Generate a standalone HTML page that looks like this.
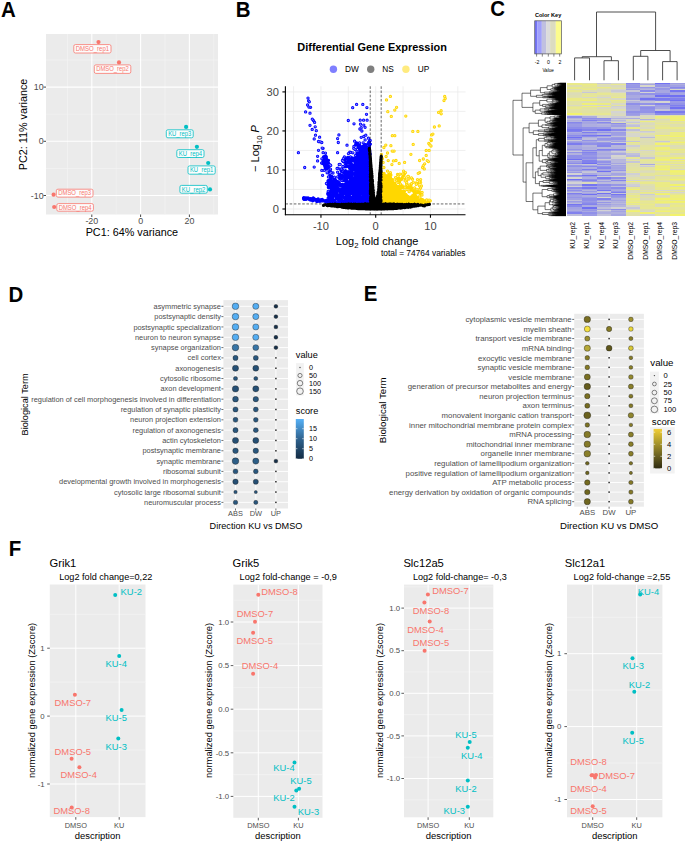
<!DOCTYPE html>
<html><head><meta charset="utf-8"><style>
html,body{margin:0;padding:0;background:#fff;}
svg{display:block;font-family:"Liberation Sans",sans-serif;}
</style></head><body>
<svg width="685" height="842" viewBox="0 0 685 842">
<text transform="translate(0.9 17.1) scale(0.93 1)" font-size="22" font-weight="bold" fill="#000">A</text>
<text transform="translate(235.8 17.3) scale(0.93 1)" font-size="22" font-weight="bold" fill="#000">B</text>
<text transform="translate(490.3 16) scale(0.93 1)" font-size="22" font-weight="bold" fill="#000">C</text>
<text transform="translate(8.5 301.6) scale(0.93 1)" font-size="22" font-weight="bold" fill="#000">D</text>
<text transform="translate(363.7 301.4) scale(0.93 1)" font-size="22" font-weight="bold" fill="#000">E</text>
<text transform="translate(8.8 556.4) scale(0.93 1)" font-size="22" font-weight="bold" fill="#000">F</text>
<rect x="46" y="34" width="172" height="180.5" fill="#EBEBEB"/>
<line x1="67.4" y1="34" x2="67.4" y2="214.5" stroke="#F5F5F5" stroke-width="0.6"/>
<line x1="116.2" y1="34" x2="116.2" y2="214.5" stroke="#F5F5F5" stroke-width="0.6"/>
<line x1="165" y1="34" x2="165" y2="214.5" stroke="#F5F5F5" stroke-width="0.6"/>
<line x1="213.8" y1="34" x2="213.8" y2="214.5" stroke="#F5F5F5" stroke-width="0.6"/>
<line x1="46" y1="60" x2="218" y2="60" stroke="#F5F5F5" stroke-width="0.6"/>
<line x1="46" y1="114.2" x2="218" y2="114.2" stroke="#F5F5F5" stroke-width="0.6"/>
<line x1="46" y1="168.4" x2="218" y2="168.4" stroke="#F5F5F5" stroke-width="0.6"/>
<line x1="91.8" y1="34" x2="91.8" y2="214.5" stroke="#FFFFFF" stroke-width="1.1"/>
<line x1="140.6" y1="34" x2="140.6" y2="214.5" stroke="#FFFFFF" stroke-width="1.1"/>
<line x1="189.4" y1="34" x2="189.4" y2="214.5" stroke="#FFFFFF" stroke-width="1.1"/>
<line x1="46" y1="87.1" x2="218" y2="87.1" stroke="#FFFFFF" stroke-width="1.1"/>
<line x1="46" y1="141.3" x2="218" y2="141.3" stroke="#FFFFFF" stroke-width="1.1"/>
<line x1="46" y1="195.5" x2="218" y2="195.5" stroke="#FFFFFF" stroke-width="1.1"/>
<line x1="43.5" y1="87.1" x2="46" y2="87.1" stroke="#333" stroke-width="0.9"/>
<text x="43.6" y="90.22" font-size="8.9" fill="#4D4D4D" text-anchor="end">10</text>
<line x1="43.5" y1="141.3" x2="46" y2="141.3" stroke="#333" stroke-width="0.9"/>
<text x="43.6" y="144.42" font-size="8.9" fill="#4D4D4D" text-anchor="end">0</text>
<line x1="43.5" y1="195.5" x2="46" y2="195.5" stroke="#333" stroke-width="0.9"/>
<text x="43.6" y="198.62" font-size="8.9" fill="#4D4D4D" text-anchor="end">-10</text>
<line x1="91.8" y1="214.5" x2="91.8" y2="217" stroke="#333" stroke-width="0.9"/>
<text x="91.8" y="224.4" font-size="8.9" fill="#4D4D4D" text-anchor="middle">-20</text>
<line x1="140.6" y1="214.5" x2="140.6" y2="217" stroke="#333" stroke-width="0.9"/>
<text x="140.6" y="224.4" font-size="8.9" fill="#4D4D4D" text-anchor="middle">0</text>
<line x1="189.4" y1="214.5" x2="189.4" y2="217" stroke="#333" stroke-width="0.9"/>
<text x="189.4" y="224.4" font-size="8.9" fill="#4D4D4D" text-anchor="middle">20</text>
<text x="131.9" y="235.8" font-size="10.8" fill="#000" text-anchor="middle">PC1: 64% variance</text>
<text x="27.3" y="124.5" font-size="10.8" fill="#000" text-anchor="middle" transform="rotate(-90 27.3 124.5)">PC2: 11% variance</text>
<circle cx="98.5" cy="42.1" r="2.1" fill="#F8766D"/>
<circle cx="119" cy="62.4" r="2.1" fill="#F8766D"/>
<circle cx="53.6" cy="194.7" r="2.1" fill="#F8766D"/>
<circle cx="54.2" cy="207" r="2.1" fill="#F8766D"/>
<circle cx="186.1" cy="126.9" r="2.1" fill="#00BFC4"/>
<circle cx="196.9" cy="146.8" r="2.1" fill="#00BFC4"/>
<circle cx="208.2" cy="163" r="2.1" fill="#00BFC4"/>
<circle cx="210" cy="189.4" r="2.1" fill="#00BFC4"/>
<rect x="73.8" y="44.6" width="37.2" height="8.4" rx="1.6" fill="#fff" fill-opacity="0.85" stroke="#F8766D" stroke-width="0.8"/>
<text x="92.4" y="51.05" font-size="6.5" fill="#F8766D" text-anchor="middle" textLength="33.4" lengthAdjust="spacingAndGlyphs">DMSO_rep1</text>
<rect x="94.3" y="64.9" width="36.5" height="8.5" rx="1.6" fill="#fff" fill-opacity="0.85" stroke="#F8766D" stroke-width="0.8"/>
<text x="112.55" y="71.4" font-size="6.5" fill="#F8766D" text-anchor="middle" textLength="32.7" lengthAdjust="spacingAndGlyphs">DMSO_rep2</text>
<rect x="56.3" y="189.2" width="36.7" height="7.9" rx="1.6" fill="#fff" fill-opacity="0.85" stroke="#F8766D" stroke-width="0.8"/>
<text x="74.65" y="195.4" font-size="6.5" fill="#F8766D" text-anchor="middle" textLength="32.9" lengthAdjust="spacingAndGlyphs">DMSO_rep3</text>
<rect x="56.8" y="203.6" width="36.6" height="7.6" rx="1.6" fill="#fff" fill-opacity="0.85" stroke="#F8766D" stroke-width="0.8"/>
<text x="75.1" y="209.65" font-size="6.5" fill="#F8766D" text-anchor="middle" textLength="32.8" lengthAdjust="spacingAndGlyphs">DMSO_rep4</text>
<rect x="166.3" y="129.8" width="26.9" height="8" rx="1.6" fill="#fff" fill-opacity="0.85" stroke="#00BFC4" stroke-width="0.8"/>
<text x="179.75" y="136.05" font-size="6.5" fill="#00BFC4" text-anchor="middle" textLength="23.1" lengthAdjust="spacingAndGlyphs">KU_rep3</text>
<rect x="176.8" y="149.7" width="27.2" height="7.8" rx="1.6" fill="#fff" fill-opacity="0.85" stroke="#00BFC4" stroke-width="0.8"/>
<text x="190.4" y="155.85" font-size="6.5" fill="#00BFC4" text-anchor="middle" textLength="23.4" lengthAdjust="spacingAndGlyphs">KU_rep4</text>
<rect x="188" y="165.9" width="27.2" height="8.3" rx="1.6" fill="#fff" fill-opacity="0.85" stroke="#00BFC4" stroke-width="0.8"/>
<text x="201.6" y="172.3" font-size="6.5" fill="#00BFC4" text-anchor="middle" textLength="23.4" lengthAdjust="spacingAndGlyphs">KU_rep1</text>
<rect x="179.9" y="185.4" width="27.4" height="7.8" rx="1.6" fill="#fff" fill-opacity="0.85" stroke="#00BFC4" stroke-width="0.8"/>
<text x="193.6" y="191.55" font-size="6.5" fill="#00BFC4" text-anchor="middle" textLength="23.6" lengthAdjust="spacingAndGlyphs">KU_rep2</text>
<text x="372.1" y="50.6" font-size="10.95" fill="#000" text-anchor="middle" font-weight="bold">Differential Gene Expression</text>
<circle cx="333.4" cy="69.3" r="3.7" fill="#0000FF" fill-opacity="0.5"/>
<text x="345.1" y="72.2" font-size="8.3" fill="#000">DW</text>
<circle cx="370.7" cy="69.3" r="3.7" fill="#000000" fill-opacity="0.5"/>
<text x="382.3" y="72.2" font-size="8.3" fill="#000">NS</text>
<circle cx="405.9" cy="69.3" r="3.7" fill="#FFD700" fill-opacity="0.5"/>
<text x="417.8" y="72.2" font-size="8.3" fill="#000">UP</text>
<line x1="293.57" y1="86.3" x2="293.57" y2="214.7" stroke="#EBEBEB" stroke-width="0.8"/>
<line x1="320.95" y1="86.3" x2="320.95" y2="214.7" stroke="#EBEBEB" stroke-width="0.8"/>
<line x1="348.32" y1="86.3" x2="348.32" y2="214.7" stroke="#EBEBEB" stroke-width="0.8"/>
<line x1="375.7" y1="86.3" x2="375.7" y2="214.7" stroke="#EBEBEB" stroke-width="0.8"/>
<line x1="403.07" y1="86.3" x2="403.07" y2="214.7" stroke="#EBEBEB" stroke-width="0.8"/>
<line x1="430.45" y1="86.3" x2="430.45" y2="214.7" stroke="#EBEBEB" stroke-width="0.8"/>
<line x1="457.82" y1="86.3" x2="457.82" y2="214.7" stroke="#EBEBEB" stroke-width="0.8"/>
<line x1="285.4" y1="209" x2="465.5" y2="209" stroke="#EBEBEB" stroke-width="0.8"/>
<line x1="285.4" y1="189.49" x2="465.5" y2="189.49" stroke="#EBEBEB" stroke-width="0.8"/>
<line x1="285.4" y1="169.97" x2="465.5" y2="169.97" stroke="#EBEBEB" stroke-width="0.8"/>
<line x1="285.4" y1="150.45" x2="465.5" y2="150.45" stroke="#EBEBEB" stroke-width="0.8"/>
<line x1="285.4" y1="130.94" x2="465.5" y2="130.94" stroke="#EBEBEB" stroke-width="0.8"/>
<line x1="285.4" y1="111.42" x2="465.5" y2="111.42" stroke="#EBEBEB" stroke-width="0.8"/>
<line x1="285.4" y1="91.91" x2="465.5" y2="91.91" stroke="#EBEBEB" stroke-width="0.8"/>
<path d="M361.3 167.9h0M321.8 142.5h0M369.3 143.0h0M369.2 145.2h0M359.4 164.7h0M347.8 190.3h0M361.4 184.8h0M353.4 180.9h0M369.1 150.9h0M349.5 200.3h0M366.5 146.8h0M313.4 199.0h0M368.2 203.1h0M366.0 182.2h0M362.2 154.0h0M349.3 189.7h0M354.4 199.9h0M352.8 201.9h0M358.1 158.7h0M318.5 141.5h0M365.8 147.6h0M367.9 201.6h0M342.8 192.5h0M361.1 185.4h0M328.6 180.4h0M357.0 163.9h0M362.4 151.5h0M364.5 178.9h0M362.1 158.4h0M351.7 168.2h0M345.7 163.1h0M359.0 188.4h0M360.5 184.0h0M324.9 158.4h0M350.5 162.5h0M354.9 189.6h0M334.3 200.2h0M369.3 184.6h0M343.7 194.0h0M365.8 190.2h0M364.3 196.7h0M336.1 202.7h0M354.7 159.4h0M362.0 188.4h0M334.9 186.9h0M368.8 202.2h0M366.0 153.1h0M357.4 180.2h0M369.1 173.7h0M355.8 143.8h0M342.2 202.5h0M359.7 187.0h0M352.3 169.0h0M348.5 201.6h0M352.7 107.7h0M369.8 175.6h0M357.4 191.1h0M365.4 168.8h0M369.1 181.9h0M354.5 196.3h0M335.3 191.1h0M365.2 203.5h0M359.7 175.0h0M330.7 165.4h0M365.4 144.9h0M358.1 160.9h0M369.1 196.4h0M355.7 194.3h0M359.0 203.9h0M360.9 179.8h0M325.5 153.1h0M332.1 188.3h0M325.6 167.1h0M368.0 202.0h0M336.6 181.2h0M326.6 159.8h0M360.2 158.3h0M328.2 191.3h0M352.0 203.4h0M367.1 196.6h0M356.8 198.7h0M350.2 182.0h0M310.0 113.2h0M348.4 192.0h0M337.1 198.2h0M354.0 184.5h0M366.1 188.6h0M334.1 184.9h0M337.6 152.7h0M366.4 175.7h0M348.7 195.6h0M346.3 183.9h0M329.9 164.7h0M357.7 181.9h0M355.4 168.9h0M350.4 194.1h0M361.5 149.9h0M369.6 183.8h0M355.9 163.0h0M347.0 200.0h0M339.5 195.3h0M356.2 192.2h0M368.3 201.3h0M362.9 166.1h0M351.8 193.0h0M363.6 203.5h0M349.8 194.2h0M355.0 189.7h0M359.9 129.0h0M349.1 181.9h0M328.6 199.5h0M337.8 187.5h0M369.1 199.5h0M344.1 172.4h0M365.4 201.4h0M355.3 177.5h0M361.1 184.0h0M356.0 181.1h0M310.6 198.6h0M360.1 172.5h0M345.3 184.4h0M362.4 147.1h0M344.7 173.6h0M349.1 171.7h0M363.5 191.8h0M345.2 163.5h0M348.3 172.7h0M330.2 177.2h0M323.0 200.1h0M365.4 158.9h0M320.2 141.8h0M332.0 199.8h0M357.3 185.4h0M343.6 189.1h0M344.9 188.9h0M369.9 194.7h0M366.0 175.9h0M341.5 177.2h0M344.8 184.5h0M354.6 197.9h0M350.4 180.7h0M326.6 161.6h0M363.3 203.8h0M355.7 164.0h0M365.8 159.7h0M367.1 196.0h0M342.3 179.5h0M360.1 199.6h0M363.4 146.3h0M366.0 194.6h0M369.9 185.3h0M369.2 199.4h0M334.3 192.7h0M337.4 195.9h0M329.8 181.8h0M341.5 184.6h0M366.3 165.0h0M363.2 167.5h0M358.6 164.8h0M367.6 201.7h0M308.9 199.1h0M328.4 162.8h0M352.4 190.8h0M355.6 168.1h0M369.7 198.2h0M337.1 188.0h0M355.5 155.5h0M326.9 160.0h0M348.4 159.9h0M339.6 178.2h0M355.9 176.5h0M362.8 198.3h0M365.5 158.7h0M355.3 202.0h0M361.5 179.0h0M355.3 182.2h0M352.0 184.1h0M362.5 154.9h0M368.4 175.9h0M365.9 195.3h0M321.6 163.1h0M369.5 183.7h0M361.7 200.6h0M336.8 183.1h0M367.1 178.9h0M369.6 175.5h0M337.6 172.2h0M368.6 153.6h0M361.0 169.4h0M332.3 201.8h0M369.4 194.8h0M359.1 180.1h0M361.1 202.6h0M353.5 191.9h0M342.4 178.2h0M370.2 140.5h0M366.7 150.2h0M355.8 201.9h0M357.9 191.1h0M352.2 191.2h0M339.2 174.5h0M366.1 174.6h0M359.5 186.3h0M368.3 175.5h0M340.7 169.6h0M355.7 169.9h0M366.5 191.6h0M369.2 163.7h0M354.7 195.7h0M363.0 190.0h0M364.1 185.5h0M359.4 192.8h0M332.7 193.0h0M351.6 181.2h0M368.3 156.1h0M365.6 203.6h0M346.2 176.5h0M369.5 169.4h0M358.5 178.9h0M364.0 162.3h0M367.5 180.7h0M350.6 202.5h0M348.2 202.4h0M364.4 149.8h0M366.1 199.0h0M320.8 200.2h0M366.5 150.8h0M355.6 144.9h0M356.9 195.8h0M360.4 151.7h0M344.8 175.8h0M367.3 153.9h0M369.4 158.5h0M366.6 148.4h0M369.3 168.9h0M338.7 202.9h0M339.1 184.3h0M361.9 188.8h0M339.2 182.3h0M345.9 203.2h0M358.1 165.4h0M341.7 173.5h0M365.6 185.2h0M359.4 187.5h0M328.0 180.9h0M363.3 202.8h0M356.1 161.4h0M358.9 191.4h0M365.3 146.3h0M367.6 172.2h0M363.4 183.3h0M336.8 199.1h0M369.2 159.0h0M353.4 168.3h0M360.5 188.8h0M366.1 191.9h0M351.0 159.9h0M364.5 200.2h0M352.1 187.4h0M365.1 169.3h0M358.5 168.4h0M334.3 190.8h0M370.0 183.1h0M343.1 192.2h0M344.2 201.0h0M339.4 198.5h0M355.0 194.2h0M357.4 183.8h0M351.3 168.4h0M353.9 146.4h0M361.7 183.7h0M313.2 200.6h0M358.7 154.5h0M362.5 168.1h0M365.1 158.5h0M369.7 140.8h0M365.4 154.6h0M358.3 156.3h0M362.7 164.7h0M363.3 197.1h0M355.0 180.2h0M363.4 152.9h0M363.5 196.3h0M369.3 202.9h0M333.3 202.9h0M369.5 202.7h0M370.2 188.8h0M368.7 197.8h0M357.8 173.9h0M355.8 195.5h0M368.9 162.4h0M365.5 192.6h0M362.8 189.9h0M358.0 189.1h0M361.0 184.8h0M331.7 183.3h0M360.9 180.5h0M363.4 179.8h0M359.5 145.2h0M337.9 189.3h0M336.9 189.7h0M369.6 190.2h0M363.2 188.4h0M361.9 161.0h0M360.1 153.7h0M360.9 179.3h0M355.8 169.4h0M355.6 182.1h0M361.6 169.0h0M331.7 186.8h0M366.1 203.9h0M361.2 127.7h0M343.2 161.5h0M364.2 150.2h0M370.0 194.0h0M361.4 184.4h0M336.9 187.9h0M369.8 177.9h0M362.1 193.7h0M352.0 186.1h0M354.9 167.4h0M365.6 171.0h0M364.1 187.8h0M327.3 168.4h0M366.3 163.4h0M359.1 186.4h0M359.2 168.3h0M368.3 201.0h0M350.4 177.6h0M339.2 180.8h0M365.2 200.7h0M325.7 165.8h0M343.0 202.5h0M329.7 184.4h0M349.9 176.5h0M350.9 186.4h0M369.7 196.2h0M357.6 186.6h0M355.1 191.4h0M334.0 192.5h0M358.7 145.5h0M369.5 153.2h0M345.2 202.8h0M348.7 188.0h0M368.2 171.3h0M357.9 199.6h0M359.3 194.2h0M358.8 185.2h0M352.0 165.7h0M337.9 197.2h0M309.2 199.2h0M344.9 166.9h0M357.5 199.1h0M317.3 199.4h0M359.3 202.5h0M337.2 195.7h0M358.2 147.5h0M334.5 185.8h0M322.2 199.5h0M321.8 170.4h0M305.8 199.0h0M358.7 162.4h0M335.3 184.3h0M365.2 189.7h0M360.7 189.5h0M331.6 197.8h0M360.3 159.7h0M370.1 179.3h0M352.2 174.8h0M367.5 190.9h0M369.7 201.0h0M367.5 181.3h0M364.1 198.5h0M355.7 159.3h0M354.7 173.3h0M358.5 178.6h0M355.3 202.5h0M369.7 152.1h0M364.5 180.6h0M359.1 190.4h0M363.3 188.2h0M329.7 185.7h0M334.9 201.7h0M325.3 168.4h0M368.2 182.8h0M363.8 170.8h0M354.0 183.4h0M349.3 201.0h0M365.5 201.6h0M369.6 189.5h0M366.4 201.7h0M361.2 198.8h0M355.1 179.0h0M352.0 167.6h0M368.2 152.6h0M344.8 192.9h0M365.6 157.5h0M359.7 170.3h0M360.6 175.8h0M367.2 176.4h0M312.6 200.8h0M350.1 174.7h0M363.5 186.7h0M353.9 169.8h0M359.2 203.6h0M352.7 167.1h0M331.5 189.4h0M368.0 165.8h0M305.6 111.9h0M313.6 120.7h0M337.3 203.9h0M340.7 186.2h0M367.2 202.3h0M349.7 168.4h0M328.5 201.1h0M362.7 177.6h0M368.3 152.6h0M364.8 161.8h0M365.5 155.1h0M359.7 156.4h0M362.5 190.7h0M344.4 203.0h0M357.9 177.6h0M366.9 180.7h0M337.6 199.0h0M346.1 185.4h0M345.2 172.7h0M361.8 175.8h0M363.0 193.4h0M330.4 202.2h0M364.7 194.1h0M352.0 189.5h0M363.1 142.8h0M340.0 189.7h0M366.0 191.7h0M324.2 163.4h0M365.2 180.5h0M356.1 159.2h0M360.0 195.4h0M366.2 203.8h0M364.8 151.2h0M362.2 154.9h0M354.7 195.2h0M310.4 200.1h0M366.0 166.6h0M329.7 199.2h0M357.6 193.0h0M332.1 203.1h0" stroke="#0000FF" stroke-width="3.3" stroke-linecap="round" fill="none"/>
<path d="M321.8 142.5h0M318.5 141.5h0M352.7 107.7h0M330.7 165.4h0M325.5 153.1h0M328.2 191.3h0M310.0 113.2h0M337.6 152.7h0M329.9 164.7h0M359.9 129.0h0M345.2 163.5h0M320.2 141.8h0M355.5 155.5h0M321.6 163.1h0M337.6 172.2h0M370.2 140.5h0M339.2 174.5h0M340.7 169.6h0M341.7 173.5h0M353.9 146.4h0M361.2 127.7h0M343.2 161.5h0M339.2 180.8h0M321.8 170.4h0M305.6 111.9h0M313.6 120.7h0M363.1 142.8h0" stroke="#8282FF" stroke-width="1.5" stroke-linecap="round" fill="none"/>
<path d="M313.0 199.8h0M367.2 183.7h0M358.1 178.2h0M354.8 175.7h0M367.8 170.3h0M367.8 198.3h0M334.1 178.3h0M362.0 197.6h0M332.2 190.8h0M329.1 201.9h0M361.4 180.6h0M334.9 185.9h0M336.7 192.5h0M359.0 157.7h0M354.4 177.9h0M368.8 157.7h0M345.7 189.9h0M368.9 159.0h0M361.4 169.2h0M355.6 179.4h0M358.8 175.6h0M366.7 203.6h0M355.8 162.8h0M368.2 183.6h0M350.8 198.3h0M368.1 170.8h0M343.5 161.2h0M356.5 197.3h0M360.8 172.9h0M310.6 107.3h0M369.3 141.7h0M331.1 203.3h0M322.6 175.3h0M364.5 155.2h0M358.8 186.4h0M367.0 196.0h0M325.2 161.7h0M351.3 165.0h0M361.0 171.7h0M367.9 198.1h0M343.8 187.8h0M362.2 199.3h0M365.3 170.5h0M367.9 196.9h0M349.0 157.7h0M368.3 201.6h0M369.2 181.4h0M360.4 160.8h0M365.6 171.6h0M331.7 176.3h0M351.7 193.3h0M363.7 194.8h0M364.7 199.1h0M338.6 182.6h0M334.6 202.9h0M313.2 198.0h0M351.3 164.2h0M342.9 193.1h0M364.4 187.6h0M356.3 190.8h0M357.2 181.5h0M345.1 185.2h0M366.1 177.7h0M337.7 197.6h0M329.0 195.5h0M353.4 201.5h0M312.0 199.0h0M364.4 163.1h0M340.2 164.4h0M354.6 185.4h0M363.4 162.9h0M347.5 190.0h0M367.7 174.5h0M350.5 203.8h0M366.7 193.5h0M334.9 184.6h0M362.1 156.6h0M364.0 198.9h0M357.9 195.6h0M363.6 188.0h0M366.5 166.6h0M348.5 163.2h0M305.7 198.0h0M368.5 176.4h0M333.3 203.8h0M365.5 174.7h0M356.6 144.8h0M363.8 136.5h0M334.1 195.9h0M365.8 176.7h0M357.5 170.1h0M356.9 186.0h0M350.0 162.3h0M347.9 198.0h0M335.2 189.6h0M339.4 177.2h0M366.1 175.8h0M359.8 190.8h0M360.4 152.4h0M335.3 192.1h0M323.1 152.7h0M326.4 156.9h0M366.8 188.7h0M348.8 201.5h0M367.0 172.4h0M323.0 163.7h0M369.1 157.2h0M343.2 191.0h0M369.1 200.3h0M366.4 164.0h0M367.4 184.4h0M342.4 169.7h0M361.0 161.3h0M357.4 170.1h0M368.5 203.0h0M362.7 180.2h0M361.1 191.8h0M361.2 154.1h0M358.0 187.7h0M352.4 158.0h0M364.8 163.2h0M362.6 171.4h0M357.7 198.5h0M345.1 201.7h0M367.2 163.5h0M367.6 201.0h0M350.3 186.2h0M355.1 194.9h0M357.9 162.2h0M364.2 174.8h0M327.8 193.3h0M353.4 186.5h0M344.1 201.3h0M363.5 170.7h0M347.0 181.1h0M350.5 197.9h0M333.0 190.2h0M355.0 185.0h0M345.7 180.2h0M359.3 199.8h0M340.4 196.0h0M363.5 189.7h0M367.4 170.9h0M367.3 199.8h0M366.7 203.1h0M362.5 201.9h0M365.7 188.7h0M356.9 151.3h0M364.7 190.6h0M367.8 184.2h0M369.0 174.8h0M356.2 162.7h0M346.3 179.4h0M325.7 157.3h0M353.1 196.2h0M346.4 181.2h0M359.3 157.9h0M360.3 198.1h0M336.6 203.2h0M347.0 145.2h0M358.5 202.6h0M368.3 203.3h0M369.5 197.6h0M344.8 192.2h0M366.7 164.0h0M370.2 154.1h0M364.6 177.3h0M333.8 193.8h0M364.6 186.6h0M366.9 173.3h0M363.6 163.0h0M368.1 171.9h0M341.5 203.5h0M306.9 198.6h0M327.0 201.5h0M365.0 201.9h0M365.8 135.2h0M354.3 203.1h0M357.5 175.5h0M356.6 104.4h0M363.8 154.8h0M329.3 180.3h0M328.5 160.3h0M323.5 156.9h0M329.9 183.4h0M350.3 180.4h0M354.7 187.2h0M366.9 176.0h0M369.3 155.6h0M364.4 191.1h0M349.6 199.7h0M364.7 152.9h0M370.4 144.1h0M357.3 195.3h0M358.4 170.8h0M366.6 161.7h0M353.1 196.7h0M359.6 149.6h0M352.9 179.5h0M361.1 170.2h0M366.2 151.7h0M341.7 185.6h0M366.3 185.5h0M343.8 193.4h0M354.7 186.3h0M342.5 188.6h0M369.5 165.5h0M369.7 172.0h0M367.1 120.2h0M326.2 158.1h0M367.2 195.4h0M336.6 185.8h0M353.7 181.7h0M355.3 190.2h0M358.4 163.1h0M369.9 182.3h0M356.5 201.4h0M367.1 182.7h0M361.6 160.7h0M357.3 156.4h0M363.7 202.6h0M353.3 199.6h0M369.7 144.8h0M358.3 178.0h0M318.5 150.3h0M367.8 178.1h0M364.4 193.1h0M362.8 186.6h0M365.4 183.6h0M368.4 138.2h0M352.2 160.6h0M330.8 182.4h0M356.8 172.6h0M365.3 149.9h0M370.1 194.7h0M361.7 158.1h0M324.6 201.0h0M313.0 199.2h0M358.2 166.6h0M368.5 173.4h0M356.9 201.9h0M362.7 161.5h0M356.5 185.5h0M346.4 173.2h0M335.9 181.7h0M330.8 200.2h0M334.9 189.7h0M365.1 127.3h0M355.0 201.7h0M369.4 199.7h0M352.2 191.0h0M339.2 164.5h0M303.5 198.1h0M330.8 198.5h0M368.8 202.5h0M369.9 189.6h0M354.6 167.0h0M367.8 166.2h0M352.6 199.5h0M351.1 169.5h0M364.7 194.1h0M360.2 120.2h0M364.7 169.3h0M366.1 152.6h0M368.5 199.5h0M362.4 202.7h0M361.5 181.3h0M363.6 182.0h0M358.7 202.2h0M329.1 187.1h0M360.5 172.6h0M361.8 198.7h0M338.9 134.9h0M368.2 177.6h0M333.0 173.0h0M361.2 191.1h0M362.8 178.9h0M366.6 195.5h0M354.6 141.2h0M367.2 180.4h0M367.4 183.4h0M355.5 179.3h0M363.6 194.4h0M357.8 175.2h0M340.2 191.2h0M363.4 196.0h0M363.8 125.1h0M365.3 186.9h0M352.8 197.0h0M312.2 198.7h0M350.0 197.7h0M369.7 150.9h0M341.9 191.7h0M350.6 203.7h0M339.0 196.8h0M326.7 200.9h0M347.6 178.1h0M330.8 200.2h0M327.3 201.0h0M365.2 174.9h0M361.0 174.4h0M330.2 200.7h0M346.3 203.7h0M358.8 175.8h0M363.8 167.8h0M346.2 193.5h0M364.8 163.6h0M333.7 180.7h0M368.4 192.2h0M367.3 182.0h0M327.9 201.7h0M365.6 202.4h0M369.1 200.3h0M359.7 193.7h0M348.7 196.5h0M344.4 157.0h0M362.6 164.8h0M358.7 197.1h0M365.2 158.8h0M362.9 160.9h0M315.2 199.7h0M345.1 160.7h0M349.2 195.9h0M356.5 173.7h0M354.4 196.9h0M354.4 188.1h0M369.8 143.9h0M369.1 152.4h0M346.2 203.7h0M367.4 198.0h0M347.6 157.5h0M326.3 201.5h0M353.3 181.6h0M358.4 193.2h0M338.3 142.5h0M365.6 180.9h0M354.0 123.8h0M366.3 191.6h0M360.8 184.8h0M361.9 193.1h0M362.5 186.8h0M349.8 152.1h0M359.4 199.1h0M359.9 152.7h0M366.8 176.4h0M365.2 144.6h0M346.4 195.7h0M336.4 193.1h0M366.1 175.6h0M352.6 199.4h0M346.8 162.5h0M337.9 184.8h0M366.7 153.2h0M347.3 202.4h0M356.2 163.2h0M368.0 159.5h0M364.0 188.9h0M342.4 160.5h0M330.1 193.1h0M341.8 203.7h0M324.0 158.8h0M364.0 200.4h0M358.8 154.9h0M334.9 179.0h0M354.9 185.3h0M315.8 199.5h0M359.4 177.8h0M345.2 191.8h0M366.4 166.5h0M343.5 192.8h0M362.4 197.8h0M361.9 171.1h0M325.7 164.1h0M369.7 203.5h0M370.1 187.7h0M367.6 173.6h0M362.7 175.3h0M360.2 167.2h0M353.5 178.1h0M336.6 190.7h0M352.3 172.1h0M346.2 195.1h0M369.9 190.8h0M356.6 143.0h0M343.1 187.3h0M342.0 199.9h0M366.8 182.2h0M364.0 203.9h0M319.4 201.0h0M366.4 198.6h0M355.5 182.6h0M332.3 183.3h0M305.1 199.2h0M325.7 155.8h0M369.2 201.3h0M354.2 187.6h0M365.6 173.1h0M363.9 158.4h0M315.9 199.9h0M331.2 195.3h0M332.3 190.4h0M358.2 178.2h0M354.6 168.1h0M355.7 149.7h0M345.5 170.7h0M351.0 161.6h0M367.8 152.5h0M364.0 185.7h0M366.9 107.6h0M324.7 165.4h0M368.9 161.9h0M361.0 164.3h0M369.7 174.9h0M357.2 174.7h0M353.3 159.2h0M350.4 166.9h0M365.8 158.4h0M340.7 196.8h0M360.8 179.1h0M359.9 161.7h0M349.8 197.9h0M356.6 158.6h0M369.0 190.2h0M361.9 189.4h0M334.4 202.1h0M365.9 150.4h0M330.5 179.3h0M367.2 156.0h0M357.4 165.6h0M352.7 201.3h0M369.0 203.0h0M364.0 164.8h0M359.9 168.8h0M369.4 202.8h0M369.5 158.4h0M348.9 161.4h0M333.9 188.0h0M351.9 183.7h0M344.1 203.3h0M366.8 193.1h0M358.7 178.8h0M368.8 193.9h0M312.7 198.9h0M329.2 187.2h0M344.1 197.5h0M339.5 184.7h0M351.2 198.2h0M361.4 172.7h0M369.5 202.3h0" stroke="#0000FF" stroke-width="3.3" stroke-linecap="round" fill="none"/>
<path d="M343.5 161.2h0M310.6 107.3h0M322.6 175.3h0M340.2 164.4h0M363.8 136.5h0M323.1 152.7h0M342.4 169.7h0M356.9 151.3h0M347.0 145.2h0M365.8 135.2h0M356.6 104.4h0M367.1 120.2h0M318.5 150.3h0M368.4 138.2h0M365.1 127.3h0M339.2 164.5h0M360.2 120.2h0M338.9 134.9h0M333.0 173.0h0M354.6 141.2h0M363.8 125.1h0M344.4 157.0h0M338.3 142.5h0M354.0 123.8h0M349.8 152.1h0M342.4 160.5h0M355.7 149.7h0M366.9 107.6h0" stroke="#8282FF" stroke-width="1.5" stroke-linecap="round" fill="none"/>
<path d="M369.4 184.6h0M365.7 165.3h0M361.9 183.7h0M366.6 189.9h0M369.1 146.3h0M367.2 200.8h0M346.7 186.4h0M361.9 164.0h0M325.3 157.6h0M365.8 179.4h0M332.6 195.3h0M359.9 168.1h0M357.3 201.7h0M364.0 150.2h0M361.5 201.1h0M361.9 182.0h0M362.8 104.4h0M359.8 156.9h0M367.1 192.5h0M361.7 192.2h0M367.6 185.2h0M333.9 202.9h0M353.8 148.4h0M353.4 189.0h0M342.9 166.8h0M350.4 180.3h0M364.0 168.9h0M366.8 170.9h0M343.3 187.2h0M369.2 147.5h0M366.8 191.7h0M364.1 201.1h0M306.9 198.1h0M349.4 202.7h0M358.5 173.0h0M350.5 189.7h0M366.8 201.3h0M317.6 160.9h0M348.4 183.0h0M367.5 155.0h0M351.0 163.6h0M351.8 160.8h0M325.0 166.7h0M365.3 201.6h0M358.1 163.4h0M352.6 168.0h0M355.4 200.2h0M329.8 174.8h0M367.8 187.8h0M369.2 146.8h0M357.9 158.2h0M341.8 178.0h0M369.3 193.0h0M366.0 200.1h0M365.1 164.6h0M367.9 185.3h0M366.7 173.1h0M369.0 200.1h0M365.8 187.8h0M339.9 203.0h0M339.2 189.5h0M362.5 155.5h0M350.4 199.1h0M368.7 159.2h0M361.8 175.2h0M365.3 145.0h0M314.2 138.9h0M369.4 152.8h0M332.5 202.0h0M348.7 203.5h0M360.1 176.2h0M367.7 154.9h0M367.8 151.5h0M364.0 198.8h0M352.8 190.0h0M337.2 189.8h0M353.6 196.0h0M335.1 181.2h0M352.4 167.5h0M369.3 170.9h0M337.8 195.3h0M363.1 203.3h0M367.3 199.5h0M362.4 146.6h0M359.5 202.0h0M354.5 196.3h0M361.6 188.1h0M359.4 148.6h0M366.3 186.8h0M364.9 179.2h0M363.6 200.4h0M369.0 202.7h0M367.2 197.4h0M369.5 165.5h0M363.8 188.1h0M323.1 148.3h0M348.7 162.4h0M360.2 198.2h0M351.4 197.7h0M369.2 158.7h0M338.2 168.2h0M364.0 183.7h0M367.6 193.6h0M333.7 187.3h0M360.4 203.6h0M367.1 166.1h0M333.4 187.5h0M359.5 157.0h0M357.9 169.1h0M367.6 200.5h0M367.1 203.1h0M368.3 203.3h0M358.2 183.3h0M328.1 166.0h0M361.3 159.6h0M369.6 201.1h0M370.1 158.7h0M337.4 194.1h0M346.4 200.5h0M364.3 196.9h0M365.1 194.1h0M369.4 201.3h0M357.4 197.8h0M361.1 147.1h0M332.5 183.8h0M360.1 192.9h0M365.9 194.8h0M331.7 181.1h0M354.9 186.8h0M364.4 179.9h0M367.7 198.8h0M365.6 198.5h0M346.0 188.7h0M355.4 157.8h0M361.5 147.6h0M359.5 152.6h0M369.9 180.6h0M340.6 193.6h0M318.2 199.0h0M357.0 180.7h0M346.6 179.8h0M362.9 179.7h0M328.4 187.5h0M325.2 201.1h0M365.5 172.2h0M347.6 190.9h0M310.0 199.2h0M358.0 198.4h0M358.2 147.5h0M362.8 189.3h0M356.5 173.2h0M356.9 188.2h0M329.5 171.5h0M366.2 188.5h0M342.9 196.3h0M364.0 145.4h0M348.0 172.0h0M368.4 160.4h0M320.2 200.0h0M361.8 151.6h0M348.4 193.3h0M330.4 191.5h0M362.9 171.5h0M348.4 196.0h0M330.8 201.6h0M354.2 160.7h0M369.2 156.4h0M338.5 203.7h0M364.9 166.1h0M351.0 191.7h0M357.6 160.5h0M343.9 186.7h0M367.2 192.8h0M334.9 189.5h0M349.9 174.8h0M367.7 193.8h0M331.7 200.9h0M370.0 178.6h0M365.3 187.5h0M334.9 188.0h0M334.9 201.9h0M367.0 200.6h0M353.0 197.7h0M355.3 200.2h0M351.3 168.2h0M368.8 202.7h0M324.7 165.0h0M316.3 130.7h0M365.0 162.8h0M369.4 151.8h0M310.2 198.9h0M360.3 198.7h0M332.0 182.0h0M364.5 149.0h0M333.1 203.1h0M307.6 105.0h0M357.0 175.3h0M362.7 166.8h0M359.4 199.7h0M330.5 169.6h0M347.8 166.0h0M369.1 165.4h0M369.1 165.6h0M335.2 182.1h0M339.4 201.6h0M364.1 203.0h0M351.5 186.2h0M364.1 189.4h0M332.7 196.3h0M339.8 190.3h0M326.4 183.5h0M346.2 198.0h0M355.9 168.5h0M333.6 203.5h0M369.1 162.1h0M345.9 173.2h0M345.5 199.8h0M348.3 120.5h0M369.9 178.6h0M356.0 181.8h0M298.4 152.7h0M320.3 200.6h0M332.2 182.7h0M369.7 159.2h0M356.6 200.6h0M358.2 171.5h0M333.1 181.9h0M358.6 171.5h0M369.8 201.4h0M350.0 184.0h0M362.7 174.2h0M350.1 166.6h0M329.7 201.5h0M356.0 162.6h0M367.1 198.5h0M353.4 201.1h0M330.1 173.5h0M342.1 180.6h0M324.9 163.3h0M368.0 172.5h0M360.4 196.8h0M360.7 181.0h0M350.1 196.9h0M360.7 168.9h0M366.9 203.7h0M361.1 193.5h0M363.1 168.1h0M356.9 203.8h0M343.0 166.4h0M369.0 151.0h0M356.3 163.0h0M333.9 180.8h0M335.3 180.2h0M358.4 172.1h0M359.5 142.8h0M368.7 167.2h0M350.1 167.3h0M329.9 201.3h0M347.5 185.9h0M326.8 169.2h0M364.0 150.8h0M359.9 176.2h0M342.6 184.3h0M362.8 197.2h0M368.2 161.6h0M364.9 184.2h0M334.8 193.6h0M350.4 176.9h0M350.2 203.4h0M360.5 156.2h0M369.6 168.9h0M363.1 169.0h0M369.1 187.7h0M333.1 190.8h0M341.0 177.9h0M363.2 199.9h0M359.9 195.4h0M349.1 195.4h0M328.2 198.0h0M367.1 202.9h0M327.7 201.1h0M351.7 203.8h0M329.8 182.6h0M362.3 169.1h0M361.7 203.2h0M334.1 189.1h0M358.2 177.2h0M365.0 176.1h0M356.2 171.6h0M356.1 200.2h0M366.6 180.6h0M350.9 190.2h0M346.8 171.7h0M359.3 197.2h0M365.2 203.1h0M356.4 202.3h0M363.7 203.4h0M335.4 186.2h0M355.9 173.8h0M366.5 160.0h0M315.5 135.2h0M360.1 193.2h0M361.0 187.3h0M354.6 169.0h0M310.6 199.1h0M328.4 180.9h0M337.7 176.8h0M332.0 201.4h0M370.0 201.9h0M355.1 149.4h0M328.1 185.3h0M364.5 163.0h0M368.4 171.7h0M345.1 177.5h0M328.4 176.9h0M360.3 179.2h0M328.8 167.5h0M331.1 177.3h0M332.1 203.0h0M354.2 183.4h0M369.5 203.1h0M367.9 203.8h0M367.4 186.0h0M329.7 187.8h0M357.5 183.9h0M356.5 197.8h0M367.8 190.9h0M367.5 159.5h0M366.6 170.1h0M356.5 180.1h0M359.4 168.9h0M366.2 174.8h0M351.5 170.9h0M330.6 202.1h0M355.2 162.5h0M352.8 203.0h0M360.7 182.9h0M350.5 156.9h0M352.5 187.6h0M364.2 148.6h0M368.8 200.6h0M362.6 200.2h0M347.6 185.6h0M341.2 171.1h0M369.7 167.3h0M318.0 199.7h0M361.7 167.0h0M366.1 151.7h0M327.1 172.8h0M349.6 176.1h0M358.8 158.3h0M364.2 188.6h0M360.4 148.1h0M366.7 191.3h0M346.2 183.5h0M369.3 200.5h0M354.4 202.2h0M363.3 152.4h0M359.7 181.6h0M359.7 176.2h0M303.6 198.5h0M345.0 173.2h0M365.3 191.7h0M330.3 180.7h0M331.4 178.7h0M368.5 155.9h0M357.5 192.8h0M308.6 100.8h0M363.5 148.8h0M348.7 202.2h0M367.0 203.9h0M354.1 183.1h0M341.8 194.7h0M345.0 191.5h0M334.8 188.8h0M359.6 203.1h0M365.1 154.5h0M351.6 173.4h0M310.8 199.4h0M312.2 129.4h0M339.5 198.3h0M336.0 196.6h0M334.3 188.3h0M359.1 167.6h0M352.7 180.7h0M331.0 184.5h0M331.0 172.4h0M365.2 159.7h0M309.2 198.8h0M326.2 159.0h0M326.3 200.5h0M348.9 177.4h0M343.8 176.4h0M328.8 202.5h0M329.9 181.3h0M357.1 201.5h0M366.9 194.5h0M352.3 201.4h0M358.8 174.5h0M346.8 193.9h0M348.0 184.6h0M367.4 168.7h0M369.9 177.3h0M355.6 183.4h0M354.6 196.5h0M318.3 201.1h0M350.9 186.6h0M345.3 178.1h0M368.8 193.5h0M367.8 172.6h0M349.3 190.4h0M365.2 174.1h0M352.3 181.1h0M331.4 201.1h0M361.2 200.5h0M360.5 167.6h0M368.8 195.3h0M358.0 184.2h0M366.0 161.4h0M365.1 163.2h0M331.2 176.7h0M362.9 197.3h0M363.4 151.2h0M351.7 167.8h0M341.3 197.8h0M346.5 158.9h0M369.0 192.5h0M364.3 167.7h0M368.8 164.1h0M367.5 199.5h0M354.2 196.0h0M350.1 202.4h0M365.7 173.5h0M346.0 187.3h0M342.2 201.2h0M358.6 192.5h0M359.7 183.4h0M368.8 165.2h0M352.9 203.6h0M360.5 172.9h0M343.9 193.3h0M345.4 159.1h0M367.0 155.9h0M350.8 152.4h0M369.1 146.8h0M357.8 189.7h0M354.6 187.5h0M366.2 195.9h0M349.2 167.1h0" stroke="#0000FF" stroke-width="3.3" stroke-linecap="round" fill="none"/>
<path d="M362.8 104.4h0M353.8 148.4h0M342.9 166.8h0M317.6 160.9h0M314.2 138.9h0M323.1 148.3h0M338.2 168.2h0M316.3 130.7h0M307.6 105.0h0M330.5 169.6h0M326.4 183.5h0M348.3 120.5h0M298.4 152.7h0M330.1 173.5h0M342.1 180.6h0M343.0 166.4h0M359.5 142.8h0M328.2 198.0h0M315.5 135.2h0M337.7 176.8h0M355.1 149.4h0M328.4 176.9h0M350.5 156.9h0M327.1 172.8h0M308.6 100.8h0M312.2 129.4h0M331.0 172.4h0M350.8 152.4h0" stroke="#8282FF" stroke-width="1.5" stroke-linecap="round" fill="none"/>
<path d="M365.6 156.3h0M366.4 157.0h0M353.0 173.9h0M345.3 192.6h0M354.5 186.3h0M350.5 172.0h0M366.1 195.2h0M360.4 196.6h0M368.4 197.4h0M361.9 175.9h0M369.1 190.4h0M331.0 203.9h0M364.6 166.2h0M346.3 175.0h0M354.7 181.5h0M367.7 183.4h0M333.6 192.3h0M357.3 197.0h0M368.7 157.4h0M338.4 198.8h0M367.7 188.7h0M356.4 163.7h0M363.7 152.6h0M345.0 193.2h0M367.0 196.9h0M353.1 167.7h0M345.9 176.1h0M367.8 191.0h0M322.9 161.6h0M355.5 162.9h0M354.5 178.4h0M357.9 195.3h0M368.8 190.7h0M327.0 202.4h0M365.3 170.8h0M351.0 192.3h0M366.4 159.2h0M327.9 194.3h0M368.6 178.8h0M334.3 192.1h0M366.5 190.3h0M368.8 202.6h0M358.1 189.5h0M314.2 167.1h0M361.3 179.5h0M355.9 164.7h0M326.6 164.2h0M345.3 178.0h0M369.3 196.0h0M339.6 191.8h0M353.8 196.3h0M367.1 193.5h0M366.2 167.4h0M352.3 192.0h0M367.3 194.2h0M353.1 158.3h0M365.3 196.6h0M362.4 188.2h0M367.5 202.7h0M364.1 153.7h0M365.3 178.6h0M330.7 202.0h0M365.7 154.7h0M342.1 201.9h0M313.5 198.4h0M360.5 199.2h0M353.4 200.8h0M364.9 187.7h0M355.7 162.5h0M352.3 181.2h0M360.4 174.1h0M352.8 197.7h0M363.8 163.4h0M352.6 200.6h0M360.3 183.9h0M344.2 190.7h0M363.0 165.0h0M345.4 192.6h0M334.8 179.4h0M368.7 190.3h0M365.7 201.9h0M324.4 170.4h0M367.3 199.5h0M344.0 180.7h0M362.1 184.0h0M369.7 201.2h0M345.4 198.1h0M357.8 195.2h0M364.5 195.6h0M326.3 164.0h0M347.8 174.2h0M368.1 183.0h0M364.6 184.4h0M360.7 169.7h0M331.4 196.7h0M334.0 203.9h0M351.1 180.7h0M361.6 190.4h0M348.0 177.4h0M364.9 195.7h0M361.8 167.4h0M352.7 165.2h0M356.8 200.8h0M314.2 199.4h0M362.1 162.6h0M367.1 190.4h0M364.3 187.5h0M326.7 167.2h0M361.9 131.0h0M354.6 192.0h0M365.6 187.2h0M357.6 199.8h0M358.1 201.7h0M356.7 174.2h0M350.2 178.3h0M349.2 184.3h0M366.3 202.0h0M360.9 184.4h0M365.7 190.7h0M317.6 156.3h0M362.6 176.4h0M368.4 179.0h0M363.0 172.3h0M342.3 195.5h0M334.4 177.2h0M366.2 203.2h0M359.9 145.7h0M361.3 178.7h0M324.4 156.6h0M368.7 142.4h0M356.5 187.9h0M368.8 174.8h0M364.5 193.6h0M332.6 183.4h0M345.9 164.2h0M361.6 185.0h0M354.2 198.8h0M328.5 183.9h0M363.2 149.8h0M370.0 195.3h0M357.5 188.6h0M369.0 147.0h0M344.0 175.6h0M366.6 188.5h0M337.2 183.2h0M359.8 194.9h0M359.6 166.5h0M331.4 199.4h0M333.4 193.7h0M361.2 137.3h0M369.0 154.4h0M341.5 191.9h0M346.1 190.1h0M369.8 186.7h0M346.8 166.5h0M341.9 189.4h0M346.9 199.3h0M304.1 199.4h0M362.6 167.3h0M362.8 199.5h0M342.2 185.3h0M363.3 203.9h0M365.3 188.5h0M355.3 167.1h0M353.5 193.6h0M357.6 169.4h0M348.5 175.2h0M364.0 203.8h0M303.9 197.7h0M358.1 201.5h0M316.8 201.5h0M310.0 125.3h0M339.0 190.4h0M308.1 198.0h0M369.9 203.0h0M368.6 161.4h0M329.4 202.3h0M356.1 184.9h0M363.5 167.8h0M355.4 179.8h0M359.4 163.9h0M351.7 178.8h0M368.3 154.5h0M365.5 157.9h0M368.5 193.7h0M336.1 198.0h0M369.3 189.3h0M355.2 161.8h0M368.6 152.0h0M343.6 197.6h0M343.0 188.8h0M360.5 203.4h0M360.1 196.7h0M327.7 167.2h0M308.0 98.1h0M354.6 177.7h0M344.3 186.7h0M365.1 196.3h0M354.1 181.4h0M357.7 203.8h0M365.6 202.5h0M356.2 171.1h0M360.3 199.2h0M347.8 196.6h0M357.5 170.4h0M364.8 159.9h0M363.1 153.6h0M355.3 172.7h0M342.7 202.1h0M367.2 199.1h0M355.8 200.4h0M364.6 191.5h0M330.3 169.1h0M367.2 200.6h0M364.6 187.5h0M367.4 171.9h0M306.0 199.2h0M368.9 192.7h0M323.9 161.4h0M363.6 193.8h0M341.3 169.0h0M332.4 199.1h0M357.5 193.5h0M366.1 193.2h0M354.0 164.9h0M367.7 171.1h0M306.5 199.1h0M329.1 186.7h0M337.6 138.6h0M349.8 166.2h0M346.5 173.8h0M367.5 191.6h0M330.2 193.1h0M366.8 189.9h0M368.0 173.2h0M349.4 166.5h0M364.7 147.6h0M356.5 182.6h0M355.2 194.2h0M365.8 174.1h0M363.2 191.1h0M355.6 193.5h0M364.4 156.5h0M369.9 164.2h0M369.8 171.3h0M361.2 202.3h0M361.8 185.3h0M321.9 158.8h0M351.2 158.6h0M369.4 193.2h0M349.6 188.5h0M322.6 200.9h0M365.7 202.1h0M346.3 177.8h0M351.4 167.7h0M367.6 172.9h0M366.9 197.7h0M358.0 175.0h0M368.1 159.8h0M364.7 150.6h0M368.8 161.3h0M364.5 200.4h0M355.6 160.6h0M348.3 159.0h0M337.1 168.4h0M368.3 201.8h0M365.8 157.6h0M348.4 153.6h0M327.0 161.9h0M350.0 200.7h0M346.7 187.3h0M358.7 203.2h0M361.0 202.1h0M356.9 203.9h0M319.6 137.2h0M366.3 203.5h0M315.2 126.8h0M365.1 176.4h0M360.6 165.3h0M367.3 190.0h0M361.7 149.3h0M367.2 193.2h0M342.7 201.6h0M314.6 122.4h0M328.9 184.8h0M354.0 181.0h0M369.5 202.1h0M357.3 192.9h0M365.9 186.3h0M361.4 158.9h0M312.3 119.2h0M365.7 167.5h0M369.6 183.6h0M368.9 157.6h0M343.4 158.6h0M355.5 193.7h0M363.1 200.3h0M346.9 193.7h0M367.1 179.8h0M341.0 200.2h0M342.0 191.6h0M349.7 192.0h0M356.4 160.5h0M369.0 156.0h0M332.0 203.7h0M335.2 181.6h0M362.3 189.9h0M356.1 173.8h0M365.1 149.5h0M361.3 201.4h0M332.7 196.9h0M365.6 150.8h0M347.9 193.0h0M334.7 185.8h0M322.2 148.1h0M328.7 185.3h0M331.3 199.2h0M365.1 155.3h0M365.1 139.9h0M365.8 199.3h0M338.1 203.0h0M369.6 182.0h0M334.5 195.3h0M328.9 197.5h0M331.2 182.9h0M366.7 203.3h0M365.0 184.2h0M355.6 167.7h0M351.2 171.7h0M364.2 192.5h0M336.4 191.0h0M323.1 161.2h0M368.8 176.5h0M367.3 170.0h0M363.6 120.2h0M358.3 168.9h0M366.0 200.8h0M309.6 199.3h0M355.7 201.9h0M370.0 192.5h0M356.9 153.5h0M360.5 124.2h0M356.0 164.7h0M362.0 179.8h0M367.3 178.4h0M353.3 191.5h0M367.5 193.8h0M364.9 193.2h0M361.4 172.8h0M344.9 180.9h0M352.8 186.4h0M365.5 196.6h0M369.0 201.1h0M340.9 184.7h0M363.9 149.1h0M363.8 165.6h0M364.0 160.0h0M359.4 203.4h0M356.3 178.3h0M368.7 189.9h0M355.7 188.2h0M367.8 143.9h0M365.1 181.0h0M357.2 179.2h0M341.2 189.6h0M334.7 202.6h0M364.2 189.6h0M347.6 187.4h0M360.4 187.5h0M336.5 197.1h0M361.3 160.7h0M366.1 178.8h0M358.5 202.2h0M346.6 166.6h0M357.0 143.3h0M365.7 153.3h0M338.6 200.4h0M304.7 167.5h0M365.2 196.0h0M320.2 201.2h0M359.5 183.5h0M351.9 193.2h0M351.5 176.7h0M363.3 202.4h0M360.5 191.7h0M352.4 186.2h0M359.7 162.2h0M367.0 194.8h0M341.5 175.4h0M366.6 198.8h0M366.5 190.5h0M356.0 199.7h0M304.8 199.2h0M346.6 202.8h0M368.2 164.9h0M332.4 198.2h0M315.4 199.5h0M367.4 169.3h0M345.9 198.0h0M340.9 202.6h0M361.3 160.4h0M352.1 197.8h0M345.6 175.9h0M352.9 152.8h0M349.0 203.4h0M315.4 199.9h0M346.0 193.9h0M370.1 178.6h0M350.3 163.4h0M325.0 162.0h0M356.2 178.1h0M358.7 158.9h0M329.5 201.2h0M366.0 191.2h0M356.8 195.3h0M327.7 160.6h0M333.1 192.5h0M367.5 195.3h0M360.7 199.1h0M360.2 188.7h0M362.6 168.3h0M365.9 190.2h0M366.5 114.3h0M360.5 177.6h0M365.3 164.1h0M362.5 191.5h0M328.4 202.6h0M309.3 101.8h0M358.8 203.4h0M362.3 180.0h0M368.3 159.9h0M367.6 164.6h0M363.0 172.2h0M360.4 156.7h0M362.9 171.7h0M363.3 158.0h0M308.9 107.1h0M345.3 199.0h0M339.4 175.3h0M364.4 195.5h0M364.8 165.3h0M359.0 184.7h0M370.2 188.6h0M332.9 185.3h0M363.5 154.2h0M367.7 164.1h0M369.4 170.7h0M369.2 190.1h0M360.1 188.2h0" stroke="#0000FF" stroke-width="3.3" stroke-linecap="round" fill="none"/>
<path d="M314.2 167.1h0M324.4 170.4h0M361.9 131.0h0M317.6 156.3h0M334.4 177.2h0M361.2 137.3h0M310.0 125.3h0M308.0 98.1h0M330.3 169.1h0M341.3 169.0h0M337.6 138.6h0M321.9 158.8h0M337.1 168.4h0M348.4 153.6h0M319.6 137.2h0M315.2 126.8h0M314.6 122.4h0M312.3 119.2h0M343.4 158.6h0M322.2 148.1h0M365.1 139.9h0M363.6 120.2h0M360.5 124.2h0M304.7 167.5h0M352.9 152.8h0M366.5 114.3h0M309.3 101.8h0M308.9 107.1h0" stroke="#8282FF" stroke-width="1.5" stroke-linecap="round" fill="none"/>
<path d="M390.4 181.0h0M392.4 189.7h0M383.8 189.9h0M384.3 199.8h0M388.7 184.9h0M384.6 200.7h0M403.8 200.1h0M387.3 178.0h0M396.4 191.9h0M394.8 203.9h0M392.5 192.9h0M396.3 199.0h0M397.7 190.1h0M396.1 191.8h0M383.1 183.7h0M384.6 183.3h0M402.4 202.1h0M386.6 179.2h0M414.9 203.9h0M395.7 202.6h0M386.2 202.8h0M389.1 201.2h0M408.7 203.2h0M393.6 200.0h0M400.6 192.4h0M382.2 184.9h0M381.2 196.7h0M426.5 203.3h0M381.4 200.6h0M382.8 175.7h0M419.3 200.1h0M381.3 177.7h0M391.8 188.2h0M419.3 191.8h0M390.4 203.7h0M398.4 198.6h0M390.7 185.6h0M383.6 190.5h0M413.9 201.4h0M387.5 153.0h0M382.0 187.6h0M390.9 175.0h0M390.0 187.2h0M389.7 194.5h0M395.2 199.8h0M393.5 202.0h0M394.4 185.0h0M382.7 181.7h0M387.8 183.5h0M383.1 190.0h0M382.8 199.9h0M427.5 202.6h0M400.0 197.9h0M384.6 175.8h0M404.1 174.0h0M389.0 179.7h0M389.6 195.2h0M398.3 196.5h0M406.2 201.5h0M389.4 201.5h0M394.5 199.9h0M381.8 191.5h0M388.1 187.3h0M381.7 199.7h0M382.3 179.2h0M384.3 191.2h0M399.5 195.5h0M389.7 175.4h0M383.1 199.9h0M390.3 203.7h0M408.5 203.3h0M390.1 178.5h0M394.6 201.4h0M405.4 196.0h0M383.2 179.8h0M403.8 198.9h0M393.7 200.4h0M398.0 198.0h0M387.5 201.7h0M381.4 201.7h0M384.9 203.8h0M401.4 197.7h0M420.5 203.1h0M384.1 184.6h0M381.6 189.0h0M428.8 143.4h0M387.9 197.7h0M398.3 198.2h0M384.5 181.9h0M381.6 177.1h0M396.0 202.4h0M403.6 191.0h0M420.5 203.8h0M383.4 197.3h0M382.8 200.4h0M387.0 193.9h0M383.5 183.4h0M398.9 199.5h0M387.4 189.0h0M387.7 203.1h0M416.0 193.3h0M427.2 160.6h0M387.0 203.5h0M412.8 198.3h0M390.5 189.5h0M388.6 200.7h0M386.6 202.1h0M400.8 200.1h0M382.3 179.9h0M439.2 125.9h0M407.3 200.7h0M387.8 200.5h0M382.4 203.3h0M414.1 201.2h0M387.1 184.5h0M386.3 186.2h0M383.4 198.8h0M396.5 187.6h0M393.8 199.9h0M408.9 197.1h0M389.5 193.1h0M382.1 194.9h0M396.7 189.9h0M397.5 174.5h0M386.6 180.0h0M399.5 202.3h0M401.8 178.6h0M395.0 203.0h0M389.4 196.1h0M389.5 192.4h0M403.5 200.4h0M423.1 200.3h0M397.2 189.0h0M382.8 190.1h0M394.0 188.8h0M392.8 189.4h0M383.9 203.4h0M389.1 186.7h0M417.3 203.9h0M383.3 200.8h0M390.8 197.7h0M381.4 195.5h0M388.1 181.5h0M384.5 184.0h0M390.6 192.6h0M382.4 186.8h0M395.8 187.4h0M413.5 198.0h0M381.4 154.3h0M391.2 201.9h0M418.5 201.8h0M391.9 185.2h0M401.8 202.4h0M386.9 199.2h0M383.9 195.6h0M383.5 197.4h0M389.9 203.7h0M384.0 191.2h0M387.4 196.5h0M385.6 199.3h0M399.3 192.9h0M389.5 201.4h0M409.4 202.3h0M391.8 196.6h0M386.3 198.4h0M385.6 195.1h0M388.6 192.5h0M385.0 197.9h0M389.2 191.6h0M391.7 199.2h0M396.3 202.4h0M413.3 182.3h0M407.7 203.1h0M387.4 194.4h0M394.7 195.2h0M381.2 179.4h0M383.8 175.1h0M396.6 190.2h0M409.4 198.8h0M390.4 196.2h0M385.1 194.8h0M408.3 200.9h0M394.7 183.2h0M382.6 189.8h0M409.5 200.7h0M391.1 192.0h0M381.4 193.6h0M387.3 191.9h0M391.1 200.0h0M383.1 203.9h0M382.6 199.2h0M382.4 179.2h0M405.2 179.9h0M390.5 197.7h0M412.7 202.6h0M412.4 203.6h0M395.6 201.1h0M393.1 180.0h0M381.8 185.5h0M393.9 191.5h0M387.7 181.9h0M404.3 194.5h0M400.2 179.3h0M384.1 186.7h0M396.7 203.4h0M381.7 192.2h0M403.0 195.2h0M405.3 203.2h0M383.3 179.0h0M386.2 201.1h0M382.0 196.1h0M386.7 175.8h0M381.4 189.9h0M382.2 201.9h0M388.0 180.9h0M421.7 200.2h0M384.0 201.0h0M386.2 198.3h0M396.7 197.0h0M391.2 181.6h0M388.1 188.5h0M386.7 203.6h0M388.3 199.0h0M384.2 195.4h0M387.4 184.1h0M389.9 181.7h0M406.3 195.6h0M392.7 203.9h0M384.3 185.6h0M391.3 200.3h0M388.3 181.3h0M382.5 185.0h0M389.3 198.8h0M387.2 181.6h0M420.6 193.8h0M386.0 197.7h0M384.2 190.2h0M391.0 195.4h0M398.4 189.2h0M384.0 193.0h0M382.0 176.5h0M381.8 192.4h0M394.8 135.7h0M409.7 198.3h0M391.9 199.6h0M382.2 190.2h0M410.2 185.9h0M385.8 184.2h0M400.7 202.1h0M419.2 203.0h0M395.9 200.7h0M412.1 203.3h0M422.8 201.0h0M386.6 185.7h0M386.5 201.1h0M422.6 199.7h0M403.4 203.8h0M385.2 200.8h0M384.5 182.3h0M392.1 200.4h0M405.8 116.1h0M381.6 198.4h0M381.6 180.7h0M406.9 203.9h0M404.5 198.3h0M414.5 196.1h0M419.2 202.8h0M408.1 200.3h0M394.4 188.5h0M391.2 192.5h0M385.4 195.4h0M397.2 203.8h0M407.0 189.5h0M387.8 176.0h0M394.0 202.7h0M395.8 187.0h0M396.3 202.6h0M385.1 202.3h0M405.2 203.8h0M387.9 178.5h0M382.7 202.0h0M422.6 167.5h0M431.3 140.5h0M388.7 201.4h0M400.2 201.5h0M386.8 198.8h0M417.4 201.2h0M405.8 199.6h0M383.0 198.4h0M382.6 178.3h0M426.2 150.4h0M391.7 188.4h0M385.3 188.9h0M390.3 196.6h0M384.0 175.1h0M385.2 194.5h0M403.4 197.1h0M403.1 175.4h0M383.4 201.5h0M406.8 196.0h0M389.5 190.8h0M392.8 201.2h0M390.0 196.4h0M408.5 202.8h0M419.6 172.6h0M414.2 190.3h0M383.4 185.2h0M394.7 200.6h0M383.4 193.7h0M419.8 196.0h0M391.4 187.5h0M403.4 194.7h0M402.2 194.7h0M386.9 198.9h0M382.0 182.8h0M403.4 201.9h0M388.9 184.3h0M384.1 183.9h0M384.9 183.7h0M389.9 203.0h0M395.7 185.3h0M410.8 188.2h0M383.4 179.2h0M386.8 203.8h0M382.3 177.6h0M387.7 203.8h0M383.0 175.2h0M386.9 201.6h0M399.5 194.4h0M417.1 189.6h0M393.4 185.1h0M383.3 194.5h0M396.1 196.4h0M395.0 193.5h0M385.6 199.1h0M405.9 200.7h0M385.9 198.8h0M394.4 198.9h0M384.0 199.4h0M400.0 199.4h0M385.7 193.6h0M387.1 189.4h0M411.5 183.7h0M386.3 187.9h0M383.4 192.4h0M407.2 197.0h0M397.4 195.6h0M400.5 200.7h0M383.8 198.3h0M420.2 200.4h0M383.1 200.8h0M391.0 190.7h0M404.8 202.0h0M392.2 196.4h0M399.2 163.4h0M388.9 191.0h0M382.0 180.4h0M385.3 203.9h0M422.9 202.2h0M399.1 199.0h0M392.6 182.7h0M386.8 197.0h0M420.7 202.7h0M385.6 203.4h0M383.8 174.9h0M396.7 178.5h0M386.1 202.0h0M393.9 194.8h0M413.2 203.9h0M381.4 183.3h0M385.3 176.5h0M391.0 191.5h0M394.2 184.5h0M390.1 181.0h0M393.7 189.5h0M392.8 199.2h0M385.3 195.1h0M422.2 202.7h0M391.4 183.9h0M382.2 197.8h0M404.6 200.9h0M388.6 194.5h0M387.8 111.7h0M403.6 171.1h0M389.8 186.3h0M415.7 203.8h0M383.2 180.0h0M395.3 203.7h0M392.8 198.7h0M382.9 187.9h0M385.7 177.1h0M409.0 201.3h0M388.4 185.0h0M384.8 189.1h0M396.5 203.2h0M385.1 187.3h0M398.5 195.8h0M384.5 192.4h0M384.1 197.3h0M382.7 199.1h0M387.8 200.4h0M394.9 196.3h0M389.2 187.0h0M426.8 203.0h0M403.3 199.5h0M385.1 196.6h0M382.4 182.1h0M381.2 181.0h0M418.5 203.4h0M385.1 180.2h0M413.3 202.5h0M389.9 203.5h0M382.3 196.9h0M444.0 100.6h0M383.2 179.4h0M411.9 200.4h0M395.7 197.1h0M405.2 201.7h0M383.4 193.1h0M384.4 190.1h0M383.0 198.4h0M381.5 202.0h0M384.3 176.5h0M382.7 191.4h0M412.3 203.4h0M381.3 189.1h0M395.7 195.3h0M423.3 159.0h0M382.2 199.4h0M382.5 194.5h0M405.6 199.6h0M412.0 202.8h0M384.0 183.9h0M388.6 184.6h0M382.5 186.6h0M391.2 185.8h0M387.2 185.4h0M382.3 183.5h0M388.6 202.3h0M391.3 189.8h0M387.9 203.1h0M414.1 201.6h0M396.1 203.5h0M398.5 194.1h0M394.3 184.6h0M384.1 175.7h0M385.2 187.9h0M393.3 192.8h0M392.8 201.4h0M390.1 199.4h0M396.8 196.1h0M392.4 203.0h0M387.6 196.9h0M400.7 185.6h0M389.1 191.8h0M394.5 199.8h0M382.4 158.7h0M383.1 181.4h0M385.9 203.0h0M386.1 180.5h0M393.8 195.6h0M428.4 161.6h0M416.0 196.4h0M383.8 202.9h0M391.6 190.3h0M382.6 193.9h0M390.0 189.5h0M421.3 203.6h0M401.1 201.8h0M385.5 199.9h0M414.9 202.5h0M406.5 202.3h0M389.5 200.1h0M419.7 203.7h0M386.8 197.2h0M399.5 197.5h0M390.4 201.5h0M411.7 188.1h0M391.1 196.2h0M396.8 198.3h0M398.4 189.0h0M394.9 189.1h0M394.6 203.7h0M396.4 198.0h0M393.7 201.8h0M397.5 194.0h0M438.6 112.4h0M395.6 201.7h0M394.5 203.7h0M389.3 187.2h0M398.0 186.4h0M381.3 181.0h0M387.4 199.1h0M417.2 201.8h0M391.7 192.7h0M383.2 196.2h0M390.5 177.7h0M396.6 196.2h0M382.2 193.0h0M403.2 201.8h0M421.2 200.5h0M412.5 179.2h0M410.5 202.7h0M381.7 176.4h0M408.7 200.7h0M383.1 162.4h0M386.3 185.1h0M390.9 194.3h0M382.6 187.6h0M384.1 200.5h0M397.8 201.5h0M411.8 201.7h0M383.9 197.9h0M389.8 197.4h0M409.2 184.9h0M392.4 196.6h0M404.2 203.8h0M418.1 201.3h0M411.4 199.3h0M419.1 200.9h0M400.3 203.1h0M411.5 196.7h0M396.5 195.3h0M396.1 202.6h0M410.3 199.3h0M383.9 200.4h0M388.4 195.0h0M385.5 198.8h0M382.7 183.8h0M400.0 194.4h0M390.4 190.0h0M386.2 195.0h0M388.2 160.6h0M385.8 195.7h0M386.1 190.1h0" stroke="#FFD700" stroke-width="3.3" stroke-linecap="round" fill="none"/>
<path d="M387.5 153.0h0M428.8 143.4h0M427.2 160.6h0M439.2 125.9h0M397.5 174.5h0M401.8 178.6h0M381.4 154.3h0M413.3 182.3h0M405.2 179.9h0M393.1 180.0h0M394.8 135.7h0M405.8 116.1h0M407.0 189.5h0M422.6 167.5h0M431.3 140.5h0M426.2 150.4h0M419.6 172.6h0M414.2 190.3h0M419.8 196.0h0M417.1 189.6h0M411.5 183.7h0M399.2 163.4h0M387.8 111.7h0M403.6 171.1h0M444.0 100.6h0M423.3 159.0h0M382.4 158.7h0M428.4 161.6h0M438.6 112.4h0M412.5 179.2h0M383.1 162.4h0M409.2 184.9h0M388.2 160.6h0" stroke="#FFEB82" stroke-width="1.5" stroke-linecap="round" fill="none"/>
<path d="M383.0 201.3h0M403.4 187.3h0M387.1 179.9h0M383.4 199.6h0M386.6 201.9h0M408.9 179.0h0M414.1 201.1h0M382.0 179.4h0M412.5 200.3h0M408.6 202.7h0M387.2 202.9h0M421.5 203.3h0M397.0 194.9h0M389.7 196.4h0M387.6 189.2h0M384.0 179.3h0M394.6 197.3h0M391.6 184.0h0M385.7 192.9h0M389.8 190.7h0M391.2 203.8h0M395.6 189.9h0M386.5 180.2h0M412.7 202.6h0M397.1 201.7h0M396.2 195.7h0M426.2 155.4h0M391.6 200.2h0M384.1 177.5h0M390.6 197.3h0M411.4 200.4h0M382.0 203.7h0M387.1 181.7h0M414.7 195.4h0M403.6 203.9h0M391.2 193.0h0M402.3 196.3h0M389.2 192.6h0M412.8 131.4h0M395.0 197.4h0M389.1 202.1h0M417.6 197.3h0M396.0 160.5h0M404.8 195.2h0M383.6 196.1h0M397.3 199.8h0M388.5 202.8h0M406.3 199.9h0M382.7 191.7h0M405.8 194.4h0M392.5 201.3h0M387.7 197.8h0M387.3 196.4h0M441.1 110.7h0M381.6 186.9h0M387.5 171.1h0M383.4 187.4h0M390.2 199.2h0M401.8 193.4h0M422.2 202.6h0M394.8 200.6h0M391.2 199.1h0M387.0 185.8h0M382.0 179.7h0M384.1 194.3h0M411.3 188.4h0M382.7 193.6h0M393.0 203.4h0M398.4 197.9h0M392.7 184.2h0M390.4 195.9h0M400.3 193.2h0M399.0 178.1h0M393.9 185.2h0M384.9 177.8h0M423.2 201.8h0M413.3 201.6h0M411.6 200.2h0M381.3 188.0h0M398.1 191.2h0M382.2 195.4h0M421.4 199.3h0M383.8 194.8h0M382.7 177.5h0M399.0 190.8h0M390.9 145.7h0M383.8 180.7h0M398.1 202.9h0M395.2 202.1h0M397.4 189.5h0M382.5 199.9h0M391.2 194.6h0M385.6 188.5h0M400.3 200.8h0M421.7 202.6h0M395.5 197.4h0M390.2 203.8h0M394.3 184.9h0M387.9 187.9h0M385.4 190.6h0M416.2 203.4h0M386.0 198.9h0M410.4 200.9h0M394.2 189.6h0M384.1 200.1h0M400.8 188.3h0M397.2 194.0h0M387.4 184.2h0M389.8 183.0h0M400.3 199.2h0M399.7 181.4h0M401.8 202.6h0M403.8 200.3h0M386.8 177.9h0M383.2 193.5h0M412.7 202.0h0M394.6 200.7h0M398.7 198.7h0M383.3 186.7h0M386.0 187.9h0M402.3 186.0h0M393.9 188.9h0M388.6 199.5h0M389.5 202.4h0M395.4 194.3h0M391.5 193.6h0M399.3 188.2h0M382.1 182.6h0M382.4 194.8h0M417.2 192.4h0M410.3 202.4h0M381.5 199.8h0M402.4 198.3h0M417.7 192.7h0M394.1 151.1h0M391.9 189.0h0M381.3 176.2h0M405.0 187.2h0M394.6 200.3h0M399.0 202.1h0M392.7 199.8h0M382.7 186.7h0M413.2 203.6h0M393.9 189.5h0M415.5 203.9h0M416.6 203.5h0M394.7 184.7h0M393.6 184.5h0M406.0 201.9h0M396.8 187.8h0M391.2 192.0h0M384.4 203.1h0M390.4 96.4h0M388.8 184.8h0M396.6 203.8h0M411.6 200.2h0M381.4 182.5h0M390.6 200.1h0M381.2 197.3h0M389.7 195.4h0M385.7 199.8h0M411.4 190.2h0M389.2 181.2h0M386.5 192.5h0M381.5 199.3h0M386.0 198.1h0M381.8 177.2h0M381.8 197.9h0M390.0 203.9h0M416.3 201.3h0M382.5 185.8h0M395.4 194.2h0M404.5 203.9h0M394.9 185.6h0M389.5 198.4h0M400.4 184.1h0M384.0 185.1h0M382.1 203.3h0M383.6 174.8h0M387.3 178.3h0M403.0 202.4h0M416.9 201.7h0M400.0 200.6h0M423.3 165.6h0M392.2 151.1h0M392.2 200.1h0M399.9 197.9h0M414.1 200.9h0M386.3 185.5h0M405.8 200.0h0M396.5 199.4h0M383.2 193.5h0M424.8 200.8h0M403.6 202.8h0M406.5 201.1h0M382.7 176.0h0M390.6 184.3h0M382.0 195.8h0M392.2 195.8h0M422.8 203.6h0M403.0 200.7h0M403.4 196.4h0M399.8 189.2h0M391.6 194.4h0M388.9 192.1h0M383.0 198.3h0M398.1 198.9h0M382.8 184.9h0M390.1 198.8h0M395.4 198.9h0M383.5 184.0h0M402.5 197.3h0M415.3 201.5h0M399.8 199.7h0M385.0 196.4h0M410.8 200.8h0M389.2 193.4h0M386.9 203.0h0M383.7 186.1h0M389.0 189.9h0M392.8 185.9h0M391.9 203.7h0M399.6 200.8h0M385.6 203.9h0M401.3 191.6h0M383.2 200.5h0M381.7 185.5h0M384.1 190.3h0M382.8 175.5h0M383.9 193.7h0M416.0 202.9h0M382.0 173.1h0M398.2 193.6h0M405.8 200.9h0M389.9 203.5h0M411.8 200.6h0M392.4 197.1h0M388.1 192.9h0M390.8 203.5h0M398.9 203.8h0M407.0 203.1h0M390.9 196.3h0M385.0 195.2h0M408.0 203.7h0M388.6 183.1h0M417.0 203.4h0M390.4 192.5h0M403.9 199.6h0M386.6 198.9h0M382.0 203.2h0M422.1 203.5h0M386.0 185.7h0M393.1 190.2h0M396.2 203.4h0M413.2 144.4h0M402.0 187.5h0M399.5 201.0h0M415.4 201.6h0M390.0 183.0h0M381.3 183.3h0M381.8 201.4h0M393.5 203.6h0M408.2 198.6h0M410.6 200.2h0M387.3 202.3h0M384.9 200.7h0M387.0 190.9h0M384.8 185.4h0M392.3 179.7h0M400.2 200.7h0M390.4 190.3h0M383.6 181.5h0M411.5 203.7h0M399.2 196.6h0M388.9 189.3h0M393.7 201.1h0M400.5 202.4h0M388.8 194.8h0M392.1 190.4h0M391.3 116.4h0M390.4 181.2h0M416.1 182.9h0M391.8 188.2h0M381.5 200.8h0M394.5 196.2h0M420.1 202.6h0M425.2 202.8h0M405.9 197.7h0M386.4 184.7h0M385.1 201.9h0M382.6 200.8h0M400.6 194.1h0M401.1 197.1h0M419.1 202.9h0M399.9 202.9h0M393.9 203.6h0M385.7 202.3h0M421.7 201.6h0M390.0 199.7h0M381.8 185.3h0M394.3 193.9h0M395.0 191.9h0M397.1 196.7h0M387.7 191.6h0M384.0 181.6h0M386.8 193.5h0M386.9 201.1h0M390.1 199.6h0M390.4 177.8h0M396.6 180.4h0M382.6 191.5h0M417.8 192.4h0M389.6 197.7h0M398.4 197.3h0M385.5 189.7h0M404.9 203.9h0M431.0 139.3h0M415.2 201.4h0M419.5 202.7h0M406.2 198.7h0M384.7 203.9h0M382.8 202.7h0M398.6 178.3h0M397.1 193.1h0M403.8 203.9h0M386.3 194.3h0M381.4 201.3h0M389.8 186.3h0M400.7 201.0h0M407.8 196.4h0M396.1 185.9h0M386.9 203.9h0M393.4 187.9h0M381.8 183.2h0M400.8 197.1h0M411.2 203.3h0M381.7 203.6h0M414.7 202.4h0M420.6 201.3h0M381.8 200.5h0M394.3 189.9h0M388.6 179.0h0M393.6 200.0h0M393.1 203.4h0M388.8 192.5h0M382.5 191.4h0M424.1 203.0h0M391.6 201.0h0M404.4 203.6h0M393.9 191.4h0M401.2 196.1h0M395.9 194.9h0M391.5 184.5h0M389.0 194.0h0M397.3 197.6h0M382.7 179.2h0M383.4 196.1h0M401.4 185.3h0M395.9 194.0h0M387.9 200.5h0M391.6 203.2h0M417.1 202.4h0M409.4 188.1h0M382.3 199.7h0M382.4 200.9h0M386.1 190.7h0M387.1 198.9h0M383.2 199.3h0M382.2 203.6h0M381.7 191.3h0M408.4 176.5h0M386.2 202.0h0M399.6 201.0h0M385.8 202.4h0M431.6 134.9h0M395.5 202.9h0M418.8 203.9h0M408.0 200.0h0M385.3 190.2h0M383.9 167.5h0M390.9 200.7h0M390.8 198.0h0M413.0 200.9h0M399.0 202.2h0M381.7 185.4h0M388.4 188.8h0M428.8 202.4h0M396.8 188.7h0M406.8 203.5h0M387.2 202.3h0M392.6 196.4h0M381.6 191.8h0M415.4 201.8h0M389.5 188.5h0M393.9 186.4h0M419.1 203.2h0M392.2 203.8h0M384.3 196.9h0M392.5 193.2h0M416.5 203.7h0M386.2 201.1h0M388.8 200.6h0M413.2 191.0h0M396.2 203.2h0M381.2 203.1h0M382.4 191.9h0M404.3 174.3h0M383.6 193.2h0M397.2 192.9h0M387.3 185.9h0M397.6 197.2h0M385.8 145.1h0M384.7 198.6h0M417.5 179.6h0M395.3 203.6h0M391.5 190.0h0M390.4 199.3h0M401.1 200.0h0M404.3 195.2h0M404.6 194.7h0M388.5 182.9h0M386.1 156.5h0M398.9 203.4h0M384.6 195.7h0M381.2 176.9h0M390.7 200.0h0M401.9 203.8h0M413.2 203.5h0M391.1 186.9h0M385.1 192.1h0M381.8 199.0h0M408.7 199.3h0M389.7 195.0h0M391.3 199.8h0M384.9 196.2h0M384.5 203.5h0M399.8 190.1h0M401.2 193.6h0M411.1 203.8h0M411.5 203.4h0M389.4 202.9h0M414.3 201.5h0M389.5 182.0h0M409.8 201.4h0M390.5 196.8h0M397.2 195.0h0M383.5 200.0h0M381.9 187.2h0M412.4 200.6h0M390.1 203.1h0M420.6 179.6h0M409.1 202.8h0M383.6 175.1h0M407.8 176.4h0M397.9 182.4h0M398.7 194.9h0M382.8 196.8h0M391.2 183.7h0M424.3 168.9h0M381.2 174.9h0M395.9 177.6h0M419.3 189.7h0M385.5 193.7h0M403.2 203.7h0M390.4 172.6h0M382.9 174.5h0M381.8 200.7h0M387.6 191.8h0M414.1 203.5h0M387.1 179.5h0M410.1 200.6h0M429.1 150.4h0M386.7 185.1h0M421.2 203.5h0M382.9 193.9h0M398.6 191.1h0M401.3 193.9h0M384.5 175.5h0M401.4 196.5h0M396.7 196.4h0M384.9 201.9h0M386.8 199.6h0M394.6 191.1h0M404.2 202.6h0M406.6 184.0h0M402.2 194.5h0M398.8 174.9h0M413.1 200.9h0M382.7 190.7h0M411.9 202.9h0M419.6 186.1h0M385.9 202.2h0M395.6 185.8h0M393.0 193.3h0M388.4 203.0h0M382.4 180.0h0M397.4 196.8h0M385.4 182.9h0M403.7 198.6h0M405.6 196.6h0M388.5 203.3h0M383.2 189.2h0M385.4 203.9h0M386.2 198.1h0M384.3 182.3h0M400.1 200.2h0M411.2 203.0h0M385.5 201.2h0M384.1 203.2h0M420.6 182.4h0M403.9 196.0h0M387.3 199.5h0M390.1 198.9h0M384.9 177.5h0M387.7 199.6h0M407.7 202.5h0M419.9 193.1h0M384.6 188.4h0M430.3 200.8h0M394.8 187.3h0M387.0 198.8h0M384.7 183.4h0M412.5 202.7h0M386.7 193.9h0M382.6 185.8h0M386.5 99.9h0M394.4 199.2h0M382.1 175.5h0M418.9 203.2h0M401.5 179.4h0M383.9 147.5h0M382.3 180.4h0M392.9 196.5h0M406.1 186.9h0M382.2 184.6h0" stroke="#FFD700" stroke-width="3.3" stroke-linecap="round" fill="none"/>
<path d="M408.9 179.0h0M426.2 155.4h0M412.8 131.4h0M396.0 160.5h0M441.1 110.7h0M387.5 171.1h0M390.9 145.7h0M394.1 151.1h0M405.0 187.2h0M390.4 96.4h0M400.4 184.1h0M423.3 165.6h0M392.2 151.1h0M413.2 144.4h0M391.3 116.4h0M416.1 182.9h0M396.6 180.4h0M431.0 139.3h0M408.4 176.5h0M431.6 134.9h0M383.9 167.5h0M385.8 145.1h0M417.5 179.6h0M386.1 156.5h0M420.6 179.6h0M407.8 176.4h0M397.9 182.4h0M424.3 168.9h0M395.9 177.6h0M419.3 189.7h0M390.4 172.6h0M429.1 150.4h0M406.6 184.0h0M398.8 174.9h0M419.6 186.1h0M420.6 182.4h0M430.3 200.8h0M386.5 99.9h0M383.9 147.5h0M406.1 186.9h0" stroke="#FFEB82" stroke-width="1.5" stroke-linecap="round" fill="none"/>
<path d="M389.0 193.9h0M389.8 184.3h0M388.9 199.4h0M386.7 193.6h0M389.8 184.0h0M395.7 177.6h0M382.9 190.6h0M381.4 177.8h0M412.8 195.3h0M383.8 200.8h0M382.7 186.0h0M390.4 185.6h0M384.3 190.1h0M397.7 202.8h0M399.9 195.4h0M387.1 196.8h0M388.0 197.4h0M381.4 199.7h0M405.5 172.6h0M398.8 189.6h0M405.6 202.1h0M389.0 187.2h0M388.9 203.0h0M382.3 194.6h0M385.4 181.3h0M393.3 188.9h0M407.0 201.1h0M384.5 180.9h0M386.9 179.8h0M404.5 200.2h0M389.8 195.8h0M390.4 174.5h0M389.2 200.5h0M395.6 190.2h0M385.9 178.2h0M386.5 202.0h0M392.4 192.8h0M405.6 198.0h0M386.8 193.7h0M415.6 201.4h0M383.7 176.9h0M383.0 200.1h0M383.8 180.2h0M381.3 191.8h0M382.5 203.0h0M399.1 201.8h0M395.7 185.4h0M413.4 202.7h0M385.3 201.0h0M427.0 203.5h0M384.1 195.9h0M396.6 189.3h0M400.5 201.0h0M382.3 201.8h0M384.6 187.1h0M399.3 196.7h0M404.9 202.8h0M390.7 198.7h0M386.8 195.3h0M393.6 201.5h0M388.1 189.5h0M385.7 192.6h0M386.9 187.3h0M381.7 173.4h0M391.0 194.8h0M386.9 185.9h0M421.4 185.9h0M383.0 203.8h0M414.4 193.2h0M390.5 187.8h0M398.9 199.1h0M383.5 194.4h0M395.1 190.0h0M399.7 198.7h0M385.8 193.5h0M399.3 179.8h0M400.2 194.5h0M392.0 202.5h0M396.9 203.9h0M406.7 203.7h0M390.2 202.9h0M389.7 190.9h0M392.2 203.1h0M385.1 181.3h0M416.4 201.8h0M384.7 177.6h0M386.5 202.0h0M388.2 178.9h0M384.1 200.6h0M383.3 199.4h0M398.4 202.2h0M382.7 200.8h0M390.3 201.9h0M390.4 203.9h0M416.1 203.6h0M417.2 203.9h0M402.3 199.2h0M382.9 191.1h0M385.2 184.0h0M390.8 201.3h0M396.0 198.3h0M405.0 187.2h0M409.4 201.7h0M388.9 194.7h0M406.2 202.0h0M410.8 201.9h0M403.7 193.2h0M402.8 174.0h0M417.6 199.3h0M399.0 202.4h0M383.0 197.3h0M388.3 187.0h0M392.2 199.5h0M408.4 203.6h0M396.2 189.4h0M399.0 201.4h0M411.0 186.1h0M384.3 184.3h0M416.3 184.4h0M394.9 196.7h0M386.3 178.0h0M398.2 201.8h0M386.7 181.2h0M417.8 203.6h0M383.9 201.1h0M384.4 184.5h0M396.5 188.8h0M409.8 201.7h0M384.1 193.7h0M394.1 198.6h0M382.6 185.7h0M397.4 200.3h0M381.4 201.0h0M389.6 202.4h0M388.0 194.3h0M389.9 193.0h0M386.0 179.8h0M413.0 203.7h0M392.1 203.2h0M383.4 194.0h0M387.0 180.5h0M417.5 183.6h0M394.3 192.2h0M385.2 194.3h0M390.8 186.8h0M381.4 195.7h0M388.1 195.8h0M384.3 187.2h0M411.6 203.7h0M386.6 203.7h0M385.3 185.8h0M386.0 186.2h0M399.9 194.8h0M391.4 203.1h0M406.2 199.7h0M414.8 191.7h0M384.9 177.0h0M382.6 178.8h0M386.4 197.2h0M381.7 195.9h0M381.7 182.7h0M392.3 135.7h0M381.2 189.9h0M396.6 197.8h0M396.6 107.3h0M398.5 194.8h0M396.1 203.2h0M386.1 183.8h0M400.1 196.3h0M390.1 199.5h0M384.8 191.1h0M389.9 182.2h0M391.4 200.5h0M385.9 184.0h0M395.0 185.2h0M413.8 203.1h0M383.3 192.7h0M392.9 193.7h0M384.1 173.4h0M397.6 187.4h0M393.0 194.5h0M398.3 180.8h0M397.2 192.9h0M383.7 191.5h0M383.3 189.8h0M386.2 185.0h0M381.7 197.9h0M385.7 195.1h0M387.1 196.3h0M405.2 202.0h0M394.4 201.4h0M394.5 202.0h0M404.7 202.1h0M388.7 194.4h0M387.8 196.0h0M416.6 202.8h0M406.0 198.0h0M382.7 183.4h0M429.9 144.9h0M393.3 195.3h0M382.2 175.8h0M381.9 200.3h0M386.4 190.5h0M383.7 176.3h0M382.0 184.7h0M396.0 199.2h0M387.8 193.1h0M389.0 186.7h0M401.2 193.9h0M383.7 178.2h0M403.6 193.9h0M384.3 202.9h0M385.0 196.0h0M394.4 184.6h0M385.2 198.6h0M387.0 181.4h0M381.5 185.5h0M407.4 201.7h0M381.9 177.6h0M405.2 180.9h0M391.1 202.3h0M384.3 199.4h0M383.7 178.2h0M403.4 201.4h0M424.7 163.8h0M384.2 200.8h0M391.8 193.3h0M393.7 203.3h0M394.0 203.3h0M393.4 184.5h0M382.1 192.6h0M382.0 176.0h0M411.2 202.6h0M397.9 195.9h0M401.0 194.5h0M382.3 190.8h0M385.6 181.6h0M412.8 203.5h0M411.3 199.5h0M406.1 195.4h0M393.7 199.3h0M404.6 162.4h0M384.8 189.9h0M441.2 113.8h0M388.6 193.5h0M382.0 203.5h0M404.1 202.8h0M394.7 203.3h0M410.7 198.3h0M384.1 196.7h0M382.4 177.1h0M382.1 176.6h0M383.3 191.6h0M387.4 195.3h0M391.5 194.9h0M383.3 192.8h0M388.2 201.8h0M381.7 197.7h0M383.7 195.1h0M384.2 191.8h0M381.5 203.7h0M395.6 189.1h0M385.0 201.4h0M399.2 201.1h0M383.1 195.2h0M382.7 201.6h0M382.5 179.4h0M414.1 202.1h0M383.6 197.9h0M434.4 127.0h0M391.0 198.7h0M389.2 195.9h0M393.7 203.2h0M384.5 178.3h0M398.1 203.7h0M396.4 203.4h0M409.7 199.2h0M386.8 202.6h0M402.4 195.8h0M392.1 195.4h0M404.5 177.6h0M421.8 201.8h0M388.8 174.2h0M420.0 203.3h0M403.0 195.8h0M404.5 191.5h0M388.4 193.3h0M384.5 203.3h0M417.2 203.7h0M392.3 198.4h0M391.0 188.7h0M383.6 187.9h0M401.5 197.9h0M383.4 179.6h0M410.2 202.4h0M383.0 175.8h0M384.1 177.5h0M384.6 184.6h0M391.2 199.4h0M381.3 196.6h0M392.4 183.7h0M381.4 202.7h0M381.8 194.4h0M405.7 199.6h0M388.7 184.1h0M429.1 200.1h0M390.7 198.6h0M403.5 201.6h0M383.3 190.4h0M382.6 178.0h0M388.1 195.8h0M394.6 190.6h0M394.7 186.2h0M385.9 203.8h0M388.3 186.3h0M418.1 203.1h0M390.3 202.0h0M387.7 202.4h0M392.2 191.2h0M419.9 202.2h0M431.0 146.0h0M381.8 193.5h0M394.0 203.8h0M383.4 196.3h0M385.5 175.7h0M401.2 202.8h0M418.8 200.4h0M388.6 196.0h0M400.9 200.9h0M391.3 200.9h0M382.8 195.4h0M396.2 202.2h0M402.5 177.3h0M415.4 198.4h0M406.1 201.9h0M390.3 192.9h0M381.5 185.4h0M387.1 197.9h0M382.0 202.5h0M382.3 201.6h0M418.2 173.3h0M389.4 193.3h0M398.2 201.6h0M382.8 192.1h0M381.4 197.7h0M381.3 197.7h0M390.4 189.8h0M386.3 189.4h0M411.1 200.0h0M385.5 203.8h0M383.3 203.6h0M384.9 181.7h0M409.1 191.7h0M401.2 196.2h0M407.9 187.4h0M392.0 202.5h0M409.0 202.8h0M409.8 197.9h0M391.5 190.6h0M414.5 200.9h0M405.6 201.7h0M392.4 197.0h0M390.7 201.3h0M419.8 203.8h0M383.1 178.5h0M387.0 201.5h0M408.7 187.2h0M399.9 174.1h0M416.5 202.3h0M388.3 184.1h0M422.1 192.5h0M415.9 201.2h0M394.9 187.4h0M397.9 193.0h0M388.6 185.0h0M388.3 192.2h0M394.8 110.1h0M395.8 192.5h0M421.9 203.5h0M383.6 186.8h0M393.6 203.3h0M398.7 193.3h0M383.9 182.7h0M426.7 200.0h0M385.0 200.6h0M398.0 192.7h0M384.2 202.4h0M393.9 203.5h0M391.2 186.2h0M387.0 190.3h0M423.8 202.7h0M385.7 203.5h0M384.6 199.6h0M396.4 195.4h0M414.7 187.8h0M387.8 201.7h0M418.3 202.4h0M414.9 203.0h0M395.8 193.0h0M395.5 190.4h0M420.6 188.0h0M387.2 177.8h0M422.4 203.6h0M391.9 197.4h0M382.6 201.8h0M403.0 193.0h0M393.2 190.5h0M381.6 201.0h0M382.4 192.4h0M397.4 188.4h0M394.3 202.5h0M393.8 198.5h0M386.5 193.7h0M383.9 200.6h0M444.7 96.4h0M389.6 189.2h0M387.8 199.3h0M386.2 184.1h0M393.4 160.9h0M381.5 199.5h0M412.1 200.9h0M416.5 184.0h0M385.3 199.2h0M382.9 195.6h0M394.0 200.7h0M382.0 193.9h0M423.3 201.7h0M382.2 195.6h0M411.7 203.9h0M432.9 134.1h0M393.1 195.5h0M418.0 202.6h0M410.9 154.3h0M386.6 191.9h0M385.3 190.6h0M389.3 195.5h0M383.0 190.4h0M390.3 192.8h0M419.6 160.5h0M388.6 185.7h0M393.7 185.6h0M391.0 190.9h0M383.2 199.3h0M401.8 191.4h0M392.3 187.8h0M408.5 203.5h0M382.7 188.9h0M392.6 201.2h0M417.6 199.9h0M391.8 194.2h0M388.2 190.7h0M392.5 194.1h0M387.3 179.1h0M382.2 192.7h0M422.0 195.1h0M383.3 194.3h0M419.5 182.1h0M388.3 189.8h0M391.9 164.6h0M381.7 182.2h0M381.6 177.1h0M395.7 191.0h0M388.8 181.6h0M399.8 191.6h0M383.1 203.9h0M389.8 195.4h0M411.2 203.9h0M398.6 199.5h0M383.2 198.0h0M419.5 202.3h0M386.6 184.2h0M385.7 186.9h0M384.1 196.5h0M417.9 131.4h0M393.4 193.2h0M381.6 200.4h0M390.5 184.3h0M383.2 180.8h0M395.0 201.9h0M390.9 198.6h0M385.0 187.8h0M388.9 192.4h0M394.7 200.2h0M384.3 190.5h0M381.3 194.5h0M393.0 199.3h0M395.1 197.7h0M420.8 198.9h0M382.4 200.0h0M384.7 181.3h0M406.7 182.5h0M407.7 201.9h0M406.8 179.8h0M393.2 192.6h0M391.2 196.0h0M386.8 187.2h0M389.7 185.9h0M382.0 180.3h0M384.1 196.0h0M412.3 201.6h0M445.2 98.4h0M389.9 187.0h0M387.3 187.0h0M386.7 203.8h0M384.4 185.8h0M417.7 201.9h0M390.6 196.6h0M420.5 203.3h0M395.5 191.6h0M395.1 195.4h0M397.2 200.7h0M393.1 198.4h0M398.7 191.8h0M383.3 189.2h0M388.4 202.3h0M394.5 189.3h0M385.9 197.8h0M419.9 203.2h0M411.4 177.8h0M388.7 197.2h0M390.6 191.0h0M408.5 202.8h0M403.4 196.3h0M409.1 201.1h0M391.9 183.9h0M396.9 191.0h0M394.3 202.0h0M381.5 180.3h0M386.0 185.5h0M394.3 195.9h0M386.1 190.8h0M387.1 199.4h0M386.1 179.4h0M411.6 203.3h0M384.1 187.9h0M391.6 182.7h0" stroke="#FFD700" stroke-width="3.3" stroke-linecap="round" fill="none"/>
<path d="M395.7 177.6h0M405.5 172.6h0M421.4 185.9h0M405.0 187.2h0M402.8 174.0h0M416.3 184.4h0M392.3 135.7h0M396.6 107.3h0M429.9 144.9h0M405.2 180.9h0M424.7 163.8h0M404.6 162.4h0M441.2 113.8h0M434.4 127.0h0M404.5 177.6h0M429.1 200.1h0M431.0 146.0h0M418.2 173.3h0M409.1 191.7h0M399.9 174.1h0M422.1 192.5h0M394.8 110.1h0M426.7 200.0h0M414.7 187.8h0M420.6 188.0h0M444.7 96.4h0M393.4 160.9h0M416.5 184.0h0M432.9 134.1h0M410.9 154.3h0M419.6 160.5h0M422.0 195.1h0M419.5 182.1h0M391.9 164.6h0M417.9 131.4h0M406.7 182.5h0M406.8 179.8h0M445.2 98.4h0M411.4 177.8h0" stroke="#FFEB82" stroke-width="1.5" stroke-linecap="round" fill="none"/>
<path d="M341.8 205.9h0M397.9 206.7h0M375.5 207.8h0M361.8 208.7h0M366.6 205.7h0M380.1 187.8h0M402.4 207.1h0M378.7 189.7h0M363.1 207.3h0M370.8 206.9h0M386.4 206.6h0M408.7 204.4h0M369.9 153.6h0M380.6 173.4h0M369.8 206.8h0M362.2 208.6h0M359.7 205.7h0M366.1 206.4h0M355.9 206.4h0M370.5 160.0h0M370.3 205.9h0M369.7 206.1h0M373.2 195.9h0M372.1 208.3h0M351.1 207.3h0M372.0 205.5h0M370.4 159.2h0M350.5 207.6h0M401.7 205.5h0M379.4 206.2h0M348.2 207.8h0M389.0 208.2h0M371.0 198.6h0M377.5 204.4h0M393.9 207.4h0M367.1 204.9h0M379.6 204.4h0M370.5 161.3h0M414.9 205.0h0M398.7 205.2h0M383.4 208.7h0M362.9 205.1h0M398.3 207.3h0M374.0 208.5h0M371.0 208.1h0M345.7 206.1h0M377.3 201.0h0M369.6 205.0h0M330.6 205.7h0M357.2 204.9h0M382.5 207.8h0M387.8 205.2h0M368.6 208.5h0M358.3 206.9h0M356.6 205.6h0M360.6 206.7h0M370.5 191.4h0M378.8 202.1h0M372.5 200.7h0M374.0 206.2h0M373.5 205.2h0M360.6 205.5h0M347.8 205.5h0M404.5 205.7h0M374.0 206.5h0M392.4 205.7h0M409.9 206.4h0M398.9 206.8h0M374.4 205.2h0M377.0 208.1h0M352.1 206.7h0M327.2 205.6h0M372.0 196.4h0M409.9 206.2h0M377.4 207.2h0M384.1 205.9h0M379.8 197.2h0M397.5 205.1h0M376.8 204.8h0M406.2 204.7h0M351.6 204.8h0M387.6 204.4h0M370.6 168.9h0M384.1 204.8h0M380.7 190.1h0M367.1 207.8h0M379.7 188.8h0M362.6 208.5h0M354.4 206.8h0M372.7 188.2h0M366.8 207.0h0M370.6 185.3h0M375.1 208.3h0M366.5 205.8h0M385.0 207.0h0M372.3 208.3h0M358.9 208.2h0M374.7 207.1h0M392.7 204.4h0M384.1 206.6h0M377.7 207.8h0M382.9 206.5h0M385.4 207.0h0M380.0 184.2h0M380.9 159.2h0M404.9 205.0h0M371.8 208.8h0M371.8 207.1h0M398.3 204.9h0M358.8 204.6h0M382.0 208.5h0M370.3 158.5h0M368.1 207.2h0M359.4 206.5h0M352.4 207.0h0M370.6 166.0h0M366.1 204.9h0M353.7 206.9h0M375.3 207.0h0M372.4 185.2h0M379.8 187.8h0M390.4 205.0h0M373.3 206.6h0M364.5 208.3h0M346.7 206.0h0M385.7 207.4h0M371.6 180.7h0M344.3 206.3h0M386.3 208.7h0M371.9 183.3h0M377.9 207.0h0M386.4 204.9h0M372.4 184.6h0M344.9 204.4h0M391.0 206.9h0M355.9 204.8h0M344.2 206.9h0M356.0 208.0h0M385.0 204.5h0M380.5 169.5h0M371.5 203.6h0M378.2 205.8h0M381.2 157.4h0M367.5 207.5h0M360.3 206.5h0M343.4 206.5h0M351.8 205.0h0M359.8 206.7h0M394.4 207.8h0M371.6 204.7h0M347.5 206.0h0M397.4 205.7h0M335.1 204.9h0M410.3 206.1h0M347.1 206.3h0M372.5 200.4h0M382.2 206.6h0M374.4 206.0h0M351.7 208.1h0M393.1 205.9h0M378.0 206.8h0M369.8 205.2h0M366.5 204.7h0M354.4 206.9h0M404.2 205.3h0M380.3 173.8h0M358.4 204.8h0M370.4 208.5h0M377.2 200.2h0M370.5 159.6h0M370.6 174.3h0M370.3 204.7h0M369.9 153.4h0M361.6 207.4h0M391.3 207.6h0M364.4 204.7h0M381.7 207.6h0M371.7 207.1h0M412.2 206.3h0M375.4 203.2h0M383.9 206.6h0M392.1 205.6h0M373.2 206.8h0M386.2 208.4h0M358.8 205.1h0M390.3 206.1h0M389.9 207.8h0M390.8 205.5h0M375.4 208.9h0M356.5 205.5h0M359.5 205.0h0M358.3 205.4h0M384.3 206.6h0M388.1 208.6h0M397.6 205.3h0M378.7 208.6h0M371.1 174.2h0M377.1 208.1h0M377.5 200.1h0M378.8 206.4h0M347.1 205.6h0M397.8 206.8h0M360.0 207.9h0M372.6 204.8h0M368.4 206.3h0M354.2 207.7h0M377.9 205.0h0M386.9 208.0h0M382.4 207.5h0M356.8 204.9h0M376.5 207.8h0M387.9 204.9h0M388.4 204.5h0M373.9 208.2h0M354.0 208.2h0M354.2 205.0h0M387.6 205.7h0M342.3 205.4h0M390.7 208.4h0M386.4 205.3h0M367.7 204.8h0M346.6 204.9h0M379.0 207.9h0M380.2 208.4h0M382.7 207.5h0M346.6 206.3h0M387.9 205.1h0M354.9 208.1h0M372.4 205.1h0M370.4 204.7h0M371.1 202.4h0M369.3 205.5h0M377.6 207.1h0M400.2 207.8h0M392.7 205.0h0M351.4 204.8h0M355.0 206.3h0M354.0 205.5h0M380.8 186.2h0M365.3 207.6h0M358.4 207.2h0M347.2 205.2h0M380.0 171.8h0M359.9 206.0h0M381.0 185.6h0M370.8 166.3h0M395.8 204.9h0M362.3 206.1h0M385.0 205.0h0M371.8 205.6h0M371.7 194.8h0M384.4 205.7h0M373.8 205.6h0M383.2 206.3h0M357.2 207.0h0M369.2 207.0h0M372.9 189.3h0M372.5 193.0h0M377.1 208.5h0M377.0 207.0h0M385.3 205.9h0M382.5 207.2h0M331.7 205.3h0M392.8 205.1h0M327.9 205.2h0M364.6 207.2h0M396.8 207.2h0M394.5 204.4h0M372.8 208.5h0M348.5 207.0h0M368.3 204.8h0M396.0 206.4h0M346.4 206.5h0M335.4 204.5h0M380.9 162.6h0M381.0 180.1h0M387.2 207.2h0M346.4 206.8h0M364.3 206.5h0M365.2 205.2h0M370.4 159.2h0M365.9 208.7h0M332.2 204.5h0M349.5 206.4h0M380.7 197.0h0M378.8 203.4h0M358.6 205.6h0M406.2 204.6h0M389.5 207.5h0M396.4 206.9h0M379.8 206.9h0M369.9 208.2h0M363.4 204.7h0M380.1 207.0h0M371.4 206.4h0M370.7 166.3h0M400.1 206.8h0M383.0 206.9h0M392.5 206.4h0M391.4 208.5h0M373.1 206.6h0M370.7 200.4h0M371.3 204.6h0M381.0 208.0h0M384.0 207.1h0M359.0 205.2h0M350.6 205.4h0M374.0 204.4h0M372.9 187.3h0M360.1 206.5h0M351.3 204.7h0M380.8 171.3h0M358.4 206.3h0M363.4 208.7h0M374.3 205.5h0M361.6 204.5h0M379.8 182.5h0M350.4 207.0h0M370.9 207.1h0M360.6 207.6h0M376.8 206.9h0M358.3 208.4h0M376.0 206.5h0M331.6 205.5h0M371.5 207.3h0M389.1 206.3h0M380.0 206.4h0M381.5 205.0h0M347.0 207.2h0M370.6 171.7h0M378.7 208.3h0M374.7 206.5h0M379.0 208.8h0M376.1 206.6h0M372.8 190.5h0M376.9 200.6h0M371.8 175.6h0M342.1 207.2h0M342.2 205.0h0M389.9 206.4h0M346.9 207.4h0M380.3 187.1h0M379.6 186.3h0M373.5 207.5h0M374.6 205.3h0M354.6 206.3h0M377.5 206.6h0M376.7 206.5h0M393.7 205.5h0M382.6 208.8h0M372.1 194.3h0M381.5 205.3h0M351.7 207.4h0M408.2 204.6h0M371.0 183.1h0M376.0 206.0h0M365.6 208.6h0M364.2 206.4h0M386.6 205.0h0M366.1 208.1h0M380.9 208.2h0M361.8 207.7h0M381.3 207.0h0M374.1 204.6h0M371.3 183.6h0M365.7 204.8h0M370.7 208.0h0M368.8 204.9h0M361.1 207.9h0M386.1 205.3h0M368.9 205.7h0M364.1 207.6h0M387.8 208.3h0M377.3 204.6h0M368.3 208.0h0M375.2 205.5h0M380.9 159.8h0M405.0 205.5h0M388.6 204.7h0M371.6 192.9h0M365.6 208.1h0M371.6 195.3h0M369.6 150.9h0M357.2 206.9h0M381.0 158.9h0M385.5 205.8h0M370.0 205.0h0M360.8 207.4h0M360.3 206.4h0M376.1 208.7h0M349.4 204.9h0M380.3 174.1h0M363.0 207.6h0M357.1 205.3h0M380.4 194.8h0M375.5 208.3h0M381.0 160.1h0M385.2 204.3h0M374.9 204.4h0M378.9 197.0h0M385.4 207.9h0M353.7 208.0h0M354.9 206.0h0M373.5 208.1h0M370.4 200.6h0M371.0 167.6h0M349.6 204.6h0M371.8 198.4h0M354.8 206.2h0M371.4 182.7h0M360.8 208.2h0M352.4 204.6h0M363.5 205.1h0M365.8 205.3h0M397.8 207.7h0M377.5 196.2h0M370.5 207.7h0M382.9 207.4h0M373.9 207.6h0M389.3 205.1h0M338.8 204.9h0M373.2 207.6h0M396.9 207.0h0M388.5 208.1h0M382.9 208.3h0M400.9 205.0h0M380.1 195.8h0M359.2 207.9h0M382.6 206.9h0M370.7 166.5h0M360.5 206.3h0M354.8 206.0h0M366.9 205.2h0M372.0 208.1h0M384.7 206.2h0M385.6 208.7h0M371.3 170.1h0M355.3 206.2h0M372.8 200.3h0M364.0 205.8h0M390.5 204.9h0M342.8 204.6h0M382.1 208.3h0M385.9 204.4h0M377.2 206.9h0M380.9 160.1h0M342.1 206.6h0M347.9 207.7h0M337.1 206.3h0M372.5 203.9h0M379.6 183.2h0M374.9 204.8h0M390.0 208.3h0M357.6 205.0h0M364.5 206.7h0M404.6 204.7h0M337.0 205.0h0M371.6 174.9h0M375.5 205.1h0M335.5 205.7h0M350.8 205.2h0M371.3 206.6h0M408.4 204.4h0M370.5 184.1h0M382.0 208.1h0M369.5 206.0h0M392.5 208.3h0M354.2 204.5h0M381.0 205.3h0M397.2 204.6h0M372.2 205.0h0M398.9 205.7h0M364.2 206.3h0M373.0 193.5h0M373.9 196.9h0M374.3 200.4h0M374.4 206.6h0M379.6 208.0h0M371.9 208.8h0M350.4 204.4h0M414.5 206.2h0M360.3 208.1h0M408.8 205.8h0M369.9 207.6h0M375.1 204.4h0M380.4 184.6h0M374.8 205.8h0M377.5 205.4h0M359.2 206.8h0M380.9 185.8h0M372.9 200.8h0M360.0 207.7h0M382.0 206.6h0M364.4 206.3h0M348.5 206.8h0M387.9 208.5h0M387.2 207.5h0M378.7 203.6h0M359.8 206.9h0M356.1 205.7h0M381.2 156.8h0M404.1 206.5h0M373.8 202.3h0M359.0 205.1h0M367.3 206.6h0M378.0 204.5h0M389.0 205.0h0M364.8 208.1h0M337.5 206.3h0M370.8 196.7h0M374.0 206.7h0M390.2 208.3h0M380.3 168.7h0M370.5 162.3h0M384.0 204.6h0M369.9 153.1h0M397.2 208.0h0M380.1 196.5h0M371.5 207.3h0M373.4 206.1h0M358.5 207.0h0M359.0 208.2h0M380.8 207.9h0M360.5 206.0h0M385.1 206.5h0M351.8 207.0h0M371.9 179.3h0M373.3 190.3h0M378.5 203.9h0M358.8 207.9h0M362.2 207.3h0M405.3 204.9h0M381.5 206.7h0M385.6 204.4h0M366.2 205.3h0M370.7 208.7h0M356.5 207.3h0M374.4 206.9h0M370.5 162.0h0M355.1 204.6h0M350.1 204.8h0M345.8 207.4h0M365.6 205.8h0M373.5 206.8h0M370.7 170.7h0M359.6 206.0h0M385.4 208.2h0M387.7 206.9h0M361.1 205.5h0M372.0 204.6h0M400.9 206.8h0M365.2 206.8h0M355.5 204.3h0M379.8 173.4h0M373.5 205.4h0M374.8 204.4h0M348.2 206.4h0M345.4 205.8h0M377.7 205.9h0M380.8 161.9h0M341.2 205.4h0M373.8 207.6h0M372.7 204.5h0M368.2 206.0h0M396.6 206.7h0M367.0 204.8h0M362.3 207.7h0M354.3 208.2h0M370.3 204.7h0M393.3 205.0h0M375.9 206.0h0M389.4 205.4h0M404.6 206.1h0M370.4 208.1h0M353.2 207.3h0M370.4 166.3h0M381.6 204.6h0M393.6 206.5h0M368.4 205.9h0M347.3 204.8h0M354.6 207.4h0M401.2 207.6h0M369.6 150.5h0M370.1 204.5h0M372.3 208.2h0M377.7 206.1h0M373.8 207.0h0M401.9 207.3h0M403.1 206.1h0M385.7 207.8h0M368.0 204.5h0M389.6 208.4h0M381.0 208.9h0M378.9 208.9h0M357.5 206.0h0M362.8 205.0h0M368.1 207.2h0M349.1 204.7h0M355.8 206.0h0M394.2 206.3h0M345.0 206.8h0M386.6 208.3h0M371.2 180.8h0M366.8 208.3h0M380.9 164.4h0M377.2 207.3h0M393.2 204.8h0M404.6 206.1h0M370.2 156.9h0M369.2 207.8h0M357.8 207.6h0M405.8 205.4h0M391.9 204.6h0M370.5 162.6h0M380.0 205.1h0M380.3 205.0h0M331.2 205.6h0M371.7 191.0h0M401.4 206.4h0M373.0 204.6h0M368.5 208.0h0M361.6 205.4h0M350.0 205.0h0M383.5 205.4h0M364.6 206.7h0M368.2 206.8h0M353.3 205.1h0M371.4 175.5h0M386.8 205.7h0M364.1 205.8h0M379.1 198.3h0M359.3 205.6h0M372.0 185.9h0M367.1 204.5h0M370.4 203.4h0M375.1 207.8h0M393.6 206.0h0M370.4 193.7h0M382.5 205.8h0M386.6 206.2h0M375.8 205.2h0M387.8 206.0h0M369.5 205.8h0M370.8 172.8h0M365.8 208.6h0M378.1 205.5h0M378.8 188.4h0M351.8 207.4h0M379.1 208.5h0M380.2 205.9h0M387.9 208.2h0M370.1 208.1h0M352.3 207.2h0M362.5 206.8h0M371.3 206.5h0M364.5 207.9h0M380.1 206.9h0M381.2 156.5h0M379.6 198.0h0M370.8 203.6h0M360.3 208.6h0M373.3 207.5h0M379.8 176.2h0M380.5 197.0h0M379.3 205.3h0M346.1 205.9h0M365.6 207.8h0M363.8 205.7h0M376.9 205.1h0M379.2 202.0h0M382.0 205.3h0M386.6 205.1h0M341.9 204.4h0M350.1 205.8h0M380.1 170.9h0M387.1 204.6h0M373.1 191.7h0M358.6 207.8h0M378.0 201.3h0M376.3 204.6h0M342.2 207.0h0M394.1 205.1h0M408.4 206.4h0M342.4 206.4h0M412.1 206.4h0M378.2 205.8h0M371.3 173.0h0M371.3 172.5h0M391.0 208.4h0M381.8 205.1h0M393.1 208.4h0M397.5 207.9h0M372.4 199.0h0M361.3 207.5h0M399.6 205.4h0M379.4 198.8h0M380.7 192.0h0M369.8 153.5h0M348.1 206.4h0M376.1 207.5h0M383.7 206.5h0M348.3 204.5h0M399.3 204.3h0M387.6 205.0h0M390.4 208.3h0M368.5 205.9h0M352.6 205.2h0M358.1 205.8h0M355.3 205.1h0M379.6 196.0h0M379.4 198.1h0M380.9 160.8h0M369.4 148.9h0M379.8 172.4h0M334.9 206.0h0M388.5 204.4h0M370.8 171.8h0M375.0 207.2h0M381.2 204.7h0M383.2 207.6h0M371.0 200.7h0M372.7 207.2h0M362.4 208.2h0M379.8 177.4h0M338.9 206.3h0M366.6 207.8h0M329.4 205.1h0M373.9 200.6h0M348.1 206.2h0M396.9 204.6h0M369.0 208.3h0M373.0 208.0h0M376.2 203.3h0M348.9 207.2h0M345.6 205.6h0M387.9 205.9h0M385.3 208.4h0M382.4 208.5h0M394.7 206.1h0M420.6 205.1h0M370.8 206.9h0M388.3 208.3h0M378.0 205.6h0M375.7 206.6h0M358.0 206.2h0M383.0 204.4h0M337.2 204.8h0M384.8 207.2h0M380.3 206.3h0M365.8 208.5h0M396.3 205.2h0M377.7 206.9h0M373.0 207.8h0M346.9 205.9h0M371.6 182.9h0M346.1 206.0h0M395.9 205.3h0M360.4 205.2h0M379.2 207.7h0M376.6 203.0h0M394.1 205.0h0M384.4 204.9h0M377.7 209.0h0M370.5 168.3h0M374.0 207.7h0M374.5 208.8h0M397.9 204.8h0M359.5 206.2h0M393.8 206.8h0M357.5 206.9h0M367.0 205.7h0M378.3 208.8h0M395.5 206.0h0M389.9 208.5h0M391.3 207.6h0M353.2 204.6h0M370.6 208.6h0M377.0 208.3h0M377.7 208.1h0M390.5 204.9h0M363.4 205.5h0M412.8 205.4h0M349.8 204.8h0M368.1 206.2h0M357.9 207.8h0M363.5 205.7h0M369.5 150.0h0M370.7 172.3h0M384.0 206.5h0M372.2 199.4h0M392.5 207.4h0M368.1 207.9h0M378.0 200.3h0M365.9 205.1h0M348.2 205.0h0M369.9 154.2h0M392.5 208.4h0M361.0 204.6h0M391.0 208.1h0M390.9 206.1h0M387.2 205.9h0M388.0 208.4h0M401.1 204.9h0M372.9 188.0h0M385.2 206.5h0M369.9 205.2h0M395.9 205.6h0M384.8 207.3h0M380.7 205.0h0M370.3 158.1h0M384.2 204.4h0M375.8 208.8h0M344.4 207.3h0M381.0 205.4h0M381.7 208.7h0M374.7 208.0h0M368.1 205.2h0M371.9 205.3h0M379.2 208.0h0M386.5 207.4h0M380.7 183.5h0M397.4 207.5h0M380.1 205.2h0M390.3 207.4h0M377.7 201.6h0M378.9 193.6h0M414.1 204.5h0M380.6 200.0h0M373.9 205.7h0M388.5 208.7h0M335.0 204.4h0M371.9 175.3h0M371.4 207.4h0M360.4 208.3h0M380.6 178.4h0M387.4 207.2h0M362.3 207.5h0M387.7 205.9h0M403.1 206.4h0M369.5 149.2h0M363.4 206.1h0M408.4 205.3h0M337.6 206.0h0M358.8 205.5h0M385.7 206.1h0M414.8 204.5h0M381.7 205.0h0M372.4 200.4h0M373.3 205.9h0M396.6 207.0h0M370.4 208.2h0M391.5 206.1h0M398.0 205.8h0M375.7 204.3h0M385.9 208.7h0M352.3 206.2h0M355.1 208.2h0M376.5 206.2h0M362.9 206.7h0M373.9 208.6h0M379.5 207.2h0M388.4 207.6h0M381.1 157.5h0M391.5 205.6h0M366.2 204.6h0M374.2 208.1h0M370.7 177.3h0M371.8 208.2h0M349.4 206.9h0M387.6 206.5h0M381.4 206.2h0M374.0 206.2h0M373.3 205.7h0M370.4 158.9h0M390.1 207.9h0M383.2 205.9h0M382.8 206.7h0M372.1 183.1h0M370.4 162.8h0M382.8 208.4h0M337.9 206.7h0M350.3 205.2h0M367.3 205.0h0M383.4 204.4h0M378.1 200.2h0M386.1 208.5h0M356.4 204.6h0M388.2 207.5h0M377.9 204.5h0M372.4 205.3h0M381.2 205.9h0M413.8 205.7h0M365.7 206.3h0M374.3 208.3h0M378.3 207.1h0M356.8 205.4h0M356.8 206.3h0M402.8 206.7h0M346.4 204.7h0M396.9 205.9h0M406.4 206.3h0M370.6 188.9h0M371.9 203.8h0M372.1 207.3h0M374.4 207.6h0M374.2 207.3h0M378.8 186.8h0M383.6 205.4h0M370.9 167.5h0M373.0 206.6h0M379.2 208.7h0M355.3 204.5h0M388.5 206.2h0M373.1 208.8h0M386.4 204.5h0M405.8 205.7h0M378.1 208.0h0M386.8 206.7h0M383.2 206.5h0M343.2 205.7h0M392.8 204.6h0M372.5 199.1h0M369.7 204.8h0M380.0 192.3h0M389.5 206.8h0M377.0 205.9h0M373.0 201.5h0M373.2 207.2h0M359.6 208.1h0M384.1 208.3h0M389.7 207.5h0M374.6 206.1h0M368.0 208.4h0M369.5 150.2h0M369.6 206.5h0M368.8 206.0h0M405.9 206.0h0M345.5 205.5h0M386.5 207.8h0M371.3 194.6h0M379.6 201.3h0M369.5 149.2h0M364.5 208.0h0M338.0 205.1h0M365.6 204.5h0M376.6 208.3h0M392.7 207.9h0M355.5 207.9h0M379.0 208.9h0M365.8 204.3h0M376.9 205.8h0M380.5 164.9h0M360.5 207.3h0M386.4 206.2h0M365.3 204.4h0M369.7 151.3h0M360.6 207.0h0M369.9 205.1h0M391.9 208.5h0M363.6 207.5h0M372.5 189.0h0M388.5 207.6h0M378.2 197.0h0M371.1 181.0h0M372.2 207.8h0M371.6 178.2h0M379.8 207.9h0M358.5 206.0h0M379.6 186.3h0M370.4 190.7h0M368.9 207.8h0M362.4 204.9h0M394.7 204.5h0M414.6 205.7h0M370.4 180.6h0M370.5 203.4h0M372.7 207.2h0M387.4 206.4h0M373.2 208.2h0M374.1 202.8h0M371.4 176.7h0M385.5 207.5h0M327.7 204.6h0M334.4 206.0h0M370.7 187.7h0M385.8 204.4h0M392.0 206.1h0M387.7 208.2h0M343.6 205.0h0M370.1 207.9h0M380.4 205.4h0M380.7 165.8h0M350.0 205.2h0M380.6 206.8h0M381.2 205.7h0M383.5 208.2h0M372.3 207.0h0M378.4 206.9h0M374.6 199.7h0M365.2 206.3h0M339.6 206.2h0M395.1 206.4h0M380.9 164.0h0M366.0 207.1h0M349.9 204.8h0M367.2 207.8h0M357.8 204.5h0M351.3 207.2h0M378.7 206.2h0M373.0 207.3h0M384.2 206.4h0M396.1 206.2h0M350.4 204.9h0M378.6 196.5h0M371.0 193.8h0M380.7 200.2h0M378.1 192.2h0M370.8 207.3h0M371.0 172.8h0M385.7 205.2h0M380.6 202.9h0M375.0 205.5h0M362.7 206.4h0M374.1 203.9h0M369.0 204.5h0M388.3 206.9h0M390.9 208.6h0M368.7 207.6h0M387.6 207.8h0M369.9 152.9h0M369.5 205.4h0M380.7 191.8h0M381.5 205.0h0M374.1 208.8h0M361.9 204.9h0M387.0 205.9h0M389.1 204.4h0M382.1 207.2h0M395.4 206.2h0M383.9 205.0h0M408.9 205.7h0M378.4 199.0h0M336.6 205.4h0M409.0 204.6h0M391.9 206.1h0M368.3 207.5h0M370.2 208.1h0M372.9 189.2h0M375.8 205.0h0M367.5 207.4h0M370.9 207.5h0M367.4 206.7h0M346.9 205.4h0M411.5 204.7h0M382.0 207.3h0M380.1 204.7h0M367.9 208.8h0M375.4 205.8h0M384.3 205.1h0M387.1 204.4h0M382.3 208.3h0M374.0 204.8h0M343.1 205.8h0M377.9 208.2h0M365.1 205.7h0M371.2 207.1h0M371.4 176.2h0M338.0 206.0h0M371.8 201.3h0M369.2 208.3h0M371.2 196.7h0M362.9 208.6h0M376.8 203.1h0M364.7 205.8h0M371.5 208.5h0M363.6 205.7h0M371.7 203.7h0M368.2 205.9h0M379.0 206.8h0M382.3 204.7h0M355.8 206.9h0M378.9 204.4h0M393.7 207.6h0M370.4 192.1h0M409.7 204.4h0M366.2 204.8h0M371.0 166.8h0M374.7 208.5h0M385.1 206.2h0M369.4 207.5h0M373.1 208.1h0M394.6 207.5h0M341.7 204.4h0M388.7 208.6h0M346.5 204.7h0M352.9 206.9h0M373.7 200.0h0M380.4 202.4h0M362.7 205.2h0M380.6 204.5h0M372.2 198.1h0M352.7 206.3h0M344.2 206.0h0M370.2 157.7h0M403.1 205.7h0M403.4 207.3h0M379.7 208.8h0M355.2 206.6h0M406.6 205.2h0M378.2 208.9h0M370.4 159.6h0M383.7 206.0h0M352.5 207.7h0M385.1 204.8h0M394.9 208.3h0M372.1 185.7h0M380.6 171.5h0M352.0 205.8h0M401.7 206.8h0M380.8 174.4h0M388.1 208.7h0M349.0 205.1h0M372.9 204.6h0M371.5 207.6h0M395.3 206.0h0M372.5 184.4h0M368.5 208.5h0M362.1 204.6h0M353.8 204.8h0M339.2 205.8h0M383.1 205.6h0M398.4 206.7h0M359.7 207.3h0M359.9 205.2h0M354.5 206.0h0M371.0 174.7h0M331.2 205.4h0M368.9 204.9h0M347.8 205.7h0M370.8 205.6h0M371.8 205.1h0M371.9 184.1h0M371.8 206.2h0M359.3 207.3h0M390.4 207.2h0M347.0 207.1h0M343.2 204.8h0M351.2 208.0h0M367.4 206.3h0M381.0 162.2h0M379.7 184.7h0M377.1 206.8h0M379.6 176.6h0M371.3 173.7h0M391.4 207.6h0M381.1 206.7h0M378.6 208.3h0M418.0 204.8h0M376.8 201.3h0M377.2 206.2h0M388.8 208.1h0M352.8 204.6h0M392.4 204.8h0M400.0 205.3h0M364.1 208.5h0M380.6 165.1h0M359.2 204.7h0M397.4 206.4h0M377.3 197.7h0M379.5 205.7h0M379.6 204.8h0M407.7 205.5h0M384.1 206.5h0M377.6 202.1h0M380.9 191.3h0M364.6 207.1h0M367.4 205.1h0M380.0 186.6h0M406.6 206.5h0M374.4 200.7h0M370.7 185.1h0M381.0 205.8h0M386.8 206.7h0M402.4 206.0h0M339.4 205.7h0M376.8 208.6h0M380.4 167.8h0M378.9 184.2h0M371.4 178.2h0M364.3 206.2h0M387.7 206.0h0M363.8 206.8h0M367.2 206.9h0M379.8 206.9h0M347.9 206.7h0M381.1 158.2h0M380.1 197.2h0M371.7 173.5h0M337.0 205.3h0M379.1 181.8h0M352.8 204.9h0M360.6 208.2h0M384.7 204.4h0M364.9 204.3h0M358.9 207.9h0M371.8 208.3h0M357.2 207.9h0M385.7 204.9h0M369.7 205.0h0M383.4 208.0h0M361.9 205.1h0M381.0 172.0h0M352.4 205.6h0M348.0 204.5h0M347.0 206.2h0M356.6 205.8h0M363.8 206.3h0M395.6 205.8h0M366.2 206.0h0M379.1 206.3h0M355.4 205.1h0M371.7 205.2h0M380.5 201.5h0M361.8 206.7h0M370.6 179.2h0M379.6 205.0h0M378.7 204.4h0M353.3 206.8h0M370.6 163.0h0M370.3 158.0h0M381.6 204.5h0M358.4 207.9h0M373.2 207.8h0M369.9 207.0h0M380.4 208.4h0M387.5 207.2h0M391.7 208.1h0M394.9 208.2h0M411.2 205.9h0M390.8 205.3h0M366.0 206.1h0M390.1 208.2h0M405.8 206.9h0M393.6 204.4h0M381.2 208.6h0M408.5 204.5h0M364.6 204.4h0M360.4 204.8h0M380.8 162.0h0M394.2 207.1h0M392.1 208.1h0M371.2 204.6h0M375.5 205.5h0M365.0 205.3h0M393.6 206.6h0M389.9 204.4h0M364.7 206.1h0M358.5 207.8h0M380.7 189.6h0M399.2 207.8h0M403.2 205.7h0M335.1 204.7h0M422.8 205.5h0M330.2 204.3h0M372.3 206.3h0M370.7 206.3h0M379.2 204.8h0M371.1 205.8h0M392.2 206.2h0M370.4 163.6h0M365.8 205.3h0M412.7 206.2h0M379.0 185.2h0M352.5 205.4h0M375.3 205.7h0M370.0 208.1h0M398.7 206.3h0M357.7 208.5h0M367.2 205.1h0M379.7 208.5h0M380.7 184.1h0M371.9 179.1h0M392.1 205.0h0M375.0 208.3h0M369.8 206.1h0M380.7 191.9h0M385.7 208.7h0M377.8 205.1h0M371.5 201.2h0M392.6 208.0h0M378.3 205.9h0M348.2 207.6h0M351.0 204.5h0M360.1 207.7h0M371.1 204.5h0M331.1 205.4h0M342.1 206.0h0M366.3 204.7h0M379.1 205.3h0M400.5 204.6h0M380.5 208.2h0M345.6 204.5h0M369.5 208.4h0M367.2 205.0h0M400.3 204.4h0M384.4 205.2h0M341.2 205.5h0M373.3 203.5h0M364.4 208.3h0M392.3 208.5h0M386.2 206.5h0M372.9 205.2h0M374.7 206.2h0M363.1 207.9h0M390.8 205.3h0M390.4 205.8h0M348.4 207.6h0M348.0 204.4h0M356.7 206.3h0M400.4 208.0h0M381.6 204.5h0M388.6 206.7h0M373.0 207.0h0M377.7 206.1h0M402.4 204.6h0M362.8 204.6h0M370.6 169.9h0M394.1 205.0h0M359.3 207.4h0M367.3 205.3h0M368.2 205.3h0M354.8 206.1h0M372.0 198.7h0M380.9 171.5h0M381.1 157.9h0M385.7 205.1h0M365.9 208.5h0M378.2 207.6h0M363.7 206.0h0M354.5 205.7h0M380.7 205.0h0M347.7 205.3h0M359.2 204.8h0M385.8 207.7h0M381.7 208.3h0M334.0 204.8h0M383.6 205.1h0M372.2 208.5h0M370.6 208.6h0M350.5 205.5h0M359.2 206.4h0M335.7 206.1h0M371.7 183.7h0M354.7 208.2h0M370.4 161.5h0M385.3 204.9h0M365.4 208.6h0M366.9 208.3h0M382.3 206.6h0M380.9 174.5h0M373.8 202.1h0M379.9 180.9h0M381.1 208.7h0M376.5 208.9h0M374.5 199.3h0M379.7 173.5h0M360.1 207.5h0M382.6 208.6h0M366.7 205.0h0M379.5 206.4h0M360.9 207.1h0M373.7 205.8h0M383.4 205.4h0M372.7 206.7h0M347.8 206.5h0M415.5 204.9h0M373.6 206.4h0M369.9 154.4h0M373.1 208.3h0M374.5 207.7h0M335.8 204.4h0M382.1 207.2h0M372.5 181.5h0M377.1 201.8h0M379.8 179.1h0M376.2 208.9h0M380.8 183.6h0M370.2 156.3h0M386.0 206.1h0M363.9 206.0h0M379.4 206.3h0M382.9 205.1h0M350.4 206.1h0M390.2 205.3h0M398.2 206.9h0M380.3 183.4h0M376.2 204.7h0M387.5 207.6h0M375.6 207.8h0M389.6 204.5h0M371.2 171.5h0M357.5 208.3h0M390.8 206.5h0M358.2 204.7h0M383.8 205.6h0M411.5 205.9h0M390.7 208.4h0M344.6 206.9h0M376.6 206.9h0M356.3 207.6h0M361.5 208.4h0M379.9 173.9h0M361.8 206.7h0M362.0 205.2h0M372.2 207.2h0M373.6 195.8h0M365.5 208.8h0M380.6 207.9h0M360.6 206.0h0M372.3 208.4h0M376.2 209.0h0M370.7 165.9h0M387.2 208.3h0M394.5 205.6h0M385.8 208.1h0M362.4 206.5h0M362.1 207.9h0M376.2 205.3h0M375.2 205.0h0M387.8 205.7h0M388.4 208.0h0M377.6 207.6h0M361.7 207.1h0M383.9 205.5h0M389.1 207.6h0M363.1 207.3h0M347.2 205.7h0M384.2 208.0h0M361.0 207.7h0M383.4 208.7h0M414.7 204.5h0M371.5 204.4h0M371.4 177.9h0M373.6 206.7h0M373.5 200.8h0M340.3 205.4h0M386.9 208.8h0M388.2 207.0h0M427.7 204.7h0M380.2 186.7h0M371.9 186.5h0M348.7 205.5h0M339.1 205.1h0M383.8 208.5h0M380.5 178.7h0M377.8 207.6h0M367.2 208.5h0M370.4 207.9h0M391.2 207.8h0M370.0 205.2h0M349.7 206.7h0M387.0 206.0h0M370.7 169.0h0M404.6 207.6h0M359.5 205.1h0M385.2 204.9h0M383.6 208.6h0M403.9 206.4h0M401.8 207.8h0M392.3 207.8h0M363.9 204.8h0M381.0 205.4h0M370.8 208.6h0M376.0 206.9h0M379.9 173.7h0M376.6 203.3h0M367.3 207.0h0M354.6 204.8h0M357.8 207.6h0M378.1 205.8h0M370.3 204.8h0M364.4 204.8h0M373.1 208.1h0M382.8 207.9h0M408.2 207.3h0M366.4 204.7h0M354.0 205.5h0M380.5 207.0h0M382.8 206.6h0M349.1 206.4h0M408.2 205.8h0M372.3 200.3h0M372.8 198.7h0M389.2 206.9h0M387.9 208.2h0M351.7 206.7h0M349.1 207.1h0M374.3 205.8h0M398.1 206.2h0M368.4 207.2h0M387.7 204.9h0M413.2 205.5h0M380.5 191.6h0M351.8 206.1h0M385.7 207.6h0M373.1 193.9h0M386.9 206.4h0M334.2 205.4h0M378.8 204.8h0M382.1 208.2h0M362.9 205.4h0M379.4 203.1h0M360.0 206.8h0M374.3 206.6h0M380.1 197.6h0M390.9 207.1h0M369.6 150.3h0M370.4 208.3h0M396.9 206.9h0M389.4 205.5h0M373.4 195.9h0M370.6 199.9h0M394.4 208.1h0M353.3 204.6h0M356.4 206.8h0M364.0 205.2h0M370.6 208.5h0M393.0 207.5h0M366.3 205.5h0M343.2 206.3h0M380.9 162.7h0M365.2 207.3h0M380.1 176.6h0M380.4 203.9h0M381.1 157.5h0M369.1 207.0h0M400.1 205.1h0M375.6 206.1h0M379.4 177.9h0M394.5 206.7h0M370.7 202.9h0M371.5 206.3h0M371.4 178.3h0M357.5 206.1h0M371.6 207.9h0M346.5 207.1h0M377.4 205.2h0M359.9 206.4h0M371.4 179.9h0M397.7 205.7h0M414.6 205.6h0M393.6 207.9h0M380.6 208.9h0M392.1 204.4h0M361.1 206.2h0M371.2 202.3h0M361.3 207.9h0M380.3 201.4h0M411.9 206.7h0M362.2 205.0h0M386.2 205.7h0M382.5 207.7h0M380.1 171.0h0M348.7 204.6h0M392.6 206.9h0M379.4 206.7h0M359.5 205.9h0M348.8 206.3h0M374.2 201.5h0M378.5 204.8h0M367.2 208.9h0M380.9 205.4h0M380.5 183.9h0M368.0 204.9h0M391.0 207.1h0M380.0 176.2h0M359.7 208.4h0M380.1 207.2h0M375.5 208.0h0M343.9 206.2h0M370.8 208.4h0M363.7 204.5h0M397.1 207.9h0M356.9 204.7h0M360.3 206.1h0M376.4 208.6h0M379.4 204.8h0M355.2 206.1h0M360.0 205.7h0M358.0 206.1h0M375.9 208.6h0M351.2 205.4h0M396.7 207.8h0M388.5 207.4h0M389.1 208.0h0M368.8 205.7h0M351.8 207.0h0M364.7 208.7h0M390.3 204.4h0M375.3 207.8h0M380.9 207.9h0M389.0 206.6h0M363.4 207.3h0M351.4 204.5h0M401.4 207.4h0M370.4 174.3h0M381.2 208.5h0M369.6 149.8h0M373.4 192.5h0M371.7 206.9h0M401.9 205.2h0M341.8 205.8h0M381.1 158.7h0M381.0 200.8h0M380.3 179.3h0M379.1 184.1h0M372.3 207.3h0M338.2 206.3h0M400.9 205.3h0M397.5 207.7h0M386.8 204.9h0M375.1 208.4h0M360.3 207.8h0M372.2 199.5h0M375.6 205.2h0M350.8 207.7h0M384.4 207.2h0M372.8 206.1h0M363.4 207.2h0M348.1 206.3h0M366.4 208.8h0M382.7 208.8h0M399.2 206.9h0M370.4 161.3h0M370.7 162.6h0M354.6 206.9h0M372.7 187.5h0M385.8 205.4h0M369.7 151.2h0M386.8 208.3h0M380.4 192.4h0M389.8 206.0h0M364.7 207.9h0M348.3 204.3h0M348.8 206.5h0M397.8 207.7h0M343.1 205.3h0M365.9 205.8h0M397.1 208.3h0M364.9 205.7h0M380.7 163.8h0M369.3 205.2h0M379.0 182.7h0M347.1 205.1h0M373.1 204.4h0M393.3 208.5h0M380.6 191.6h0M385.3 208.7h0M381.0 176.9h0M370.8 192.9h0M382.5 204.9h0M395.2 208.3h0M369.5 148.9h0M399.4 206.9h0M372.1 207.6h0M391.0 208.2h0M370.6 208.4h0M353.9 208.1h0M375.0 208.9h0M365.5 204.3h0M368.3 204.3h0M377.3 205.3h0M337.2 205.1h0M386.3 206.7h0M380.5 179.1h0M382.0 207.8h0M399.9 207.9h0M354.7 204.6h0M384.7 206.9h0M382.4 207.8h0M390.4 204.4h0M371.8 204.7h0M371.5 178.3h0M361.8 207.2h0M404.8 205.7h0M378.4 207.5h0M381.9 205.4h0M385.1 204.4h0M366.9 205.1h0M398.1 204.9h0M370.2 156.2h0M374.1 204.3h0M328.1 205.5h0M377.9 196.9h0M364.9 206.8h0M356.8 206.1h0M371.0 168.1h0M353.3 204.7h0M392.0 204.9h0M369.9 153.6h0M371.1 179.6h0M372.3 183.0h0M363.3 205.2h0M370.7 168.6h0M359.0 204.8h0M368.3 206.3h0M384.3 205.8h0M360.4 206.5h0M377.5 204.9h0M371.0 174.5h0M370.0 208.0h0M363.9 207.8h0M370.3 157.6h0M357.8 208.0h0M380.2 204.4h0M346.9 206.8h0M354.2 206.9h0M369.4 206.3h0M407.2 204.8h0M381.7 208.7h0M380.9 160.9h0M353.6 205.3h0M364.3 208.2h0M352.4 207.7h0M350.6 206.3h0M379.0 205.8h0M393.6 205.2h0M371.7 202.8h0M373.7 207.1h0M372.6 199.5h0M387.6 208.5h0M362.5 204.7h0M366.6 205.2h0M379.7 204.9h0M378.8 203.4h0M362.8 205.7h0M411.3 206.7h0M388.6 207.1h0M382.8 208.2h0M382.3 207.1h0M369.6 207.0h0M396.2 206.9h0M353.0 206.4h0M355.1 207.7h0M377.8 200.2h0M380.4 170.7h0M364.3 207.7h0M358.6 204.9h0M401.2 207.2h0M383.5 206.8h0M376.9 200.3h0M369.9 208.7h0M362.8 207.2h0M375.9 208.1h0M398.4 206.5h0M370.7 197.8h0M379.8 193.8h0M384.2 205.9h0M381.1 159.1h0M383.6 207.8h0M381.3 207.3h0M365.1 206.7h0M342.9 204.9h0M376.6 205.1h0M393.5 205.4h0M379.4 206.6h0M352.3 204.8h0M399.5 204.6h0M381.0 161.8h0M380.7 168.3h0M387.5 206.3h0M381.0 206.3h0M396.3 205.9h0M392.6 205.7h0M365.2 204.8h0M400.3 204.8h0M355.5 206.6h0M338.1 206.6h0M399.0 205.9h0M379.6 203.9h0M359.5 206.9h0M393.0 207.6h0M392.9 204.8h0M399.7 207.0h0M379.9 207.5h0M369.4 149.4h0M365.4 204.8h0M371.6 193.7h0M372.0 205.2h0M370.2 156.9h0M369.3 205.4h0M380.2 169.4h0M411.6 205.5h0M346.8 206.9h0M370.8 204.5h0M405.2 206.1h0M337.9 204.6h0M358.6 208.1h0M371.6 192.5h0M380.1 206.3h0M398.1 204.5h0M389.4 208.5h0M351.9 207.0h0M383.0 208.7h0M397.3 208.1h0M380.8 170.1h0M379.5 182.9h0M346.5 206.9h0M370.6 173.6h0M377.2 206.9h0M391.7 208.2h0M357.8 204.6h0M370.5 163.0h0M380.3 170.9h0M384.5 206.1h0M359.1 205.8h0M400.1 205.1h0M376.7 200.8h0M361.4 204.9h0M374.1 208.4h0M368.4 207.7h0M376.8 208.0h0M347.4 207.6h0M388.9 205.2h0M357.5 206.0h0M362.3 206.0h0M396.8 206.4h0M382.3 206.4h0M370.3 157.9h0M414.8 204.6h0M376.3 205.1h0M354.1 204.5h0M370.2 205.2h0M374.4 198.4h0M344.3 206.8h0M372.4 189.8h0M365.9 208.7h0M364.2 207.9h0M395.9 207.8h0M378.2 202.8h0M383.2 208.5h0M380.3 197.3h0M369.3 205.2h0M384.9 205.8h0M383.8 204.5h0M367.3 204.9h0M328.8 204.6h0M391.0 205.4h0M379.7 188.6h0M386.7 206.4h0M374.1 206.8h0M346.4 205.1h0M377.1 204.8h0M377.5 204.6h0M365.1 206.3h0M374.3 206.6h0M372.0 185.0h0M401.6 207.0h0M359.9 205.2h0M378.0 208.9h0M359.7 208.4h0M372.1 195.6h0M378.8 190.2h0M368.5 207.1h0M370.6 171.7h0M347.8 206.3h0M373.0 194.7h0M369.4 204.5h0M376.1 203.6h0M390.1 208.4h0M380.9 207.2h0M368.7 208.7h0M364.0 206.4h0M371.8 205.9h0M384.2 206.9h0M359.0 207.2h0M398.6 207.2h0M387.1 207.1h0M379.2 188.4h0M372.1 191.7h0M370.7 163.9h0M380.6 162.8h0M370.3 158.0h0M385.5 206.2h0M339.5 206.1h0M378.3 207.8h0M371.6 172.1h0M398.8 205.0h0M380.9 162.0h0M380.1 205.4h0M380.7 200.2h0M370.9 182.3h0M348.1 205.0h0M385.6 206.8h0M372.7 184.9h0M384.4 205.0h0M357.2 208.2h0M354.4 207.1h0M391.0 207.0h0M369.5 150.1h0M405.0 204.9h0M370.7 206.1h0M353.9 205.4h0M389.2 208.4h0M352.5 206.0h0M345.9 205.9h0M374.6 207.5h0M370.9 206.0h0M374.3 207.0h0M377.4 208.4h0M371.3 168.6h0M390.3 208.0h0M330.6 204.6h0M395.7 208.3h0M360.5 206.8h0M331.4 205.3h0M376.4 208.3h0M376.5 208.9h0M356.0 204.5h0M364.8 207.0h0M398.2 207.8h0M402.3 207.5h0M353.0 205.7h0M396.0 206.1h0M345.8 205.7h0M375.2 202.8h0M380.4 208.3h0M376.4 208.5h0M371.0 184.6h0M352.1 206.0h0M378.3 206.8h0M400.2 206.8h0M393.3 207.7h0M380.9 168.4h0M340.7 206.2h0M369.4 148.5h0M372.2 201.3h0M369.5 149.0h0M372.8 186.4h0M351.5 207.0h0M370.1 208.0h0M397.6 206.5h0M381.7 208.4h0M382.7 208.2h0M373.3 204.8h0M363.3 208.4h0M404.8 205.6h0M376.9 208.2h0M406.6 205.5h0M382.2 207.9h0M397.7 205.1h0M358.9 207.5h0M385.4 208.4h0M347.0 205.7h0M380.2 177.8h0M369.5 207.9h0M381.6 207.9h0M378.1 207.2h0M372.0 204.9h0M348.1 207.2h0M378.1 207.3h0M385.4 205.6h0M376.4 205.2h0M358.4 206.6h0M389.8 206.3h0M376.7 207.9h0M370.2 156.9h0M390.1 204.4h0M364.3 204.4h0M342.4 205.1h0M359.0 206.5h0M371.6 171.6h0M362.9 207.1h0M395.5 206.1h0M379.0 190.6h0M370.9 202.2h0M383.8 208.1h0M373.0 206.8h0M379.8 180.6h0M370.9 208.7h0M393.7 208.2h0M377.8 202.7h0M380.6 162.9h0M357.8 206.0h0M378.4 205.1h0M372.3 200.5h0M378.0 206.1h0M387.0 204.7h0M379.5 181.5h0M390.5 205.8h0M365.6 204.8h0M369.6 150.7h0M349.3 207.4h0M377.1 208.6h0M367.1 207.8h0M380.4 174.8h0M377.4 201.8h0M365.0 206.7h0M394.7 205.4h0M350.4 205.5h0M393.8 208.5h0M407.4 204.8h0M399.2 207.5h0M400.6 205.3h0M378.5 207.5h0M376.2 204.9h0M366.4 207.8h0M394.2 206.4h0M380.0 170.9h0M367.3 205.1h0M384.3 205.6h0M386.3 208.3h0M369.7 207.9h0M384.7 208.4h0M404.7 206.8h0M372.1 181.3h0M371.2 207.3h0M378.6 192.5h0M377.4 199.9h0M381.9 205.4h0M372.9 206.5h0M404.5 206.5h0M367.3 207.1h0M366.3 204.9h0M383.6 204.8h0M360.2 204.4h0M361.5 206.0h0M393.2 205.6h0M366.4 206.2h0M366.4 204.7h0M357.2 204.9h0M398.4 205.8h0M391.3 206.6h0M384.9 208.1h0M388.0 207.8h0M383.3 207.5h0M386.2 205.5h0M365.8 207.2h0M391.2 204.8h0M381.9 205.7h0M394.6 204.5h0M356.9 206.4h0M393.5 204.3h0M364.2 205.1h0M361.6 205.7h0M354.5 207.9h0M355.2 205.7h0M379.5 207.9h0M363.8 206.9h0M374.3 204.6h0M382.1 207.1h0M362.4 208.5h0M372.5 208.1h0M379.2 207.7h0M394.1 204.8h0M369.6 150.9h0M352.4 205.7h0M371.1 205.3h0M388.0 206.1h0M387.5 204.6h0M391.3 204.9h0M371.3 207.1h0M362.3 208.0h0M377.6 207.8h0M362.0 208.3h0M372.2 193.7h0M378.5 195.3h0M365.1 204.3h0M365.7 204.8h0M358.0 204.6h0M350.2 204.9h0M343.9 205.5h0M379.7 207.4h0M396.5 207.7h0M364.0 206.5h0M371.7 204.6h0M371.8 173.6h0M361.0 207.6h0M391.0 206.8h0M373.1 205.9h0M367.2 208.8h0M378.7 206.4h0M383.6 208.0h0M347.5 205.3h0M348.7 206.2h0M377.3 204.8h0M381.8 208.9h0M359.3 206.9h0M374.4 206.5h0M341.7 204.4h0M379.9 206.9h0M354.9 207.6h0M375.4 202.9h0M376.0 208.5h0M386.7 205.2h0M363.8 207.0h0M384.4 206.3h0M392.6 205.8h0M387.7 206.9h0M387.9 207.4h0M379.1 189.8h0M359.4 204.5h0M393.3 206.7h0M382.7 208.3h0M373.0 205.7h0M382.3 204.5h0M369.9 153.6h0M372.2 186.4h0M370.4 159.8h0M350.9 205.8h0M371.2 198.5h0M370.8 179.8h0M360.2 204.4h0M356.4 207.1h0M374.8 206.1h0M328.7 205.3h0M373.5 206.9h0M369.4 204.4h0M369.7 150.7h0M397.4 204.4h0M361.9 206.4h0M371.9 205.8h0M381.3 207.0h0M333.1 205.0h0M387.4 208.8h0M371.0 167.8h0M365.9 205.8h0M359.2 204.9h0M377.1 199.5h0M344.3 205.8h0M384.7 207.0h0M356.2 207.0h0M380.4 192.2h0M381.0 204.4h0M383.9 206.5h0M361.9 204.4h0M343.6 205.7h0M387.0 205.7h0M358.5 206.6h0M380.6 174.9h0M385.0 207.0h0M391.4 208.5h0M381.7 205.4h0M351.9 207.9h0M379.4 188.6h0M360.5 206.0h0M372.4 197.8h0M389.6 207.4h0M381.8 206.0h0M372.5 204.8h0M365.0 205.4h0M346.1 205.6h0M371.1 170.9h0M397.7 207.6h0M360.8 208.0h0M393.4 205.0h0M380.7 208.2h0M373.4 196.2h0M380.5 206.1h0M372.0 204.6h0M380.8 165.0h0M381.9 208.3h0M371.0 204.5h0M379.3 195.0h0M367.1 206.1h0M374.1 205.4h0M381.0 165.8h0M358.9 208.5h0M375.0 205.1h0M376.8 207.1h0M378.0 194.0h0M364.8 204.8h0M380.1 187.5h0M351.6 204.4h0M391.8 205.0h0M370.9 170.6h0M364.0 206.6h0M405.7 206.7h0M394.2 205.3h0M357.4 206.9h0M370.7 184.9h0M384.2 206.2h0M371.1 172.5h0M383.6 208.8h0M366.3 208.4h0M375.3 206.4h0M369.4 205.2h0M357.4 205.6h0M387.6 208.2h0M391.4 206.8h0M363.8 206.3h0M359.5 207.0h0M381.2 157.6h0M381.0 204.7h0M392.9 207.3h0M369.9 153.9h0M370.5 170.0h0M396.4 204.5h0M377.5 206.3h0M374.5 205.3h0M378.7 206.6h0M374.2 207.8h0M378.5 203.8h0M351.1 206.1h0M360.6 205.8h0M378.5 198.7h0M379.8 176.5h0M380.9 166.1h0M375.0 203.4h0M369.7 207.5h0M379.5 208.7h0M376.0 206.8h0M380.5 164.9h0M377.7 207.0h0M379.0 206.6h0M376.6 206.7h0M361.2 204.7h0M371.0 198.9h0M365.7 204.9h0M363.7 205.0h0M380.3 182.9h0M380.7 206.5h0M371.7 185.6h0M376.0 204.4h0M364.4 204.8h0M378.0 204.6h0M353.3 206.7h0M379.0 198.0h0M382.9 208.5h0M333.3 205.9h0M384.4 208.6h0M386.5 206.2h0M366.6 207.5h0M389.3 206.1h0M409.0 206.1h0M363.0 204.9h0M355.6 208.1h0M410.5 207.0h0M353.2 205.7h0M372.8 189.9h0M364.6 205.5h0M354.4 205.7h0M389.1 207.0h0M392.4 205.0h0M372.9 207.0h0M361.4 204.8h0M370.6 161.1h0M391.1 206.3h0M370.8 166.1h0M375.3 203.2h0M371.9 208.8h0M342.9 206.6h0M368.3 208.9h0M361.3 205.4h0M391.4 204.5h0M377.0 199.3h0M337.7 204.6h0M377.9 207.5h0M390.3 205.4h0M354.2 205.0h0M392.9 207.6h0M418.5 205.5h0M375.0 206.2h0M369.0 208.4h0M376.0 208.9h0M367.2 208.6h0M374.2 203.9h0M380.2 177.7h0M348.2 204.6h0M347.1 206.7h0M383.8 205.4h0M375.1 202.9h0M359.0 207.1h0M372.1 207.8h0M381.7 206.7h0M372.8 201.7h0M405.9 207.1h0M362.4 207.3h0M371.8 206.2h0M406.9 206.9h0M393.2 205.4h0M380.3 173.5h0M363.1 208.2h0M387.8 207.5h0M352.9 204.8h0M393.3 205.2h0M382.4 207.1h0M379.5 205.1h0M356.1 206.0h0M370.5 160.9h0M348.9 207.8h0M348.7 206.6h0M394.1 205.7h0M391.3 207.6h0M370.2 156.1h0M358.1 206.6h0M346.0 205.5h0M381.0 187.4h0M392.3 205.8h0M368.6 204.3h0M368.4 206.8h0M381.6 208.6h0M387.8 206.5h0M425.5 205.1h0M332.0 205.8h0M394.3 204.8h0M357.0 206.1h0M354.3 204.9h0M367.8 208.1h0M407.5 205.9h0M347.8 206.0h0M370.9 177.8h0M379.9 179.2h0M344.6 207.4h0M380.9 169.8h0M372.3 203.7h0M392.8 204.7h0M372.7 188.2h0M389.1 207.8h0M374.9 207.1h0M378.7 202.0h0M371.8 193.9h0M381.1 171.1h0M361.5 204.7h0M347.3 204.4h0M355.2 205.0h0M403.0 205.2h0M363.8 207.7h0M376.0 208.0h0M357.9 206.3h0M357.9 206.2h0M372.6 187.2h0M381.0 160.0h0M371.6 177.4h0M389.3 207.1h0M381.0 208.9h0M346.9 205.5h0M350.3 205.2h0M372.1 204.7h0M386.5 205.6h0M375.4 208.0h0M386.6 204.5h0M359.9 206.4h0M353.3 205.7h0M409.0 206.3h0M388.9 206.6h0M369.7 204.5h0M358.9 206.0h0M370.7 206.2h0M363.5 207.3h0M367.4 207.7h0M379.3 201.7h0M358.4 208.3h0M346.5 204.3h0M381.1 208.7h0M367.7 206.4h0M349.6 205.2h0M361.8 208.0h0M370.1 205.8h0M371.9 193.2h0M371.7 207.4h0M365.3 206.0h0M372.4 207.4h0M360.2 205.6h0M376.3 208.0h0M369.7 205.6h0M380.9 162.2h0M371.6 195.7h0M369.3 207.5h0M364.2 204.8h0M358.8 207.8h0M384.7 207.7h0M366.0 208.0h0M374.7 208.2h0M366.0 207.0h0M377.9 204.8h0M380.9 159.8h0M383.4 205.4h0M377.8 197.3h0M358.0 206.0h0M370.9 191.0h0M382.3 206.6h0M381.5 208.5h0M392.1 206.4h0M398.9 207.3h0M365.1 207.3h0M378.7 196.7h0M354.1 205.3h0M391.2 207.3h0M396.4 207.0h0M400.4 205.1h0M356.6 204.8h0M382.8 205.2h0M355.7 206.6h0M397.6 208.2h0M365.9 207.0h0M383.8 206.8h0M386.5 207.1h0M380.8 163.9h0M359.1 208.1h0M380.8 179.7h0M379.3 192.5h0M395.6 206.9h0M370.2 208.9h0M369.9 154.3h0M388.4 208.7h0M336.2 205.1h0M392.1 208.2h0M378.8 206.6h0M376.3 205.9h0M373.6 207.2h0M369.0 207.5h0M398.6 204.7h0M370.4 162.8h0M408.4 205.6h0M384.6 205.8h0M374.6 206.7h0M360.5 207.8h0M372.6 208.9h0M374.9 207.3h0M370.0 154.7h0M391.2 205.4h0M332.7 204.5h0M372.2 205.7h0M383.3 207.3h0M369.6 207.5h0M353.9 207.3h0M406.3 206.4h0M380.8 169.4h0M367.1 205.9h0M381.3 156.4h0M390.0 204.5h0M362.1 205.6h0M379.7 207.6h0M370.7 204.4h0M358.4 205.3h0M350.6 207.3h0M373.8 207.9h0M388.2 206.7h0M378.0 206.9h0M370.9 205.0h0M355.6 207.6h0M378.2 206.1h0M372.3 201.8h0M379.6 176.1h0M372.7 204.8h0M379.4 189.6h0M384.6 208.6h0M337.0 205.0h0M394.8 205.3h0M394.1 207.3h0M355.7 208.1h0M346.1 207.4h0M364.5 206.4h0M380.5 180.1h0M397.8 204.9h0M359.7 207.0h0M366.2 206.0h0M366.8 207.9h0M353.6 204.4h0M369.6 150.4h0M372.2 206.2h0M378.7 206.6h0M417.9 204.5h0M381.1 160.1h0M370.4 206.3h0M372.4 189.0h0M373.5 208.5h0M386.8 208.6h0M370.9 170.8h0M383.5 208.9h0M366.3 205.0h0M381.0 201.0h0M367.9 207.2h0M391.8 208.3h0M401.7 207.9h0M384.7 206.4h0M390.2 205.2h0M366.9 208.6h0M370.7 165.1h0M370.6 186.5h0M377.9 206.7h0M375.1 205.2h0M373.7 208.0h0M355.3 205.4h0M353.9 207.9h0M375.5 207.3h0M346.5 206.5h0M374.1 202.2h0M396.0 206.0h0M370.9 164.9h0M372.1 208.9h0M338.3 205.6h0M374.7 204.8h0M395.2 207.7h0M380.3 175.7h0M405.6 206.1h0M343.4 204.4h0M370.9 199.0h0M350.0 206.0h0M374.8 206.6h0M370.4 170.3h0M387.6 207.3h0M386.4 207.8h0M353.4 206.6h0M392.7 206.0h0M354.5 206.6h0M398.7 207.2h0M359.0 204.7h0M399.3 204.8h0M344.9 204.4h0M362.1 205.0h0M379.6 174.1h0M365.4 207.5h0M358.7 207.3h0M373.6 199.5h0M386.6 208.7h0M381.2 205.0h0M380.4 165.8h0M370.3 208.0h0M348.3 204.8h0M366.5 206.4h0M359.4 208.5h0M382.7 208.1h0M364.7 208.0h0M350.0 207.4h0M373.1 207.2h0M386.4 206.4h0M374.0 208.1h0M341.5 204.9h0M407.2 207.2h0M379.3 181.8h0M369.7 207.0h0M370.6 198.3h0M350.7 206.0h0M371.3 206.9h0M400.0 205.2h0M361.8 205.9h0M391.4 206.0h0M407.5 205.7h0M381.0 160.9h0M380.9 206.8h0M378.9 206.9h0M367.8 207.7h0M406.4 204.4h0M340.7 206.3h0M376.1 205.5h0M370.5 191.9h0M389.5 206.1h0M351.6 205.6h0M345.7 207.6h0M398.5 207.2h0M389.3 207.1h0M387.3 204.9h0M380.8 197.1h0M374.4 199.5h0M373.0 198.3h0M374.2 197.8h0M376.9 205.5h0M379.8 206.2h0M366.7 205.1h0M377.4 205.5h0M380.9 206.1h0M355.5 204.7h0M371.4 177.3h0M346.6 207.0h0M408.8 204.6h0M372.1 205.3h0M402.8 206.7h0M356.4 208.4h0M381.9 205.7h0M383.0 206.4h0M404.8 205.9h0M370.3 158.2h0M370.4 205.5h0M360.4 206.7h0M360.0 207.2h0M358.4 205.4h0M370.3 208.6h0M378.0 208.2h0M344.5 205.3h0M377.3 202.7h0M364.1 204.7h0M370.6 208.0h0M363.1 207.8h0M388.0 208.1h0M399.6 207.0h0M389.5 205.4h0M352.8 206.3h0M346.1 205.8h0M339.1 204.9h0M370.4 158.9h0M355.6 204.7h0M364.7 208.4h0M397.0 205.0h0M373.0 198.5h0M370.8 163.9h0M363.2 206.4h0M370.9 190.0h0M378.0 207.6h0M379.8 182.3h0M357.9 206.8h0M391.1 208.2h0M388.9 205.4h0M371.4 207.4h0M382.2 206.0h0M375.8 205.2h0M377.7 204.9h0M380.9 208.4h0M364.3 207.7h0M352.6 208.0h0M379.6 206.2h0M366.9 208.5h0M384.6 205.3h0M359.8 206.3h0M391.5 208.2h0M353.2 206.7h0M365.8 208.4h0M370.5 177.3h0M331.2 205.1h0M381.1 208.9h0M376.3 208.0h0M371.4 207.7h0M371.3 172.0h0M345.5 207.5h0M346.4 206.5h0M370.7 205.4h0M361.2 206.2h0M378.6 190.1h0M381.9 205.2h0M424.4 205.9h0M380.2 188.3h0M378.5 205.9h0M380.3 205.6h0M380.9 161.2h0M368.3 205.7h0M366.4 204.5h0M368.0 206.4h0M388.3 207.8h0M380.7 201.4h0M323.5 205.4h0M371.5 208.4h0M389.8 207.3h0M334.6 204.3h0M389.4 207.5h0M395.8 208.3h0M357.7 204.6h0M392.0 207.5h0M378.2 194.8h0M379.4 197.2h0M353.3 205.4h0M391.4 204.7h0M383.5 208.9h0M354.2 205.5h0M380.7 205.2h0M377.8 205.6h0M410.0 205.1h0M347.5 205.9h0M371.6 176.3h0M368.1 206.2h0M359.7 207.9h0M342.4 207.0h0M370.3 205.2h0M355.1 204.7h0M384.2 207.1h0M377.5 208.5h0M375.8 204.6h0M372.1 197.6h0M354.4 207.6h0M390.7 207.6h0M368.8 205.5h0M380.3 196.3h0M370.5 206.0h0M368.7 205.1h0M370.2 207.9h0M367.7 206.0h0M370.9 192.1h0M397.8 204.5h0M383.2 207.2h0M367.1 207.0h0M348.7 207.7h0M377.8 198.9h0M351.4 205.2h0M376.7 206.5h0M374.3 204.5h0M389.8 206.5h0M363.8 208.5h0M371.3 184.1h0M375.1 208.9h0M396.5 207.2h0M392.3 205.5h0M359.6 205.9h0M386.0 208.6h0M402.1 205.3h0M363.5 206.3h0M395.7 204.9h0M343.3 206.9h0M328.3 204.8h0M351.9 206.5h0M386.8 206.7h0M386.1 205.0h0M375.1 206.5h0M348.0 207.0h0M380.9 160.2h0M367.1 206.4h0M362.7 205.1h0M371.8 195.7h0M391.6 207.0h0M388.7 207.8h0M371.3 199.0h0M371.8 184.6h0M372.4 188.8h0M372.6 208.1h0M372.9 207.3h0M357.9 205.2h0M370.2 204.7h0M343.9 206.5h0M379.0 206.0h0M370.2 157.7h0M355.3 208.2h0M372.3 203.9h0M372.4 184.4h0M371.0 204.4h0M368.7 206.6h0M376.9 204.7h0M389.1 207.2h0M400.8 204.8h0M371.6 202.7h0M379.0 203.2h0M338.4 205.8h0M360.3 206.8h0M349.2 204.5h0M373.1 191.5h0M371.3 170.5h0M391.9 207.4h0M383.9 208.8h0M366.3 207.6h0M381.7 208.8h0M384.7 208.9h0M378.8 208.7h0M381.1 203.9h0M360.5 206.4h0M395.3 208.4h0M405.3 206.1h0M391.2 205.0h0M382.4 207.2h0M362.8 205.0h0M389.1 204.9h0M353.4 204.7h0M349.2 205.3h0M416.4 205.9h0M380.0 186.6h0M358.7 206.3h0M376.7 206.6h0M376.6 207.8h0M375.7 208.0h0M372.1 205.7h0M378.9 204.6h0M382.3 204.5h0M346.5 204.4h0M365.2 206.6h0M340.6 205.9h0M368.9 206.2h0M361.5 207.3h0M392.3 205.4h0M336.9 206.6h0M396.2 206.4h0M358.2 207.6h0M367.0 207.0h0M368.1 205.6h0M414.5 204.6h0M391.4 206.0h0M385.2 205.4h0M377.1 207.4h0M380.0 173.0h0M382.6 206.6h0M374.5 205.3h0M369.8 206.2h0M370.4 176.3h0M395.5 205.7h0M389.9 207.3h0M372.4 206.7h0M379.4 179.7h0M366.5 205.3h0M375.7 205.3h0M366.6 207.3h0M381.0 186.7h0M372.7 187.9h0M354.0 207.3h0M372.1 177.1h0M366.4 204.5h0M380.6 205.7h0M360.2 207.0h0M353.7 205.5h0M361.3 207.8h0M370.7 204.4h0M378.0 205.6h0M366.2 204.7h0M386.0 206.3h0M372.4 193.8h0M382.4 204.4h0M375.3 207.9h0M380.9 201.3h0M365.9 208.8h0M381.8 208.5h0M398.6 207.6h0M394.3 206.6h0M370.4 159.1h0M390.8 206.9h0M367.5 205.4h0M335.7 204.6h0M331.4 205.9h0M392.4 207.9h0M380.3 167.3h0M379.0 207.1h0M381.1 159.9h0M367.3 205.5h0M389.0 206.4h0M402.2 206.8h0M358.6 205.2h0M350.9 206.5h0M370.8 206.8h0M372.3 179.7h0M362.2 205.2h0M350.8 207.0h0M380.5 194.7h0M396.7 205.7h0M395.5 207.8h0M370.4 205.7h0M371.3 205.3h0M350.7 205.6h0M380.8 207.1h0M369.8 207.9h0M380.8 161.8h0M371.0 180.8h0M388.4 206.9h0M380.1 187.8h0M398.4 205.3h0M398.2 206.9h0M394.3 205.9h0M381.1 157.4h0M347.5 204.6h0M371.3 206.8h0M371.0 165.9h0M386.5 205.1h0M373.4 205.1h0M366.2 206.5h0M365.7 207.5h0M350.2 205.5h0M370.7 206.8h0M369.5 207.1h0M371.1 207.3h0M391.7 208.1h0M359.4 207.4h0M380.0 206.8h0M367.9 206.5h0M373.8 204.5h0M371.4 176.8h0M370.8 203.7h0M364.8 205.3h0M372.2 206.6h0M386.4 205.4h0M381.9 207.1h0M379.7 208.8h0M376.0 204.5h0M335.9 205.7h0M413.1 205.2h0M380.4 206.6h0M359.5 207.3h0M375.2 208.0h0M366.3 204.4h0M379.2 189.6h0M409.5 205.9h0M383.7 206.9h0M345.4 206.6h0M348.8 206.3h0M377.7 205.0h0M376.9 207.6h0M372.4 180.1h0M367.7 204.4h0M367.5 205.9h0M406.0 206.3h0M383.8 208.1h0M381.2 207.9h0M409.1 204.6h0M385.3 206.8h0M380.3 196.7h0M365.8 208.3h0M397.5 207.8h0M351.5 205.5h0M374.5 208.4h0M395.7 206.5h0M395.5 206.8h0M391.7 204.4h0M390.7 205.7h0M344.0 206.9h0M361.0 206.1h0M361.9 208.2h0M373.8 207.1h0M342.9 206.6h0M373.2 192.2h0M388.7 208.5h0M325.3 204.6h0M386.6 205.9h0M371.7 207.3h0M378.7 203.5h0M357.2 206.1h0M365.4 206.3h0M364.0 204.7h0M372.6 207.8h0M351.1 206.3h0M374.6 204.8h0M387.3 206.2h0M396.8 205.7h0M364.3 206.1h0M393.3 204.5h0M373.2 195.7h0M402.2 204.5h0M385.2 204.3h0M411.9 204.7h0M339.8 206.3h0M374.7 208.5h0M360.2 207.3h0M380.5 195.4h0M390.2 205.4h0M378.1 195.2h0M360.7 204.6h0M361.7 206.3h0M378.4 205.9h0M371.0 185.8h0M361.0 205.0h0M379.3 181.6h0M355.3 206.7h0M390.8 207.2h0M398.3 205.9h0M383.8 206.2h0M393.1 204.4h0M348.8 204.5h0M363.1 207.8h0M347.4 205.6h0M364.0 207.0h0M371.1 204.3h0M380.5 172.9h0M329.9 204.5h0M347.5 207.8h0M374.9 208.1h0M370.5 160.1h0M376.4 205.8h0M384.1 206.1h0M385.8 206.3h0M347.3 205.6h0M362.4 205.3h0M343.5 206.8h0M374.9 208.7h0M344.7 207.3h0M382.9 206.1h0M385.8 205.4h0M363.1 207.9h0M346.4 207.3h0M394.4 204.9h0M387.2 206.4h0M363.9 206.1h0M370.5 163.0h0M397.5 206.1h0M346.4 205.3h0M392.0 208.1h0M380.5 206.3h0M376.9 205.5h0M373.4 200.6h0M355.1 207.0h0M372.8 200.8h0M365.1 205.4h0M378.5 207.6h0M399.5 206.1h0M370.6 164.2h0M344.6 204.8h0M372.4 205.7h0M371.3 208.9h0M388.6 208.6h0M349.4 207.0h0M348.4 204.5h0M370.0 207.5h0M372.0 206.2h0M334.8 204.5h0M360.0 207.5h0M373.0 206.3h0M371.9 205.4h0M380.1 206.6h0M393.8 207.8h0M373.2 193.8h0M376.6 203.7h0M374.1 209.0h0M391.6 208.4h0M351.6 208.0h0M367.3 207.1h0M379.2 190.3h0M375.2 207.4h0M408.0 205.5h0M371.9 207.3h0M374.3 205.3h0M367.3 204.4h0M371.4 182.3h0M380.7 162.6h0M366.4 207.2h0M380.8 199.6h0M381.8 206.4h0M392.3 205.0h0M367.5 208.8h0M373.0 189.9h0M370.3 158.5h0M382.9 207.6h0M373.9 207.1h0M388.3 207.5h0M358.5 206.3h0M370.6 168.3h0M373.1 193.6h0M381.0 161.1h0M368.5 204.9h0M353.5 207.3h0M382.0 206.1h0M332.7 204.5h0M382.8 205.8h0M379.4 182.1h0M372.4 191.1h0M380.5 204.6h0M342.1 206.8h0M372.4 204.6h0M363.4 207.1h0M379.5 207.1h0M384.4 208.8h0M429.4 204.3h0M364.1 205.2h0M369.6 206.7h0M357.7 207.6h0M379.8 207.2h0M392.3 204.7h0M379.5 207.6h0M371.4 199.4h0M385.3 207.1h0M380.9 206.9h0M386.9 205.8h0M373.2 205.8h0M380.9 159.4h0M356.0 207.2h0M369.9 154.4h0M355.8 206.6h0M365.8 205.0h0M370.8 164.8h0M363.4 207.7h0M371.5 205.0h0M390.4 204.7h0M357.1 205.7h0M371.7 180.0h0M356.9 204.6h0M384.3 207.5h0M371.4 170.1h0M354.5 207.1h0M369.1 206.2h0M388.8 205.8h0M371.6 185.5h0M343.9 205.3h0M367.5 207.6h0M378.1 195.9h0M373.7 207.9h0M393.2 207.5h0M370.7 207.1h0M379.7 207.0h0M390.3 205.3h0M363.9 205.3h0M362.0 206.5h0M373.4 194.5h0M398.5 207.6h0M374.3 200.5h0M376.2 203.6h0M370.4 166.4h0M371.6 205.2h0M385.5 204.5h0M355.1 205.9h0M369.9 205.2h0M348.4 204.7h0M370.1 208.7h0M377.2 203.3h0M362.9 207.0h0M380.3 192.7h0M401.9 204.5h0M353.8 204.5h0M332.5 204.6h0M335.8 206.2h0M372.7 196.8h0M380.5 208.4h0M357.1 205.3h0M373.4 204.9h0M394.0 206.6h0M373.0 206.6h0M376.5 203.6h0M393.6 208.1h0M389.9 205.0h0M382.9 208.0h0M379.4 208.1h0M386.7 206.9h0M381.4 207.0h0M364.5 208.2h0M390.6 206.8h0M357.0 207.0h0M379.7 204.3h0M391.4 207.4h0M352.9 204.7h0M344.2 207.0h0M366.9 206.0h0M361.0 206.0h0M356.5 205.2h0M343.1 207.0h0M376.8 200.5h0M380.6 206.6h0M410.1 206.5h0M369.8 153.5h0M360.2 208.5h0M370.6 208.5h0M369.3 205.8h0M364.2 204.4h0M343.0 207.3h0M337.1 205.5h0M397.3 206.7h0M364.8 205.5h0M394.0 205.8h0M362.4 204.5h0M362.2 208.0h0M388.6 207.6h0M415.4 204.7h0M345.8 205.0h0M381.6 208.7h0M384.8 207.7h0M370.2 156.9h0M376.5 205.0h0M381.6 207.1h0M357.3 207.4h0M405.2 205.7h0M349.7 204.5h0M376.4 204.4h0M372.6 193.1h0M330.9 205.0h0M381.0 164.1h0M373.4 194.1h0M375.7 208.6h0M405.0 207.5h0M410.4 207.0h0M374.6 207.3h0M382.5 206.2h0M373.1 201.2h0M394.6 206.0h0M371.7 184.0h0M372.0 175.7h0M384.4 207.4h0M342.3 206.6h0M377.0 206.5h0M370.5 181.1h0M372.3 205.4h0M383.2 207.0h0M370.3 204.4h0M369.9 207.0h0M372.3 207.4h0M378.6 207.7h0M361.8 206.4h0M358.1 206.5h0M403.2 207.0h0M373.4 204.7h0M380.6 208.8h0M369.5 150.0h0M390.1 205.3h0M378.5 206.5h0M381.1 157.4h0M398.3 207.7h0M357.8 205.6h0M395.0 205.7h0M361.8 206.0h0M380.6 207.0h0M367.9 206.0h0M363.4 206.1h0M396.8 207.3h0M346.6 206.8h0M380.5 206.8h0M370.4 159.0h0M402.6 205.1h0M373.2 205.3h0M372.5 194.4h0M358.5 204.5h0M379.6 175.1h0M339.5 204.6h0M361.8 205.3h0M379.6 205.2h0M376.2 208.3h0M380.3 206.5h0M349.5 206.7h0M379.2 205.7h0M370.8 179.3h0M363.7 208.5h0M383.1 208.7h0M380.4 173.3h0M374.0 202.8h0M405.8 206.8h0M371.1 194.3h0M368.2 208.4h0M371.8 206.7h0M374.6 208.5h0M370.4 164.5h0M359.3 206.4h0M378.5 208.9h0M370.7 181.3h0M369.3 208.6h0M367.4 207.6h0M331.3 205.0h0M352.0 207.0h0M384.0 207.5h0M370.9 173.8h0M377.4 208.9h0M381.5 206.7h0M375.3 208.7h0M351.6 207.2h0M402.3 205.8h0M402.9 205.4h0M365.5 207.0h0M376.6 208.9h0M365.1 206.1h0M362.5 208.6h0M368.3 204.4h0M381.4 208.0h0M385.3 206.3h0M392.2 208.4h0M354.8 204.9h0M361.1 207.9h0M367.0 207.5h0" stroke="#000000" stroke-width="3.3" stroke-linecap="round" fill="none"/>
<line x1="370.22" y1="86.3" x2="370.22" y2="214.7" stroke="#000" stroke-width="0.8" stroke-dasharray="2.6,1.6" stroke-opacity="0.75"/>
<line x1="381.18" y1="86.3" x2="381.18" y2="214.7" stroke="#000" stroke-width="0.8" stroke-dasharray="2.6,1.6" stroke-opacity="0.75"/>
<line x1="285.4" y1="203.93" x2="465.5" y2="203.93" stroke="#000" stroke-width="0.8" stroke-dasharray="2.6,1.6" stroke-opacity="0.75"/>
<line x1="285.4" y1="86.3" x2="285.4" y2="215.2" stroke="#000" stroke-width="1.1"/>
<line x1="284.9" y1="214.7" x2="465.5" y2="214.7" stroke="#000" stroke-width="1.1"/>
<line x1="282.4" y1="209" x2="285.4" y2="209" stroke="#000" stroke-width="1.1"/>
<text x="278.9" y="212.88" font-size="11.1" fill="#444" text-anchor="end">0</text>
<line x1="282.4" y1="169.97" x2="285.4" y2="169.97" stroke="#000" stroke-width="1.1"/>
<text x="278.9" y="173.85" font-size="11.1" fill="#444" text-anchor="end">10</text>
<line x1="282.4" y1="130.94" x2="285.4" y2="130.94" stroke="#000" stroke-width="1.1"/>
<text x="278.9" y="134.82" font-size="11.1" fill="#444" text-anchor="end">20</text>
<line x1="282.4" y1="91.91" x2="285.4" y2="91.91" stroke="#000" stroke-width="1.1"/>
<text x="278.9" y="95.8" font-size="11.1" fill="#444" text-anchor="end">30</text>
<line x1="320.95" y1="214.7" x2="320.95" y2="217.7" stroke="#000" stroke-width="1.1"/>
<text x="320.95" y="230.38" font-size="11.1" fill="#444" text-anchor="middle">-10</text>
<line x1="375.7" y1="214.7" x2="375.7" y2="217.7" stroke="#000" stroke-width="1.1"/>
<text x="375.7" y="230.38" font-size="11.1" fill="#444" text-anchor="middle">0</text>
<line x1="430.45" y1="214.7" x2="430.45" y2="217.7" stroke="#000" stroke-width="1.1"/>
<text x="430.45" y="230.38" font-size="11.1" fill="#444" text-anchor="middle">10</text>
<text transform="translate(259.3 148.5) rotate(-90)" font-size="11" text-anchor="middle" fill="#000">− Log<tspan font-size="7.7" dy="2.6">10</tspan><tspan dy="-2.6"> </tspan><tspan font-style="italic">P</tspan></text>
<text x="377.1" y="245" font-size="11" text-anchor="middle" fill="#000">Log<tspan font-size="7.7" dy="2.6">2</tspan><tspan dy="-2.6"> fold change</tspan></text>
<text x="465.5" y="256.34" font-size="8.4" fill="#000" text-anchor="end">total = 74764 variables</text>
<text x="548.1" y="17.3" font-size="5.6" fill="#000" text-anchor="middle" font-weight="bold">Color Key</text>
<rect x="534.75" y="20.8" width="2.7" height="33.1" fill="#7474F6"/>
<rect x="537.4" y="20.8" width="4.45" height="33.1" fill="#A0A0FC"/>
<rect x="541.8" y="20.8" width="4.35" height="33.1" fill="#C0C0E0"/>
<rect x="546.1" y="20.8" width="4.05" height="33.1" fill="#DCDCDC"/>
<rect x="550.1" y="20.8" width="5.75" height="33.1" fill="#DCDCC0"/>
<rect x="555.8" y="20.8" width="5.45" height="33.1" fill="#FCFC8C"/>
<rect x="534.75" y="20.8" width="26.8" height="33.1" fill="none" stroke="#555" stroke-width="0.7"/>
<line x1="536.6" y1="53.9" x2="536.6" y2="56.6" stroke="#333" stroke-width="0.6"/>
<line x1="542.3" y1="53.9" x2="542.3" y2="56.6" stroke="#333" stroke-width="0.6"/>
<line x1="548.3" y1="53.9" x2="548.3" y2="56.6" stroke="#333" stroke-width="0.6"/>
<line x1="553.9" y1="53.9" x2="553.9" y2="56.6" stroke="#333" stroke-width="0.6"/>
<line x1="559.7" y1="53.9" x2="559.7" y2="56.6" stroke="#333" stroke-width="0.6"/>
<text x="537" y="64.2" font-size="5.2" fill="#000" text-anchor="middle">-2</text>
<text x="548.5" y="64.2" font-size="5.2" fill="#000" text-anchor="middle">0</text>
<text x="560" y="64.2" font-size="5.2" fill="#000" text-anchor="middle">2</text>
<text x="548.1" y="72" font-size="4.6" fill="#000" text-anchor="middle">Value</text>
<path d="M574.6 80.3V57.9H589.5V80.3 M582.2 57.9V56.7H611.4V60.7 M604 80.3V60.7H618.4V80.3 M596.5 56.7V12H655.6V50.5 M633.3 80.3V56.3H647.9V80.3 M640.7 56.3V50.5H670.1V61.6 M662.6 80.3V61.6H677.1V80.3" fill="none" stroke="#3a3a3a" stroke-width="0.9"/>
<g shape-rendering="crispEdges">
<rect x="567" y="83" width="15" height="1" fill="#eaea88"/>
<rect x="582" y="83" width="15" height="1" fill="#e1e1a8"/>
<rect x="597" y="83" width="14" height="1" fill="#cacad7"/>
<rect x="611" y="83" width="15" height="1" fill="#d8d8c8"/>
<rect x="626" y="83" width="14" height="1" fill="#8989ea"/>
<rect x="640" y="83" width="15" height="1" fill="#c4c4d9"/>
<rect x="655" y="83" width="15" height="1" fill="#7171f2"/>
<rect x="670" y="83" width="15" height="1" fill="#9d9de4"/>
<rect x="567" y="84" width="15" height="1" fill="#eaea87"/>
<rect x="582" y="84" width="15" height="1" fill="#ecec80"/>
<rect x="597" y="84" width="14" height="1" fill="#e0e0ac"/>
<rect x="611" y="84" width="15" height="1" fill="#e7e791"/>
<rect x="626" y="84" width="14" height="1" fill="#9c9ce5"/>
<rect x="640" y="84" width="15" height="1" fill="#a7a7e1"/>
<rect x="655" y="84" width="15" height="1" fill="#9797e6"/>
<rect x="670" y="84" width="15" height="1" fill="#aeaedf"/>
<rect x="567" y="85" width="15" height="2" fill="#dfdfaf"/>
<rect x="582" y="85" width="15" height="2" fill="#e7e791"/>
<rect x="597" y="85" width="14" height="2" fill="#dbdbbd"/>
<rect x="611" y="85" width="15" height="2" fill="#dadabe"/>
<rect x="626" y="85" width="14" height="2" fill="#9999e6"/>
<rect x="640" y="85" width="15" height="2" fill="#d7d7c9"/>
<rect x="655" y="85" width="15" height="2" fill="#9696e7"/>
<rect x="670" y="85" width="15" height="2" fill="#a1a1e3"/>
<rect x="567" y="87" width="15" height="1" fill="#e9e98b"/>
<rect x="582" y="87" width="15" height="1" fill="#e3e39f"/>
<rect x="597" y="87" width="14" height="1" fill="#e9e98a"/>
<rect x="611" y="87" width="15" height="1" fill="#ddddb6"/>
<rect x="626" y="87" width="14" height="1" fill="#9595e7"/>
<rect x="640" y="87" width="15" height="1" fill="#9797e6"/>
<rect x="655" y="87" width="15" height="1" fill="#b3b3de"/>
<rect x="670" y="87" width="15" height="1" fill="#8989ea"/>
<rect x="567" y="88" width="15" height="1" fill="#e9e98b"/>
<rect x="582" y="88" width="15" height="1" fill="#e7e791"/>
<rect x="597" y="88" width="14" height="1" fill="#e1e1a6"/>
<rect x="611" y="88" width="15" height="1" fill="#e2e2a3"/>
<rect x="626" y="88" width="14" height="1" fill="#adade0"/>
<rect x="640" y="88" width="15" height="1" fill="#adade0"/>
<rect x="655" y="88" width="15" height="1" fill="#9797e6"/>
<rect x="670" y="88" width="15" height="1" fill="#9696e7"/>
<rect x="567" y="89" width="15" height="1" fill="#ddddb5"/>
<rect x="582" y="89" width="15" height="1" fill="#e9e98b"/>
<rect x="597" y="89" width="14" height="1" fill="#dbdbbd"/>
<rect x="611" y="89" width="15" height="1" fill="#d6d6cc"/>
<rect x="626" y="89" width="14" height="1" fill="#9a9ae5"/>
<rect x="640" y="89" width="15" height="1" fill="#b6b6dd"/>
<rect x="655" y="89" width="15" height="1" fill="#9a9ae5"/>
<rect x="670" y="89" width="15" height="1" fill="#d7d7c8"/>
<rect x="567" y="90" width="15" height="2" fill="#e7e791"/>
<rect x="582" y="90" width="15" height="2" fill="#ddddb5"/>
<rect x="597" y="90" width="14" height="2" fill="#dadabe"/>
<rect x="611" y="90" width="15" height="2" fill="#cacad7"/>
<rect x="626" y="90" width="14" height="2" fill="#c9c9d7"/>
<rect x="640" y="90" width="15" height="2" fill="#8c8cea"/>
<rect x="655" y="90" width="15" height="2" fill="#a7a7e2"/>
<rect x="670" y="90" width="15" height="2" fill="#7676f0"/>
<rect x="567" y="92" width="15" height="1" fill="#dfdfae"/>
<rect x="582" y="92" width="15" height="1" fill="#c7c7d8"/>
<rect x="597" y="92" width="14" height="1" fill="#e0e0a9"/>
<rect x="611" y="92" width="15" height="1" fill="#d6d6cd"/>
<rect x="626" y="92" width="14" height="1" fill="#9f9fe4"/>
<rect x="640" y="92" width="15" height="1" fill="#d3d3d4"/>
<rect x="655" y="92" width="15" height="1" fill="#a7a7e2"/>
<rect x="670" y="92" width="15" height="1" fill="#a0a0e3"/>
<rect x="567" y="93" width="15" height="2" fill="#dcdcb7"/>
<rect x="582" y="93" width="15" height="2" fill="#e4e49c"/>
<rect x="597" y="93" width="14" height="2" fill="#e7e793"/>
<rect x="611" y="93" width="15" height="2" fill="#e3e3a2"/>
<rect x="626" y="93" width="14" height="2" fill="#9e9ee4"/>
<rect x="640" y="93" width="15" height="2" fill="#9393e8"/>
<rect x="655" y="93" width="15" height="2" fill="#9292e8"/>
<rect x="670" y="93" width="15" height="2" fill="#a7a7e1"/>
<rect x="567" y="95" width="15" height="2" fill="#dedeb0"/>
<rect x="582" y="95" width="15" height="2" fill="#e6e696"/>
<rect x="597" y="95" width="14" height="2" fill="#dedeb0"/>
<rect x="611" y="95" width="15" height="2" fill="#e3e3a0"/>
<rect x="626" y="95" width="14" height="2" fill="#a9a9e1"/>
<rect x="640" y="95" width="15" height="2" fill="#adade0"/>
<rect x="655" y="95" width="15" height="2" fill="#7070f2"/>
<rect x="670" y="95" width="15" height="2" fill="#7070f2"/>
<rect x="567" y="97" width="15" height="1" fill="#e0e0ab"/>
<rect x="582" y="97" width="15" height="1" fill="#d8d8c6"/>
<rect x="597" y="97" width="14" height="1" fill="#d4d4d3"/>
<rect x="611" y="97" width="15" height="1" fill="#e9e98c"/>
<rect x="626" y="97" width="14" height="1" fill="#ababe0"/>
<rect x="640" y="97" width="15" height="1" fill="#a2a2e3"/>
<rect x="655" y="97" width="15" height="1" fill="#a6a6e2"/>
<rect x="670" y="97" width="15" height="1" fill="#9595e7"/>
<rect x="567" y="98" width="15" height="2" fill="#eaea86"/>
<rect x="582" y="98" width="15" height="2" fill="#e7e794"/>
<rect x="597" y="98" width="14" height="2" fill="#dfdfac"/>
<rect x="611" y="98" width="15" height="2" fill="#d8d8c5"/>
<rect x="626" y="98" width="14" height="2" fill="#9f9fe4"/>
<rect x="640" y="98" width="15" height="2" fill="#7373f1"/>
<rect x="655" y="98" width="15" height="2" fill="#7b7bef"/>
<rect x="670" y="98" width="15" height="2" fill="#8181ed"/>
<rect x="567" y="100" width="15" height="1" fill="#ebeb86"/>
<rect x="582" y="100" width="15" height="1" fill="#efef78"/>
<rect x="597" y="100" width="14" height="1" fill="#e3e3a2"/>
<rect x="611" y="100" width="15" height="1" fill="#e9e98b"/>
<rect x="626" y="100" width="14" height="1" fill="#cacad7"/>
<rect x="640" y="100" width="15" height="1" fill="#9d9de5"/>
<rect x="655" y="100" width="15" height="1" fill="#8787eb"/>
<rect x="670" y="100" width="15" height="1" fill="#7070f2"/>
<rect x="567" y="101" width="15" height="2" fill="#e1e1a7"/>
<rect x="582" y="101" width="15" height="2" fill="#ddddb6"/>
<rect x="597" y="101" width="14" height="2" fill="#dcdcba"/>
<rect x="611" y="101" width="15" height="2" fill="#e3e39e"/>
<rect x="626" y="101" width="14" height="2" fill="#b4b4de"/>
<rect x="640" y="101" width="15" height="2" fill="#c2c2d9"/>
<rect x="655" y="101" width="15" height="2" fill="#d5d5d0"/>
<rect x="670" y="101" width="15" height="2" fill="#9b9be5"/>
<rect x="567" y="103" width="15" height="2" fill="#e2e2a3"/>
<rect x="582" y="103" width="15" height="2" fill="#efef78"/>
<rect x="597" y="103" width="14" height="2" fill="#ebeb83"/>
<rect x="611" y="103" width="15" height="2" fill="#d8d8c5"/>
<rect x="626" y="103" width="14" height="2" fill="#8f8fe9"/>
<rect x="640" y="103" width="15" height="2" fill="#9393e8"/>
<rect x="655" y="103" width="15" height="2" fill="#8585ec"/>
<rect x="670" y="103" width="15" height="2" fill="#9393e7"/>
<rect x="567" y="105" width="15" height="1" fill="#dadabf"/>
<rect x="582" y="105" width="15" height="1" fill="#d9d9c3"/>
<rect x="597" y="105" width="14" height="1" fill="#d4d4d2"/>
<rect x="611" y="105" width="15" height="1" fill="#e3e39e"/>
<rect x="626" y="105" width="14" height="1" fill="#a4a4e2"/>
<rect x="640" y="105" width="15" height="1" fill="#d0d0d5"/>
<rect x="655" y="105" width="15" height="1" fill="#a2a2e3"/>
<rect x="670" y="105" width="15" height="1" fill="#7f7fee"/>
<rect x="567" y="106" width="15" height="1" fill="#e3e39e"/>
<rect x="582" y="106" width="15" height="1" fill="#efef78"/>
<rect x="597" y="106" width="14" height="1" fill="#eeee7a"/>
<rect x="611" y="106" width="15" height="1" fill="#cfcfd5"/>
<rect x="626" y="106" width="14" height="1" fill="#a1a1e3"/>
<rect x="640" y="106" width="15" height="1" fill="#9b9be5"/>
<rect x="655" y="106" width="15" height="1" fill="#a0a0e4"/>
<rect x="670" y="106" width="15" height="1" fill="#8e8ee9"/>
<rect x="567" y="107" width="15" height="2" fill="#e8e88f"/>
<rect x="582" y="107" width="15" height="2" fill="#e2e2a2"/>
<rect x="597" y="107" width="14" height="2" fill="#dadabf"/>
<rect x="611" y="107" width="15" height="2" fill="#d6d6cc"/>
<rect x="626" y="107" width="14" height="2" fill="#a3a3e3"/>
<rect x="640" y="107" width="15" height="2" fill="#8e8ee9"/>
<rect x="655" y="107" width="15" height="2" fill="#a7a7e1"/>
<rect x="670" y="107" width="15" height="2" fill="#7070f2"/>
<rect x="567" y="109" width="15" height="2" fill="#e3e3a1"/>
<rect x="582" y="109" width="15" height="2" fill="#e2e2a5"/>
<rect x="597" y="109" width="14" height="2" fill="#e0e0ab"/>
<rect x="611" y="109" width="15" height="2" fill="#e0e0ac"/>
<rect x="626" y="109" width="14" height="2" fill="#a8a8e1"/>
<rect x="640" y="109" width="15" height="2" fill="#9494e7"/>
<rect x="655" y="109" width="15" height="2" fill="#c3c3d9"/>
<rect x="670" y="109" width="15" height="2" fill="#a3a3e3"/>
<rect x="567" y="111" width="15" height="2" fill="#e3e39e"/>
<rect x="582" y="111" width="15" height="2" fill="#e2e2a2"/>
<rect x="597" y="111" width="14" height="2" fill="#e1e1a5"/>
<rect x="611" y="111" width="15" height="2" fill="#d4d4d3"/>
<rect x="626" y="111" width="14" height="2" fill="#9191e8"/>
<rect x="640" y="111" width="15" height="2" fill="#9292e8"/>
<rect x="655" y="111" width="15" height="2" fill="#7373f1"/>
<rect x="670" y="111" width="15" height="2" fill="#7b7bef"/>
<rect x="567" y="113" width="15" height="2" fill="#f2f26c"/>
<rect x="582" y="113" width="15" height="2" fill="#e8e88e"/>
<rect x="597" y="113" width="14" height="2" fill="#e7e793"/>
<rect x="611" y="113" width="15" height="2" fill="#d8d8c4"/>
<rect x="626" y="113" width="14" height="2" fill="#9b9be5"/>
<rect x="640" y="113" width="15" height="2" fill="#b1b1df"/>
<rect x="655" y="113" width="15" height="2" fill="#8a8aea"/>
<rect x="670" y="113" width="15" height="2" fill="#9292e8"/>
<rect x="567" y="115" width="15" height="1" fill="#d1d1d5"/>
<rect x="582" y="115" width="15" height="1" fill="#d9d9c1"/>
<rect x="597" y="115" width="14" height="1" fill="#dcdcb9"/>
<rect x="611" y="115" width="15" height="1" fill="#dbdbba"/>
<rect x="626" y="115" width="14" height="1" fill="#a3a3e3"/>
<rect x="640" y="115" width="15" height="1" fill="#d8d8c6"/>
<rect x="655" y="115" width="15" height="1" fill="#d9d9c2"/>
<rect x="670" y="115" width="15" height="1" fill="#e2e2a4"/>
<rect x="567" y="116" width="15" height="2" fill="#9090e8"/>
<rect x="582" y="116" width="15" height="2" fill="#adade0"/>
<rect x="597" y="116" width="14" height="2" fill="#d8d8c7"/>
<rect x="611" y="116" width="15" height="2" fill="#ccccd6"/>
<rect x="626" y="116" width="14" height="2" fill="#d3d3d4"/>
<rect x="640" y="116" width="15" height="2" fill="#dadabe"/>
<rect x="655" y="116" width="15" height="2" fill="#ecec82"/>
<rect x="670" y="116" width="15" height="2" fill="#eeee7a"/>
<rect x="567" y="118" width="15" height="1" fill="#b1b1df"/>
<rect x="582" y="118" width="15" height="1" fill="#8e8ee9"/>
<rect x="597" y="118" width="14" height="1" fill="#9090e8"/>
<rect x="611" y="118" width="15" height="1" fill="#b2b2de"/>
<rect x="626" y="118" width="14" height="1" fill="#ababe0"/>
<rect x="640" y="118" width="15" height="1" fill="#e0e0a9"/>
<rect x="655" y="118" width="15" height="1" fill="#e8e88e"/>
<rect x="670" y="118" width="15" height="1" fill="#f0f073"/>
<rect x="567" y="119" width="15" height="1" fill="#c1c1da"/>
<rect x="582" y="119" width="15" height="1" fill="#9e9ee4"/>
<rect x="597" y="119" width="14" height="1" fill="#9d9de4"/>
<rect x="611" y="119" width="15" height="1" fill="#cdcdd6"/>
<rect x="626" y="119" width="14" height="1" fill="#dadabe"/>
<rect x="640" y="119" width="15" height="1" fill="#afafdf"/>
<rect x="655" y="119" width="15" height="1" fill="#dbdbbb"/>
<rect x="670" y="119" width="15" height="1" fill="#ecec81"/>
<rect x="567" y="120" width="15" height="1" fill="#afafdf"/>
<rect x="582" y="120" width="15" height="1" fill="#8181ed"/>
<rect x="597" y="120" width="14" height="1" fill="#9494e7"/>
<rect x="611" y="120" width="15" height="1" fill="#bbbbdc"/>
<rect x="626" y="120" width="14" height="1" fill="#dedeb0"/>
<rect x="640" y="120" width="15" height="1" fill="#d9d9c2"/>
<rect x="655" y="120" width="15" height="1" fill="#dfdfae"/>
<rect x="670" y="120" width="15" height="1" fill="#f2f26c"/>
<rect x="567" y="121" width="15" height="1" fill="#b6b6dd"/>
<rect x="582" y="121" width="15" height="1" fill="#a9a9e1"/>
<rect x="597" y="121" width="14" height="1" fill="#bdbddb"/>
<rect x="611" y="121" width="15" height="1" fill="#c8c8d8"/>
<rect x="626" y="121" width="14" height="1" fill="#d4d4d4"/>
<rect x="640" y="121" width="15" height="1" fill="#eded7f"/>
<rect x="655" y="121" width="15" height="1" fill="#e1e1a8"/>
<rect x="670" y="121" width="15" height="1" fill="#dfdfad"/>
<rect x="567" y="122" width="15" height="1" fill="#8787eb"/>
<rect x="582" y="122" width="15" height="1" fill="#a4a4e2"/>
<rect x="597" y="122" width="14" height="1" fill="#8888eb"/>
<rect x="611" y="122" width="15" height="1" fill="#dcdcb8"/>
<rect x="626" y="122" width="14" height="1" fill="#c6c6d8"/>
<rect x="640" y="122" width="15" height="1" fill="#dedeb2"/>
<rect x="655" y="122" width="15" height="1" fill="#e2e2a4"/>
<rect x="670" y="122" width="15" height="1" fill="#e5e598"/>
<rect x="567" y="123" width="15" height="1" fill="#9292e8"/>
<rect x="582" y="123" width="15" height="1" fill="#a6a6e2"/>
<rect x="597" y="123" width="14" height="1" fill="#9f9fe4"/>
<rect x="611" y="123" width="15" height="1" fill="#8d8de9"/>
<rect x="626" y="123" width="14" height="1" fill="#dfdfaf"/>
<rect x="640" y="123" width="15" height="1" fill="#dbdbbb"/>
<rect x="655" y="123" width="15" height="1" fill="#e7e794"/>
<rect x="670" y="123" width="15" height="1" fill="#e6e696"/>
<rect x="567" y="124" width="15" height="1" fill="#9b9be5"/>
<rect x="582" y="124" width="15" height="1" fill="#aeaee0"/>
<rect x="597" y="124" width="14" height="1" fill="#b6b6dd"/>
<rect x="611" y="124" width="15" height="1" fill="#a8a8e1"/>
<rect x="626" y="124" width="14" height="1" fill="#cacad7"/>
<rect x="640" y="124" width="15" height="1" fill="#d9d9c2"/>
<rect x="655" y="124" width="15" height="1" fill="#e1e1a8"/>
<rect x="670" y="124" width="15" height="1" fill="#dedeb1"/>
<rect x="567" y="125" width="15" height="2" fill="#9999e6"/>
<rect x="582" y="125" width="15" height="2" fill="#adade0"/>
<rect x="597" y="125" width="14" height="2" fill="#afafdf"/>
<rect x="611" y="125" width="15" height="2" fill="#9f9fe4"/>
<rect x="626" y="125" width="14" height="2" fill="#c0c0da"/>
<rect x="640" y="125" width="15" height="2" fill="#dfdfaf"/>
<rect x="655" y="125" width="15" height="2" fill="#e5e598"/>
<rect x="670" y="125" width="15" height="2" fill="#e0e0ab"/>
<rect x="567" y="127" width="15" height="2" fill="#8d8de9"/>
<rect x="582" y="127" width="15" height="2" fill="#9191e8"/>
<rect x="597" y="127" width="14" height="2" fill="#9797e6"/>
<rect x="611" y="127" width="15" height="2" fill="#babadc"/>
<rect x="626" y="127" width="14" height="2" fill="#e9e98c"/>
<rect x="640" y="127" width="15" height="2" fill="#dadac0"/>
<rect x="655" y="127" width="15" height="2" fill="#e9e98c"/>
<rect x="670" y="127" width="15" height="2" fill="#e9e98c"/>
<rect x="567" y="129" width="15" height="2" fill="#7979ef"/>
<rect x="582" y="129" width="15" height="2" fill="#8484ec"/>
<rect x="597" y="129" width="14" height="2" fill="#7070f2"/>
<rect x="611" y="129" width="15" height="2" fill="#8888eb"/>
<rect x="626" y="129" width="14" height="2" fill="#bebeda"/>
<rect x="640" y="129" width="15" height="2" fill="#e4e49b"/>
<rect x="655" y="129" width="15" height="2" fill="#e1e1a8"/>
<rect x="670" y="129" width="15" height="2" fill="#e2e2a2"/>
<rect x="567" y="131" width="15" height="1" fill="#8181ed"/>
<rect x="582" y="131" width="15" height="1" fill="#b5b5dd"/>
<rect x="597" y="131" width="14" height="1" fill="#aeaedf"/>
<rect x="611" y="131" width="15" height="1" fill="#b8b8dc"/>
<rect x="626" y="131" width="14" height="1" fill="#d6d6cb"/>
<rect x="640" y="131" width="15" height="1" fill="#cacad7"/>
<rect x="655" y="131" width="15" height="1" fill="#dedeb2"/>
<rect x="670" y="131" width="15" height="1" fill="#dbdbba"/>
<rect x="567" y="132" width="15" height="1" fill="#adade0"/>
<rect x="582" y="132" width="15" height="1" fill="#7d7dee"/>
<rect x="597" y="132" width="14" height="1" fill="#9393e8"/>
<rect x="611" y="132" width="15" height="1" fill="#9c9ce5"/>
<rect x="626" y="132" width="14" height="1" fill="#dedeb0"/>
<rect x="640" y="132" width="15" height="1" fill="#d5d5d2"/>
<rect x="655" y="132" width="15" height="1" fill="#e2e2a5"/>
<rect x="670" y="132" width="15" height="1" fill="#eded7e"/>
<rect x="567" y="133" width="15" height="2" fill="#a2a2e3"/>
<rect x="582" y="133" width="15" height="2" fill="#a1a1e3"/>
<rect x="597" y="133" width="14" height="2" fill="#b4b4dd"/>
<rect x="611" y="133" width="15" height="2" fill="#9f9fe4"/>
<rect x="626" y="133" width="14" height="2" fill="#d7d7ca"/>
<rect x="640" y="133" width="15" height="2" fill="#e1e1a9"/>
<rect x="655" y="133" width="15" height="2" fill="#e0e0a9"/>
<rect x="670" y="133" width="15" height="2" fill="#ecec82"/>
<rect x="567" y="135" width="15" height="1" fill="#8b8bea"/>
<rect x="582" y="135" width="15" height="1" fill="#7777f0"/>
<rect x="597" y="135" width="14" height="1" fill="#7070f2"/>
<rect x="611" y="135" width="15" height="1" fill="#a3a3e3"/>
<rect x="626" y="135" width="14" height="1" fill="#d6d6cd"/>
<rect x="640" y="135" width="15" height="1" fill="#dbdbbb"/>
<rect x="655" y="135" width="15" height="1" fill="#f2f26c"/>
<rect x="670" y="135" width="15" height="1" fill="#eded7d"/>
<rect x="567" y="136" width="15" height="1" fill="#9696e7"/>
<rect x="582" y="136" width="15" height="1" fill="#8d8de9"/>
<rect x="597" y="136" width="14" height="1" fill="#a0a0e4"/>
<rect x="611" y="136" width="15" height="1" fill="#bfbfda"/>
<rect x="626" y="136" width="14" height="1" fill="#d5d5cf"/>
<rect x="640" y="136" width="15" height="1" fill="#d7d7ca"/>
<rect x="655" y="136" width="15" height="1" fill="#e8e88f"/>
<rect x="670" y="136" width="15" height="1" fill="#f2f26c"/>
<rect x="567" y="137" width="15" height="1" fill="#7070f2"/>
<rect x="582" y="137" width="15" height="1" fill="#b2b2de"/>
<rect x="597" y="137" width="14" height="1" fill="#b7b7dd"/>
<rect x="611" y="137" width="15" height="1" fill="#9d9de4"/>
<rect x="626" y="137" width="14" height="1" fill="#e2e2a2"/>
<rect x="640" y="137" width="15" height="1" fill="#bbbbdb"/>
<rect x="655" y="137" width="15" height="1" fill="#e8e890"/>
<rect x="670" y="137" width="15" height="1" fill="#e4e49d"/>
<rect x="567" y="138" width="15" height="2" fill="#9292e8"/>
<rect x="582" y="138" width="15" height="2" fill="#bdbddb"/>
<rect x="597" y="138" width="14" height="2" fill="#9797e6"/>
<rect x="611" y="138" width="15" height="2" fill="#9595e7"/>
<rect x="626" y="138" width="14" height="2" fill="#e3e3a0"/>
<rect x="640" y="138" width="15" height="2" fill="#dcdcb9"/>
<rect x="655" y="138" width="15" height="2" fill="#e8e88f"/>
<rect x="670" y="138" width="15" height="2" fill="#e9e98a"/>
<rect x="567" y="140" width="15" height="1" fill="#c7c7d8"/>
<rect x="582" y="140" width="15" height="1" fill="#9393e8"/>
<rect x="597" y="140" width="14" height="1" fill="#a1a1e3"/>
<rect x="611" y="140" width="15" height="1" fill="#acace0"/>
<rect x="626" y="140" width="14" height="1" fill="#e1e1a7"/>
<rect x="640" y="140" width="15" height="1" fill="#dedeb1"/>
<rect x="655" y="140" width="15" height="1" fill="#e2e2a4"/>
<rect x="670" y="140" width="15" height="1" fill="#e3e39f"/>
<rect x="567" y="141" width="15" height="1" fill="#a3a3e3"/>
<rect x="582" y="141" width="15" height="1" fill="#a9a9e1"/>
<rect x="597" y="141" width="14" height="1" fill="#c2c2d9"/>
<rect x="611" y="141" width="15" height="1" fill="#9f9fe4"/>
<rect x="626" y="141" width="14" height="1" fill="#c4c4d9"/>
<rect x="640" y="141" width="15" height="1" fill="#ddddb5"/>
<rect x="655" y="141" width="15" height="1" fill="#c8c8d8"/>
<rect x="670" y="141" width="15" height="1" fill="#e7e793"/>
<rect x="567" y="142" width="15" height="1" fill="#9797e6"/>
<rect x="582" y="142" width="15" height="1" fill="#9e9ee4"/>
<rect x="597" y="142" width="14" height="1" fill="#9999e6"/>
<rect x="611" y="142" width="15" height="1" fill="#cdcdd6"/>
<rect x="626" y="142" width="14" height="1" fill="#e9e98a"/>
<rect x="640" y="142" width="15" height="1" fill="#dcdcb7"/>
<rect x="655" y="142" width="15" height="1" fill="#e2e2a3"/>
<rect x="670" y="142" width="15" height="1" fill="#f2f26c"/>
<rect x="567" y="143" width="15" height="2" fill="#7c7cee"/>
<rect x="582" y="143" width="15" height="2" fill="#9191e8"/>
<rect x="597" y="143" width="14" height="2" fill="#8b8bea"/>
<rect x="611" y="143" width="15" height="2" fill="#8383ec"/>
<rect x="626" y="143" width="14" height="2" fill="#e2e2a3"/>
<rect x="640" y="143" width="15" height="2" fill="#dedeb2"/>
<rect x="655" y="143" width="15" height="2" fill="#f2f26c"/>
<rect x="670" y="143" width="15" height="2" fill="#e6e697"/>
<rect x="567" y="145" width="15" height="2" fill="#a9a9e1"/>
<rect x="582" y="145" width="15" height="2" fill="#b5b5dd"/>
<rect x="597" y="145" width="14" height="2" fill="#8686eb"/>
<rect x="611" y="145" width="15" height="2" fill="#b6b6dd"/>
<rect x="626" y="145" width="14" height="2" fill="#cdcdd6"/>
<rect x="640" y="145" width="15" height="2" fill="#e3e3a1"/>
<rect x="655" y="145" width="15" height="2" fill="#dedeb0"/>
<rect x="670" y="145" width="15" height="2" fill="#ddddb6"/>
<rect x="567" y="147" width="15" height="2" fill="#a7a7e1"/>
<rect x="582" y="147" width="15" height="2" fill="#aeaedf"/>
<rect x="597" y="147" width="14" height="2" fill="#b8b8dc"/>
<rect x="611" y="147" width="15" height="2" fill="#b3b3de"/>
<rect x="626" y="147" width="14" height="2" fill="#dcdcb9"/>
<rect x="640" y="147" width="15" height="2" fill="#e5e59a"/>
<rect x="655" y="147" width="15" height="2" fill="#efef76"/>
<rect x="670" y="147" width="15" height="2" fill="#e0e0ab"/>
<rect x="567" y="149" width="15" height="1" fill="#9393e7"/>
<rect x="582" y="149" width="15" height="1" fill="#b0b0df"/>
<rect x="597" y="149" width="14" height="1" fill="#8282ed"/>
<rect x="611" y="149" width="15" height="1" fill="#8686eb"/>
<rect x="626" y="149" width="14" height="1" fill="#e2e2a5"/>
<rect x="640" y="149" width="15" height="1" fill="#e5e599"/>
<rect x="655" y="149" width="15" height="1" fill="#ecec80"/>
<rect x="670" y="149" width="15" height="1" fill="#eded7e"/>
<rect x="567" y="150" width="15" height="1" fill="#a9a9e1"/>
<rect x="582" y="150" width="15" height="1" fill="#8484ec"/>
<rect x="597" y="150" width="14" height="1" fill="#8f8fe9"/>
<rect x="611" y="150" width="15" height="1" fill="#9e9ee4"/>
<rect x="626" y="150" width="14" height="1" fill="#e3e3a2"/>
<rect x="640" y="150" width="15" height="1" fill="#d5d5d0"/>
<rect x="655" y="150" width="15" height="1" fill="#e8e88f"/>
<rect x="670" y="150" width="15" height="1" fill="#e6e694"/>
<rect x="567" y="151" width="15" height="1" fill="#c8c8d8"/>
<rect x="582" y="151" width="15" height="1" fill="#a4a4e2"/>
<rect x="597" y="151" width="14" height="1" fill="#b2b2de"/>
<rect x="611" y="151" width="15" height="1" fill="#cdcdd6"/>
<rect x="626" y="151" width="14" height="1" fill="#dadabf"/>
<rect x="640" y="151" width="15" height="1" fill="#dfdfaf"/>
<rect x="655" y="151" width="15" height="1" fill="#e1e1a8"/>
<rect x="670" y="151" width="15" height="1" fill="#e5e599"/>
<rect x="567" y="152" width="15" height="1" fill="#9292e8"/>
<rect x="582" y="152" width="15" height="1" fill="#8383ec"/>
<rect x="597" y="152" width="14" height="1" fill="#b2b2de"/>
<rect x="611" y="152" width="15" height="1" fill="#bfbfda"/>
<rect x="626" y="152" width="14" height="1" fill="#dfdfaf"/>
<rect x="640" y="152" width="15" height="1" fill="#ddddb5"/>
<rect x="655" y="152" width="15" height="1" fill="#ebeb84"/>
<rect x="670" y="152" width="15" height="1" fill="#e7e791"/>
<rect x="567" y="153" width="15" height="2" fill="#b2b2de"/>
<rect x="582" y="153" width="15" height="2" fill="#9090e8"/>
<rect x="597" y="153" width="14" height="2" fill="#ababe0"/>
<rect x="611" y="153" width="15" height="2" fill="#aaaae1"/>
<rect x="626" y="153" width="14" height="2" fill="#c1c1da"/>
<rect x="640" y="153" width="15" height="2" fill="#e0e0ab"/>
<rect x="655" y="153" width="15" height="2" fill="#eaea88"/>
<rect x="670" y="153" width="15" height="2" fill="#dcdcb8"/>
<rect x="567" y="155" width="15" height="2" fill="#9090e8"/>
<rect x="582" y="155" width="15" height="2" fill="#9898e6"/>
<rect x="597" y="155" width="14" height="2" fill="#b1b1df"/>
<rect x="611" y="155" width="15" height="2" fill="#d5d5d0"/>
<rect x="626" y="155" width="14" height="2" fill="#b8b8dc"/>
<rect x="640" y="155" width="15" height="2" fill="#dcdcb7"/>
<rect x="655" y="155" width="15" height="2" fill="#e2e2a3"/>
<rect x="670" y="155" width="15" height="2" fill="#e2e2a3"/>
<rect x="567" y="157" width="15" height="2" fill="#9090e8"/>
<rect x="582" y="157" width="15" height="2" fill="#8e8ee9"/>
<rect x="597" y="157" width="14" height="2" fill="#a0a0e3"/>
<rect x="611" y="157" width="15" height="2" fill="#cfcfd5"/>
<rect x="626" y="157" width="14" height="2" fill="#e6e695"/>
<rect x="640" y="157" width="15" height="2" fill="#c7c7d8"/>
<rect x="655" y="157" width="15" height="2" fill="#ebeb85"/>
<rect x="670" y="157" width="15" height="2" fill="#eeee78"/>
<rect x="567" y="159" width="15" height="1" fill="#7070f2"/>
<rect x="582" y="159" width="15" height="1" fill="#9e9ee4"/>
<rect x="597" y="159" width="14" height="1" fill="#cdcdd6"/>
<rect x="611" y="159" width="15" height="1" fill="#b5b5dd"/>
<rect x="626" y="159" width="14" height="1" fill="#d1d1d5"/>
<rect x="640" y="159" width="15" height="1" fill="#e3e3a1"/>
<rect x="655" y="159" width="15" height="1" fill="#f2f26c"/>
<rect x="670" y="159" width="15" height="1" fill="#dadac0"/>
<rect x="567" y="160" width="15" height="1" fill="#b3b3de"/>
<rect x="582" y="160" width="15" height="1" fill="#8282ed"/>
<rect x="597" y="160" width="14" height="1" fill="#afafdf"/>
<rect x="611" y="160" width="15" height="1" fill="#b8b8dc"/>
<rect x="626" y="160" width="14" height="1" fill="#e1e1a6"/>
<rect x="640" y="160" width="15" height="1" fill="#e7e792"/>
<rect x="655" y="160" width="15" height="1" fill="#eeee7a"/>
<rect x="670" y="160" width="15" height="1" fill="#f0f072"/>
<rect x="567" y="161" width="15" height="2" fill="#9e9ee4"/>
<rect x="582" y="161" width="15" height="2" fill="#8282ec"/>
<rect x="597" y="161" width="14" height="2" fill="#9292e8"/>
<rect x="611" y="161" width="15" height="2" fill="#b8b8dd"/>
<rect x="626" y="161" width="14" height="2" fill="#c6c6d8"/>
<rect x="640" y="161" width="15" height="2" fill="#e3e3a1"/>
<rect x="655" y="161" width="15" height="2" fill="#e1e1a7"/>
<rect x="670" y="161" width="15" height="2" fill="#e4e49d"/>
<rect x="567" y="163" width="15" height="1" fill="#8b8bea"/>
<rect x="582" y="163" width="15" height="1" fill="#7070f2"/>
<rect x="597" y="163" width="14" height="1" fill="#aaaae1"/>
<rect x="611" y="163" width="15" height="1" fill="#a5a5e2"/>
<rect x="626" y="163" width="14" height="1" fill="#e3e3a1"/>
<rect x="640" y="163" width="15" height="1" fill="#dfdfad"/>
<rect x="655" y="163" width="15" height="1" fill="#ecec82"/>
<rect x="670" y="163" width="15" height="1" fill="#eaea88"/>
<rect x="567" y="164" width="15" height="1" fill="#c2c2d9"/>
<rect x="582" y="164" width="15" height="1" fill="#c6c6d8"/>
<rect x="597" y="164" width="14" height="1" fill="#8c8cea"/>
<rect x="611" y="164" width="15" height="1" fill="#c0c0da"/>
<rect x="626" y="164" width="14" height="1" fill="#dedeb0"/>
<rect x="640" y="164" width="15" height="1" fill="#a9a9e1"/>
<rect x="655" y="164" width="15" height="1" fill="#dfdfae"/>
<rect x="670" y="164" width="15" height="1" fill="#dcdcb8"/>
<rect x="567" y="165" width="15" height="1" fill="#9696e6"/>
<rect x="582" y="165" width="15" height="1" fill="#a7a7e2"/>
<rect x="597" y="165" width="14" height="1" fill="#b6b6dd"/>
<rect x="611" y="165" width="15" height="1" fill="#a2a2e3"/>
<rect x="626" y="165" width="14" height="1" fill="#dfdfac"/>
<rect x="640" y="165" width="15" height="1" fill="#d9d9c4"/>
<rect x="655" y="165" width="15" height="1" fill="#eaea89"/>
<rect x="670" y="165" width="15" height="1" fill="#e6e696"/>
<rect x="567" y="166" width="15" height="1" fill="#9090e8"/>
<rect x="582" y="166" width="15" height="1" fill="#8888eb"/>
<rect x="597" y="166" width="14" height="1" fill="#9595e7"/>
<rect x="611" y="166" width="15" height="1" fill="#a8a8e1"/>
<rect x="626" y="166" width="14" height="1" fill="#dfdfaf"/>
<rect x="640" y="166" width="15" height="1" fill="#cbcbd7"/>
<rect x="655" y="166" width="15" height="1" fill="#efef76"/>
<rect x="670" y="166" width="15" height="1" fill="#dfdfad"/>
<rect x="567" y="167" width="15" height="2" fill="#a6a6e2"/>
<rect x="582" y="167" width="15" height="2" fill="#aeaedf"/>
<rect x="597" y="167" width="14" height="2" fill="#8888eb"/>
<rect x="611" y="167" width="15" height="2" fill="#a4a4e2"/>
<rect x="626" y="167" width="14" height="2" fill="#e2e2a3"/>
<rect x="640" y="167" width="15" height="2" fill="#e3e3a0"/>
<rect x="655" y="167" width="15" height="2" fill="#ecec80"/>
<rect x="670" y="167" width="15" height="2" fill="#e4e49d"/>
<rect x="567" y="169" width="15" height="1" fill="#9e9ee4"/>
<rect x="582" y="169" width="15" height="1" fill="#7e7eee"/>
<rect x="597" y="169" width="14" height="1" fill="#a8a8e1"/>
<rect x="611" y="169" width="15" height="1" fill="#a9a9e1"/>
<rect x="626" y="169" width="14" height="1" fill="#e3e39f"/>
<rect x="640" y="169" width="15" height="1" fill="#e4e49c"/>
<rect x="655" y="169" width="15" height="1" fill="#f2f26c"/>
<rect x="670" y="169" width="15" height="1" fill="#d8d8c4"/>
<rect x="567" y="170" width="15" height="1" fill="#9696e7"/>
<rect x="582" y="170" width="15" height="1" fill="#a1a1e3"/>
<rect x="597" y="170" width="14" height="1" fill="#a3a3e3"/>
<rect x="611" y="170" width="15" height="1" fill="#9595e7"/>
<rect x="626" y="170" width="14" height="1" fill="#e5e59a"/>
<rect x="640" y="170" width="15" height="1" fill="#dedeb0"/>
<rect x="655" y="170" width="15" height="1" fill="#e7e792"/>
<rect x="670" y="170" width="15" height="1" fill="#efef76"/>
<rect x="567" y="171" width="15" height="1" fill="#b0b0df"/>
<rect x="582" y="171" width="15" height="1" fill="#c3c3d9"/>
<rect x="597" y="171" width="14" height="1" fill="#7070f2"/>
<rect x="611" y="171" width="15" height="1" fill="#bebedb"/>
<rect x="626" y="171" width="14" height="1" fill="#dfdfae"/>
<rect x="640" y="171" width="15" height="1" fill="#dbdbbd"/>
<rect x="655" y="171" width="15" height="1" fill="#e0e0ab"/>
<rect x="670" y="171" width="15" height="1" fill="#f2f26c"/>
<rect x="567" y="172" width="15" height="1" fill="#9999e6"/>
<rect x="582" y="172" width="15" height="1" fill="#c7c7d8"/>
<rect x="597" y="172" width="14" height="1" fill="#b2b2de"/>
<rect x="611" y="172" width="15" height="1" fill="#bdbddb"/>
<rect x="626" y="172" width="14" height="1" fill="#e4e49c"/>
<rect x="640" y="172" width="15" height="1" fill="#ddddb6"/>
<rect x="655" y="172" width="15" height="1" fill="#e5e598"/>
<rect x="670" y="172" width="15" height="1" fill="#efef77"/>
<rect x="567" y="173" width="15" height="2" fill="#d2d2d5"/>
<rect x="582" y="173" width="15" height="2" fill="#aaaae1"/>
<rect x="597" y="173" width="14" height="2" fill="#b6b6dd"/>
<rect x="611" y="173" width="15" height="2" fill="#a4a4e2"/>
<rect x="626" y="173" width="14" height="2" fill="#d0d0d5"/>
<rect x="640" y="173" width="15" height="2" fill="#e4e49d"/>
<rect x="655" y="173" width="15" height="2" fill="#e6e694"/>
<rect x="670" y="173" width="15" height="2" fill="#eded7e"/>
<rect x="567" y="175" width="15" height="1" fill="#8787eb"/>
<rect x="582" y="175" width="15" height="1" fill="#7272f1"/>
<rect x="597" y="175" width="14" height="1" fill="#9b9be5"/>
<rect x="611" y="175" width="15" height="1" fill="#acace0"/>
<rect x="626" y="175" width="14" height="1" fill="#d9d9c4"/>
<rect x="640" y="175" width="15" height="1" fill="#e4e49b"/>
<rect x="655" y="175" width="15" height="1" fill="#dbdbbc"/>
<rect x="670" y="175" width="15" height="1" fill="#dedeb0"/>
<rect x="567" y="176" width="15" height="1" fill="#9b9be5"/>
<rect x="582" y="176" width="15" height="1" fill="#9f9fe4"/>
<rect x="597" y="176" width="14" height="1" fill="#d0d0d5"/>
<rect x="611" y="176" width="15" height="1" fill="#d7d7c9"/>
<rect x="626" y="176" width="14" height="1" fill="#d8d8c7"/>
<rect x="640" y="176" width="15" height="1" fill="#dadac0"/>
<rect x="655" y="176" width="15" height="1" fill="#e3e39e"/>
<rect x="670" y="176" width="15" height="1" fill="#e4e49c"/>
<rect x="567" y="177" width="15" height="2" fill="#d5d5d0"/>
<rect x="582" y="177" width="15" height="2" fill="#afafdf"/>
<rect x="597" y="177" width="14" height="2" fill="#7e7eee"/>
<rect x="611" y="177" width="15" height="2" fill="#9191e8"/>
<rect x="626" y="177" width="14" height="2" fill="#dfdfae"/>
<rect x="640" y="177" width="15" height="2" fill="#dadabf"/>
<rect x="655" y="177" width="15" height="2" fill="#e5e599"/>
<rect x="670" y="177" width="15" height="2" fill="#e8e88d"/>
<rect x="567" y="179" width="15" height="1" fill="#7070f2"/>
<rect x="582" y="179" width="15" height="1" fill="#9090e8"/>
<rect x="597" y="179" width="14" height="1" fill="#9f9fe4"/>
<rect x="611" y="179" width="15" height="1" fill="#b4b4de"/>
<rect x="626" y="179" width="14" height="1" fill="#e2e2a2"/>
<rect x="640" y="179" width="15" height="1" fill="#e4e49d"/>
<rect x="655" y="179" width="15" height="1" fill="#e8e890"/>
<rect x="670" y="179" width="15" height="1" fill="#f1f171"/>
<rect x="567" y="180" width="15" height="1" fill="#9f9fe4"/>
<rect x="582" y="180" width="15" height="1" fill="#8383ec"/>
<rect x="597" y="180" width="14" height="1" fill="#bdbddb"/>
<rect x="611" y="180" width="15" height="1" fill="#8383ec"/>
<rect x="626" y="180" width="14" height="1" fill="#d1d1d5"/>
<rect x="640" y="180" width="15" height="1" fill="#d8d8c6"/>
<rect x="655" y="180" width="15" height="1" fill="#e2e2a4"/>
<rect x="670" y="180" width="15" height="1" fill="#e7e793"/>
<rect x="567" y="181" width="15" height="1" fill="#c0c0da"/>
<rect x="582" y="181" width="15" height="1" fill="#9e9ee4"/>
<rect x="597" y="181" width="14" height="1" fill="#a0a0e4"/>
<rect x="611" y="181" width="15" height="1" fill="#b6b6dd"/>
<rect x="626" y="181" width="14" height="1" fill="#eeee78"/>
<rect x="640" y="181" width="15" height="1" fill="#e3e3a0"/>
<rect x="655" y="181" width="15" height="1" fill="#ddddb3"/>
<rect x="670" y="181" width="15" height="1" fill="#dfdfaf"/>
<rect x="567" y="182" width="15" height="2" fill="#d3d3d4"/>
<rect x="582" y="182" width="15" height="2" fill="#dbdbbb"/>
<rect x="597" y="182" width="14" height="2" fill="#bbbbdc"/>
<rect x="611" y="182" width="15" height="2" fill="#bebedb"/>
<rect x="626" y="182" width="14" height="2" fill="#dcdcb9"/>
<rect x="640" y="182" width="15" height="2" fill="#e9e98c"/>
<rect x="655" y="182" width="15" height="2" fill="#ebeb84"/>
<rect x="670" y="182" width="15" height="2" fill="#dedeb2"/>
<rect x="567" y="184" width="15" height="2" fill="#ababe0"/>
<rect x="582" y="184" width="15" height="2" fill="#7575f1"/>
<rect x="597" y="184" width="14" height="2" fill="#8d8de9"/>
<rect x="611" y="184" width="15" height="2" fill="#9797e6"/>
<rect x="626" y="184" width="14" height="2" fill="#cfcfd6"/>
<rect x="640" y="184" width="15" height="2" fill="#dfdfad"/>
<rect x="655" y="184" width="15" height="2" fill="#eaea86"/>
<rect x="670" y="184" width="15" height="2" fill="#f2f26c"/>
<rect x="567" y="186" width="15" height="1" fill="#d0d0d5"/>
<rect x="582" y="186" width="15" height="1" fill="#a8a8e1"/>
<rect x="597" y="186" width="14" height="1" fill="#a1a1e3"/>
<rect x="611" y="186" width="15" height="1" fill="#bebedb"/>
<rect x="626" y="186" width="14" height="1" fill="#cacad7"/>
<rect x="640" y="186" width="15" height="1" fill="#dbdbba"/>
<rect x="655" y="186" width="15" height="1" fill="#ebeb83"/>
<rect x="670" y="186" width="15" height="1" fill="#ddddb5"/>
<rect x="567" y="187" width="15" height="2" fill="#8a8aea"/>
<rect x="582" y="187" width="15" height="2" fill="#7b7bef"/>
<rect x="597" y="187" width="14" height="2" fill="#9696e7"/>
<rect x="611" y="187" width="15" height="2" fill="#8b8bea"/>
<rect x="626" y="187" width="14" height="2" fill="#e6e694"/>
<rect x="640" y="187" width="15" height="2" fill="#ddddb4"/>
<rect x="655" y="187" width="15" height="2" fill="#e7e793"/>
<rect x="670" y="187" width="15" height="2" fill="#eeee7b"/>
<rect x="567" y="189" width="15" height="1" fill="#a7a7e2"/>
<rect x="582" y="189" width="15" height="1" fill="#a3a3e3"/>
<rect x="597" y="189" width="14" height="1" fill="#9b9be5"/>
<rect x="611" y="189" width="15" height="1" fill="#a5a5e2"/>
<rect x="626" y="189" width="14" height="1" fill="#f0f071"/>
<rect x="640" y="189" width="15" height="1" fill="#dbdbbd"/>
<rect x="655" y="189" width="15" height="1" fill="#e8e88f"/>
<rect x="670" y="189" width="15" height="1" fill="#e6e697"/>
<rect x="567" y="190" width="15" height="1" fill="#8f8fe9"/>
<rect x="582" y="190" width="15" height="1" fill="#b5b5dd"/>
<rect x="597" y="190" width="14" height="1" fill="#7575f0"/>
<rect x="611" y="190" width="15" height="1" fill="#a8a8e1"/>
<rect x="626" y="190" width="14" height="1" fill="#dcdcb7"/>
<rect x="640" y="190" width="15" height="1" fill="#e2e2a4"/>
<rect x="655" y="190" width="15" height="1" fill="#d5d5d1"/>
<rect x="670" y="190" width="15" height="1" fill="#d7d7c8"/>
<rect x="567" y="191" width="15" height="1" fill="#a8a8e1"/>
<rect x="582" y="191" width="15" height="1" fill="#9b9be5"/>
<rect x="597" y="191" width="14" height="1" fill="#c5c5d9"/>
<rect x="611" y="191" width="15" height="1" fill="#9595e7"/>
<rect x="626" y="191" width="14" height="1" fill="#ddddb6"/>
<rect x="640" y="191" width="15" height="1" fill="#dcdcba"/>
<rect x="655" y="191" width="15" height="1" fill="#e9e98d"/>
<rect x="670" y="191" width="15" height="1" fill="#e6e695"/>
<rect x="567" y="192" width="15" height="1" fill="#bfbfda"/>
<rect x="582" y="192" width="15" height="1" fill="#b2b2de"/>
<rect x="597" y="192" width="14" height="1" fill="#c9c9d7"/>
<rect x="611" y="192" width="15" height="1" fill="#7b7bef"/>
<rect x="626" y="192" width="14" height="1" fill="#d9d9c4"/>
<rect x="640" y="192" width="15" height="1" fill="#e9e989"/>
<rect x="655" y="192" width="15" height="1" fill="#dadabf"/>
<rect x="670" y="192" width="15" height="1" fill="#d6d6cd"/>
<rect x="567" y="193" width="15" height="1" fill="#7e7eee"/>
<rect x="582" y="193" width="15" height="1" fill="#a4a4e2"/>
<rect x="597" y="193" width="14" height="1" fill="#7070f2"/>
<rect x="611" y="193" width="15" height="1" fill="#c5c5d8"/>
<rect x="626" y="193" width="14" height="1" fill="#e4e49c"/>
<rect x="640" y="193" width="15" height="1" fill="#e7e794"/>
<rect x="655" y="193" width="15" height="1" fill="#eeee7a"/>
<rect x="670" y="193" width="15" height="1" fill="#e0e0a9"/>
<rect x="567" y="194" width="15" height="1" fill="#9494e7"/>
<rect x="582" y="194" width="15" height="1" fill="#7070f2"/>
<rect x="597" y="194" width="14" height="1" fill="#a9a9e1"/>
<rect x="611" y="194" width="15" height="1" fill="#7575f0"/>
<rect x="626" y="194" width="14" height="1" fill="#e1e1a8"/>
<rect x="640" y="194" width="15" height="1" fill="#cbcbd7"/>
<rect x="655" y="194" width="15" height="1" fill="#f2f26c"/>
<rect x="670" y="194" width="15" height="1" fill="#e6e694"/>
<rect x="567" y="195" width="15" height="2" fill="#a1a1e3"/>
<rect x="582" y="195" width="15" height="2" fill="#acace0"/>
<rect x="597" y="195" width="14" height="2" fill="#a5a5e2"/>
<rect x="611" y="195" width="15" height="2" fill="#9393e8"/>
<rect x="626" y="195" width="14" height="2" fill="#e8e88d"/>
<rect x="640" y="195" width="15" height="2" fill="#dadabe"/>
<rect x="655" y="195" width="15" height="2" fill="#ddddb6"/>
<rect x="670" y="195" width="15" height="2" fill="#eeee7b"/>
<rect x="567" y="197" width="15" height="1" fill="#9696e7"/>
<rect x="582" y="197" width="15" height="1" fill="#9c9ce5"/>
<rect x="597" y="197" width="14" height="1" fill="#d7d7cb"/>
<rect x="611" y="197" width="15" height="1" fill="#9d9de4"/>
<rect x="626" y="197" width="14" height="1" fill="#e4e49e"/>
<rect x="640" y="197" width="15" height="1" fill="#e0e0a9"/>
<rect x="655" y="197" width="15" height="1" fill="#e3e3a0"/>
<rect x="670" y="197" width="15" height="1" fill="#ecec81"/>
<rect x="567" y="198" width="15" height="2" fill="#a2a2e3"/>
<rect x="582" y="198" width="15" height="2" fill="#8e8ee9"/>
<rect x="597" y="198" width="14" height="2" fill="#8080ed"/>
<rect x="611" y="198" width="15" height="2" fill="#b1b1de"/>
<rect x="626" y="198" width="14" height="2" fill="#ecec82"/>
<rect x="640" y="198" width="15" height="2" fill="#dbdbbc"/>
<rect x="655" y="198" width="15" height="2" fill="#f2f26c"/>
<rect x="670" y="198" width="15" height="2" fill="#f0f072"/>
<rect x="567" y="200" width="15" height="1" fill="#bfbfda"/>
<rect x="582" y="200" width="15" height="1" fill="#9090e8"/>
<rect x="597" y="200" width="14" height="1" fill="#a7a7e1"/>
<rect x="611" y="200" width="15" height="1" fill="#a3a3e3"/>
<rect x="626" y="200" width="14" height="1" fill="#e7e792"/>
<rect x="640" y="200" width="15" height="1" fill="#e2e2a3"/>
<rect x="655" y="200" width="15" height="1" fill="#e8e88f"/>
<rect x="670" y="200" width="15" height="1" fill="#e4e49d"/>
<rect x="567" y="201" width="15" height="1" fill="#9c9ce5"/>
<rect x="582" y="201" width="15" height="1" fill="#9a9ae6"/>
<rect x="597" y="201" width="14" height="1" fill="#bebedb"/>
<rect x="611" y="201" width="15" height="1" fill="#b3b3de"/>
<rect x="626" y="201" width="14" height="1" fill="#e8e890"/>
<rect x="640" y="201" width="15" height="1" fill="#e8e88e"/>
<rect x="655" y="201" width="15" height="1" fill="#eeee79"/>
<rect x="670" y="201" width="15" height="1" fill="#f2f26c"/>
<rect x="567" y="202" width="15" height="1" fill="#aaaae1"/>
<rect x="582" y="202" width="15" height="1" fill="#9292e8"/>
<rect x="597" y="202" width="14" height="1" fill="#9696e6"/>
<rect x="611" y="202" width="15" height="1" fill="#aeaedf"/>
<rect x="626" y="202" width="14" height="1" fill="#eeee79"/>
<rect x="640" y="202" width="15" height="1" fill="#e5e599"/>
<rect x="655" y="202" width="15" height="1" fill="#efef76"/>
<rect x="670" y="202" width="15" height="1" fill="#f0f072"/>
<rect x="567" y="203" width="15" height="1" fill="#b9b9dc"/>
<rect x="582" y="203" width="15" height="1" fill="#8989ea"/>
<rect x="597" y="203" width="14" height="1" fill="#b6b6dd"/>
<rect x="611" y="203" width="15" height="1" fill="#babadc"/>
<rect x="626" y="203" width="14" height="1" fill="#e4e49b"/>
<rect x="640" y="203" width="15" height="1" fill="#e6e694"/>
<rect x="655" y="203" width="15" height="1" fill="#e5e598"/>
<rect x="670" y="203" width="15" height="1" fill="#e3e3a0"/>
<rect x="567" y="204" width="15" height="1" fill="#7575f0"/>
<rect x="582" y="204" width="15" height="1" fill="#8383ec"/>
<rect x="597" y="204" width="14" height="1" fill="#9c9ce5"/>
<rect x="611" y="204" width="15" height="1" fill="#aaaae1"/>
<rect x="626" y="204" width="14" height="1" fill="#eaea88"/>
<rect x="640" y="204" width="15" height="1" fill="#eaea89"/>
<rect x="655" y="204" width="15" height="1" fill="#d8d8c6"/>
<rect x="670" y="204" width="15" height="1" fill="#e6e695"/>
<rect x="567" y="205" width="15" height="2" fill="#8989eb"/>
<rect x="582" y="205" width="15" height="2" fill="#acace0"/>
<rect x="597" y="205" width="14" height="2" fill="#ababe0"/>
<rect x="611" y="205" width="15" height="2" fill="#b4b4de"/>
<rect x="626" y="205" width="14" height="2" fill="#d9d9c3"/>
<rect x="640" y="205" width="15" height="2" fill="#e6e695"/>
<rect x="655" y="205" width="15" height="2" fill="#dbdbbd"/>
<rect x="670" y="205" width="15" height="2" fill="#eaea88"/>
<rect x="567" y="207" width="15" height="2" fill="#a3a3e3"/>
<rect x="582" y="207" width="15" height="2" fill="#7070f2"/>
<rect x="597" y="207" width="14" height="2" fill="#c0c0da"/>
<rect x="611" y="207" width="15" height="2" fill="#d1d1d5"/>
<rect x="626" y="207" width="14" height="2" fill="#c7c7d8"/>
<rect x="640" y="207" width="15" height="2" fill="#e7e793"/>
<rect x="655" y="207" width="15" height="2" fill="#ebeb85"/>
<rect x="670" y="207" width="15" height="2" fill="#e5e59b"/>
<rect x="567" y="209" width="15" height="1" fill="#a8a8e1"/>
<rect x="582" y="209" width="15" height="1" fill="#9d9de5"/>
<rect x="597" y="209" width="14" height="1" fill="#a2a2e3"/>
<rect x="611" y="209" width="15" height="1" fill="#8b8bea"/>
<rect x="626" y="209" width="14" height="1" fill="#dadabe"/>
<rect x="640" y="209" width="15" height="1" fill="#dfdfad"/>
<rect x="655" y="209" width="15" height="1" fill="#e4e49c"/>
<rect x="670" y="209" width="15" height="1" fill="#e6e696"/>
<rect x="567" y="210" width="15" height="1" fill="#acace0"/>
<rect x="582" y="210" width="15" height="1" fill="#9797e6"/>
<rect x="597" y="210" width="14" height="1" fill="#d3d3d4"/>
<rect x="611" y="210" width="15" height="1" fill="#b1b1de"/>
<rect x="626" y="210" width="14" height="1" fill="#eded7e"/>
<rect x="640" y="210" width="15" height="1" fill="#dbdbba"/>
<rect x="655" y="210" width="15" height="1" fill="#eaea89"/>
<rect x="670" y="210" width="15" height="1" fill="#eaea89"/>
<rect x="567" y="211" width="15" height="1" fill="#9999e6"/>
<rect x="582" y="211" width="15" height="1" fill="#a8a8e1"/>
<rect x="597" y="211" width="14" height="1" fill="#b8b8dc"/>
<rect x="611" y="211" width="15" height="1" fill="#a3a3e3"/>
<rect x="626" y="211" width="14" height="1" fill="#f1f170"/>
<rect x="640" y="211" width="15" height="1" fill="#d6d6cd"/>
<rect x="655" y="211" width="15" height="1" fill="#f1f171"/>
<rect x="670" y="211" width="15" height="1" fill="#ecec81"/>
<rect x="567" y="212" width="15" height="2" fill="#8181ed"/>
<rect x="582" y="212" width="15" height="2" fill="#9090e9"/>
<rect x="597" y="212" width="14" height="2" fill="#adade0"/>
<rect x="611" y="212" width="15" height="2" fill="#b0b0df"/>
<rect x="626" y="212" width="14" height="2" fill="#e1e1a6"/>
<rect x="640" y="212" width="15" height="2" fill="#f0f071"/>
<rect x="655" y="212" width="15" height="2" fill="#e2e2a5"/>
<rect x="670" y="212" width="15" height="2" fill="#e6e695"/>
<rect x="567" y="214" width="15" height="2" fill="#bdbddb"/>
<rect x="582" y="214" width="15" height="2" fill="#9c9ce5"/>
<rect x="597" y="214" width="14" height="2" fill="#c1c1da"/>
<rect x="611" y="214" width="15" height="2" fill="#a7a7e1"/>
<rect x="626" y="214" width="14" height="2" fill="#e0e0a9"/>
<rect x="640" y="214" width="15" height="2" fill="#d1d1d5"/>
<rect x="655" y="214" width="15" height="2" fill="#e8e88e"/>
<rect x="670" y="214" width="15" height="2" fill="#f2f26c"/>
</g>
<path d="M566.0 83.3H560.2V83.4H566.0M566.0 83.2H559.4V83.4H560.2M559.4 83.3H557.8V83.5H566.0M566.0 83.8H561.5V83.9H566.0M561.5 83.9H560.1V84.0H566.0M566.0 83.7H558.5V83.9H560.1M557.8 83.4H557.2V83.8H558.5M566.0 84.1H562.1V84.2H566.0M566.0 84.3H562.9V84.4H566.0M566.0 84.6H562.9V84.7H566.0M562.9 84.4H561.8V84.6H562.9M562.1 84.1H561.4V84.5H561.8M566.0 84.8H560.7V85.0H566.0M561.4 84.3H559.9V84.9H560.7M566.0 85.1H562.6V85.2H566.0M562.6 85.1H562.4V85.3H566.0M562.4 85.2H562.2V85.4H566.0M566.0 85.5H562.6V85.6H566.0M562.6 85.5H562.0V85.7H566.0M562.2 85.3H560.9V85.6H562.0M566.0 85.9H560.1V86.0H566.0M560.9 85.5H559.1V85.9H560.1M559.9 84.6H557.5V85.7H559.1M557.2 83.6H554.6V85.2H557.5M566.0 86.2H560.9V86.3H566.0M566.0 86.1H559.2V86.2H560.9M566.0 86.6H562.4V86.7H566.0M566.0 86.5H561.5V86.7H562.4M566.0 86.4H560.5V86.6H561.5M566.0 86.8H560.2V86.9H566.0M560.5 86.5H559.4V86.9H560.2M559.2 86.2H557.7V86.7H559.4M566.0 87.3H558.4V87.3H566.0M566.0 87.2H557.9V87.3H558.4M566.0 87.0H557.5V87.2H557.9M557.7 86.4H555.6V87.1H557.5M566.0 87.6H559.9V87.7H566.0M559.9 87.6H558.4V87.7H566.0M566.0 87.4H557.2V87.7H558.4M555.6 86.8H553.8V87.6H557.2M554.6 84.4H552.2V87.2H553.8M566.0 87.8H556.2V87.9H566.0M556.2 87.9H555.1V88.1H566.0M566.0 88.2H560.7V88.3H566.0M566.0 88.2H559.2V88.3H560.7M566.0 88.4H558.2V88.6H566.0M559.2 88.2H557.0V88.5H558.2M555.1 88.0H554.2V88.3H557.0M566.0 88.7H559.1V88.8H566.0M559.1 88.7H557.8V88.9H566.0M557.8 88.8H554.7V89.0H566.0M566.0 89.1H558.4V89.2H566.0M558.4 89.2H557.4V89.3H566.0M566.0 89.4H558.0V89.5H566.0M557.4 89.3H555.9V89.5H558.0M554.7 88.9H554.0V89.4H555.9M554.2 88.2H552.6V89.2H554.0M566.0 89.6H560.1V89.7H566.0M560.1 89.7H559.3V89.8H566.0M559.3 89.8H556.8V90.0H566.0M566.0 90.1H557.1V90.2H566.0M556.8 89.9H555.7V90.1H557.1M566.0 90.3H561.3V90.4H566.0M561.3 90.4H561.0V90.5H566.0M566.0 90.3H560.2V90.5H561.0M560.2 90.4H558.7V90.6H566.0M566.0 90.8H562.4V90.9H566.0M562.4 90.9H561.5V91.0H566.0M566.0 90.7H561.2V90.9H561.5M561.2 90.8H559.7V91.1H566.0M558.7 90.5H557.3V91.0H559.7M555.7 90.0H554.8V90.7H557.3M552.6 88.7H550.8V90.4H554.8M552.2 85.8H547.1V89.5H550.8M566.0 91.3H561.6V91.4H566.0M561.6 91.4H561.4V91.5H566.0M566.0 91.2H560.1V91.4H561.4M560.1 91.3H559.2V91.6H566.0M566.0 91.7H558.8V91.8H566.0M559.2 91.4H556.7V91.7H558.8M566.0 91.9H556.4V92.0H566.0M556.7 91.6H553.2V91.9H556.4M566.0 92.1H557.5V92.1H566.0M566.0 92.2H557.4V92.4H566.0M557.5 92.1H555.0V92.3H557.4M566.0 92.7H556.7V92.8H566.0M566.0 92.6H555.4V92.7H556.7M566.0 92.5H553.4V92.7H555.4M555.0 92.2H552.2V92.6H553.4M553.2 91.7H549.2V92.4H552.2M566.0 92.9H555.7V93.0H566.0M566.0 93.1H556.7V93.2H566.0M555.7 92.9H553.1V93.1H556.7M553.1 93.0H551.5V93.3H566.0M566.0 93.4H552.6V93.5H566.0M566.0 93.7H559.2V93.8H566.0M559.2 93.8H558.1V93.9H566.0M566.0 93.6H557.3V93.8H558.1M557.3 93.7H554.1V93.9H566.0M552.6 93.5H550.9V93.8H554.1M551.5 93.2H549.1V93.6H550.9M549.2 92.1H544.3V93.4H549.1M547.1 87.6H540.4V92.7H544.3M566.0 94.1H555.5V94.2H566.0M555.5 94.2H554.2V94.3H566.0M566.0 94.4H554.8V94.5H566.0M554.2 94.2H553.2V94.4H554.8M566.0 94.1H548.3V94.3H553.2M566.0 94.6H552.0V94.7H566.0M566.0 94.8H553.9V94.9H566.0M553.9 94.8H552.2V95.0H566.0M552.0 94.7H549.6V94.9H552.2M548.3 94.2H546.8V94.8H549.6M566.0 95.1H558.2V95.2H566.0M566.0 95.4H559.9V95.4H566.0M559.9 95.4H557.8V95.5H566.0M557.8 95.4H556.3V95.6H566.0M558.2 95.1H555.3V95.5H556.3M555.3 95.3H554.6V95.7H566.0M566.0 95.9H555.6V96.0H566.0M555.6 95.9H554.1V96.1H566.0M566.0 95.8H553.2V96.0H554.1M554.6 95.5H552.1V95.9H553.2M566.0 96.2H555.4V96.3H566.0M566.0 96.4H553.3V96.5H566.0M555.4 96.3H552.1V96.5H553.3M552.1 95.7H547.9V96.4H552.1M546.8 94.5H542.2V96.0H547.9M566.0 96.6H549.6V96.7H566.0M566.0 96.9H555.6V96.9H566.0M555.6 96.9H553.2V97.0H566.0M553.2 97.0H549.0V97.1H566.0M566.0 97.2H549.2V97.3H566.0M549.0 97.0H547.4V97.2H549.2M549.6 96.7H544.2V97.1H547.4M566.0 97.5H557.1V97.6H566.0M566.0 97.4H555.5V97.6H557.1M555.5 97.5H552.8V97.7H566.0M566.0 98.1H557.7V98.2H566.0M566.0 97.9H555.1V98.1H557.7M566.0 97.8H551.4V98.0H555.1M552.8 97.6H549.1V97.9H551.4M544.2 96.9H542.8V97.8H549.1M542.2 95.3H536.4V97.3H542.8M540.4 90.2H530.6V96.3H536.4M566.0 98.4H559.5V98.5H566.0M559.5 98.4H558.0V98.5H566.0M566.0 98.2H556.4V98.5H558.0M566.0 98.6H558.6V98.7H566.0M558.6 98.7H555.8V98.8H566.0M556.4 98.4H555.1V98.7H555.8M566.0 99.0H560.6V99.0H566.0M560.6 99.0H559.0V99.1H566.0M566.0 98.9H558.3V99.1H559.0M566.0 99.2H557.9V99.3H566.0M558.3 99.0H556.9V99.3H557.9M555.1 98.6H553.7V99.1H556.9M566.0 99.4H555.9V99.6H566.0M566.0 99.7H556.3V99.8H566.0M555.9 99.5H554.8V99.8H556.3M553.7 98.8H552.0V99.6H554.8M566.0 100.1H561.1V100.2H566.0M561.1 100.1H559.6V100.2H566.0M566.0 100.3H559.8V100.4H566.0M559.6 100.2H558.1V100.4H559.8M566.0 99.9H555.7V100.3H558.1M566.0 100.5H561.0V100.6H566.0M566.0 100.5H560.5V100.6H561.0M566.0 100.7H560.7V100.8H566.0M560.5 100.5H559.6V100.8H560.7M566.0 100.9H560.1V101.0H566.0M559.6 100.6H558.9V101.0H560.1M566.0 101.3H561.9V101.3H566.0M566.0 101.1H560.4V101.3H561.9M560.4 101.2H559.5V101.4H566.0M558.9 100.8H557.8V101.3H559.5M566.0 101.5H561.4V101.6H566.0M561.4 101.5H560.4V101.7H566.0M566.0 101.8H559.2V101.9H566.0M566.0 102.0H561.6V102.1H566.0M561.6 102.1H560.4V102.2H566.0M566.0 102.4H560.7V102.5H566.0M566.0 102.3H560.1V102.4H560.7M560.4 102.1H559.7V102.3H560.1M559.2 101.9H558.8V102.2H559.7M560.4 101.6H558.2V102.0H558.8M557.8 101.1H556.6V101.8H558.2M555.7 100.1H552.9V101.4H556.6M566.0 102.9H560.7V103.0H566.0M566.0 102.8H559.0V102.9H560.7M566.0 102.7H557.1V102.9H559.0M566.0 102.6H556.3V102.8H557.1M566.0 103.1H557.1V103.2H566.0M556.3 102.7H555.5V103.2H557.1M552.9 100.8H552.2V102.9H555.5M552.0 99.2H546.9V101.9H552.2M566.0 103.4H557.0V103.5H566.0M566.0 103.3H555.8V103.5H557.0M566.0 103.8H560.0V103.8H566.0M560.0 103.8H558.0V103.9H566.0M558.0 103.9H556.1V104.0H566.0M566.0 103.6H554.5V103.9H556.1M555.8 103.4H552.9V103.8H554.5M566.0 104.1H555.5V104.2H566.0M566.0 104.3H555.4V104.4H566.0M566.0 104.6H556.3V104.7H566.0M566.0 104.5H555.3V104.7H556.3M555.4 104.4H554.6V104.6H555.3M555.5 104.2H551.8V104.5H554.6M552.9 103.6H549.9V104.3H551.8M566.0 105.0H558.5V105.1H566.0M566.0 104.9H556.0V105.0H558.5M556.0 105.0H554.6V105.1H566.0M566.0 104.8H551.0V105.1H554.6M549.9 104.0H548.0V104.9H551.0M566.0 105.3H555.8V105.4H566.0M566.0 105.6H558.9V105.7H566.0M558.9 105.6H556.9V105.8H566.0M556.9 105.7H555.2V105.9H566.0M566.0 105.5H554.2V105.8H555.2M555.8 105.3H553.3V105.6H554.2M566.0 106.2H558.4V106.3H566.0M558.4 106.2H555.6V106.4H566.0M566.0 106.1H554.6V106.3H555.6M566.0 106.0H552.0V106.2H554.6M553.3 105.5H549.2V106.1H552.0M566.0 106.6H557.0V106.6H566.0M566.0 106.5H553.7V106.6H557.0M566.0 106.7H557.8V106.8H566.0M566.0 107.0H557.9V107.1H566.0M566.0 106.9H556.8V107.1H557.9M557.8 106.8H555.8V107.0H556.8M553.7 106.5H552.7V106.9H555.8M566.0 107.3H556.6V107.4H566.0M556.6 107.4H554.3V107.6H566.0M566.0 107.2H551.7V107.5H554.3M551.7 107.3H550.7V107.7H566.0M552.7 106.7H549.8V107.5H550.7M549.2 105.8H545.3V107.1H549.8M548.0 104.4H542.6V106.4H545.3M546.9 100.5H539.7V105.4H542.6M566.0 107.8H553.3V107.9H566.0M566.0 108.0H552.1V108.1H566.0M553.3 107.9H550.4V108.0H552.1M566.0 108.5H554.3V108.6H566.0M566.0 108.4H553.5V108.5H554.3M566.0 108.3H549.3V108.5H553.5M550.4 107.9H545.7V108.4H549.3M566.0 108.8H557.2V108.9H566.0M566.0 108.7H556.7V108.9H557.2M566.0 108.7H555.2V108.8H556.7M566.0 109.2H561.1V109.3H566.0M566.0 109.1H559.9V109.2H561.1M566.0 109.0H558.1V109.2H559.9M566.0 109.4H559.0V109.5H566.0M558.1 109.1H556.4V109.4H559.0M566.0 109.6H559.5V109.7H566.0M566.0 109.8H560.1V109.9H566.0M559.5 109.6H557.8V109.8H560.1M556.4 109.3H555.3V109.7H557.8M555.2 108.7H551.3V109.5H555.3M566.0 109.9H558.1V110.0H566.0M558.1 110.0H555.1V110.1H566.0M555.1 110.0H553.7V110.1H566.0M566.0 110.2H554.0V110.4H566.0M553.7 110.1H552.1V110.3H554.0M551.3 109.1H548.5V110.2H552.1M545.7 108.2H544.7V109.6H548.5M566.0 110.7H555.3V110.8H566.0M566.0 110.6H554.6V110.8H555.3M566.0 110.5H552.1V110.7H554.6M552.1 110.6H550.8V111.0H566.0M566.0 111.1H550.7V111.1H566.0M550.8 110.8H547.1V111.1H550.7M566.0 111.2H548.0V111.3H566.0M566.0 111.4H552.6V111.5H566.0M552.6 111.5H550.3V111.6H566.0M566.0 111.8H553.6V111.9H566.0M566.0 111.7H548.8V111.9H553.6M550.3 111.6H547.6V111.8H548.8M548.0 111.3H545.8V111.7H547.6M547.1 110.9H544.4V111.5H545.8M544.7 108.9H540.1V111.2H544.4M566.0 112.0H551.3V112.1H566.0M566.0 112.2H551.5V112.3H566.0M566.0 112.4H556.6V112.5H566.0M566.0 112.4H553.7V112.5H556.6M553.7 112.4H551.8V112.6H566.0M551.5 112.3H548.0V112.5H551.8M551.3 112.1H546.0V112.4H548.0M566.0 112.9H556.7V113.0H566.0M566.0 112.8H555.1V112.9H556.7M555.1 112.9H551.4V113.1H566.0M566.0 113.4H559.8V113.5H566.0M566.0 113.3H557.6V113.5H559.8M566.0 113.5H556.0V113.6H566.0M557.6 113.4H554.7V113.6H556.0M566.0 113.2H552.5V113.5H554.7M551.4 113.0H549.2V113.4H552.5M546.0 112.2H544.7V113.2H549.2M566.0 113.8H552.2V113.9H566.0M566.0 113.7H549.3V113.9H552.2M566.0 114.0H552.4V114.1H566.0M549.3 113.8H547.1V114.1H552.4M566.0 114.4H555.3V114.5H566.0M555.3 114.4H552.5V114.6H566.0M566.0 114.3H547.4V114.5H552.5M547.1 113.9H544.7V114.4H547.4M544.7 112.7H541.6V114.2H544.7M540.1 110.1H535.2V113.4H541.6M539.7 103.0H532.9V111.7H535.2M530.6 93.2H522.0V107.4H532.9M566.0 114.8H560.6V114.9H566.0M566.0 114.7H560.1V114.8H560.6M566.0 115.0H563.5V115.1H566.0M563.5 115.0H562.7V115.2H566.0M566.0 115.2H562.9V115.3H566.0M562.7 115.1H561.8V115.3H562.9M566.0 115.5H562.8V115.6H566.0M566.0 115.4H562.6V115.5H562.8M562.6 115.5H562.3V115.7H566.0M561.8 115.2H561.0V115.6H562.3M560.1 114.7H559.8V115.4H561.0M566.0 115.9H561.1V116.0H566.0M561.1 115.9H560.4V116.1H566.0M560.4 116.0H559.6V116.1H566.0M559.8 115.1H559.2V116.1H559.6M566.0 116.3H559.3V116.4H566.0M566.0 116.5H560.9V116.5H566.0M560.9 116.5H559.9V116.6H566.0M559.3 116.3H558.9V116.6H559.9M559.2 115.6H557.5V116.5H558.9M566.0 116.9H562.4V116.9H566.0M566.0 116.8H561.3V116.9H562.4M566.0 116.7H560.4V116.9H561.3M560.4 116.8H559.7V117.1H566.0M566.0 117.1H561.2V117.2H566.0M561.2 117.2H560.5V117.4H566.0M559.7 116.9H558.7V117.3H560.5M566.0 117.5H561.6V117.6H566.0M561.6 117.6H561.3V117.7H566.0M566.0 117.8H562.8V117.9H566.0M562.8 117.8H561.7V118.0H566.0M561.7 117.9H560.0V118.0H566.0M561.3 117.6H559.5V118.0H560.0M566.0 118.2H560.0V118.3H566.0M560.0 118.2H559.1V118.3H566.0M559.5 117.8H557.3V118.3H559.1M558.7 117.1H556.1V118.0H557.3M557.5 116.0H554.2V117.6H556.1M566.0 118.4H556.3V118.5H566.0M556.3 118.5H554.5V118.6H566.0M566.0 118.8H555.1V118.9H566.0M566.0 119.0H557.7V119.1H566.0M566.0 118.9H556.2V119.0H557.7M555.1 118.8H554.5V119.0H556.2M554.5 118.5H553.8V118.9H554.5M566.0 119.2H556.8V119.3H566.0M566.0 119.4H559.5V119.5H566.0M566.0 119.6H558.6V119.7H566.0M559.5 119.4H557.6V119.6H558.6M566.0 119.8H558.1V119.9H566.0M557.6 119.5H556.6V119.8H558.1M556.8 119.2H554.8V119.7H556.6M553.8 118.7H552.8V119.4H554.8M554.2 116.8H550.0V119.1H552.8M566.0 120.1H559.0V120.2H566.0M566.0 120.0H557.9V120.1H559.0M566.0 119.9H555.3V120.1H557.9M555.3 120.0H553.9V120.2H566.0M566.0 120.4H556.4V120.5H566.0M553.9 120.1H553.0V120.5H556.4M566.0 120.8H558.8V120.9H566.0M566.0 121.0H559.4V121.1H566.0M558.8 120.8H557.0V121.0H559.4M566.0 120.7H554.6V120.9H557.0M553.0 120.3H551.9V120.8H554.6M566.0 121.3H559.7V121.4H566.0M566.0 121.5H560.7V121.6H566.0M560.7 121.5H559.9V121.7H566.0M559.7 121.3H558.4V121.6H559.9M566.0 121.2H555.7V121.5H558.4M566.0 121.8H557.3V121.9H566.0M557.3 121.9H555.9V122.0H566.0M555.7 121.3H553.1V121.9H555.9M566.0 122.4H557.8V122.5H566.0M557.8 122.5H557.1V122.6H566.0M566.0 122.3H554.7V122.5H557.1M566.0 122.1H553.9V122.4H554.7M553.1 121.6H552.1V122.3H553.9M551.9 120.5H549.8V122.0H552.1M566.0 122.8H554.5V122.9H566.0M554.5 122.8H553.4V123.0H566.0M553.4 122.9H550.9V123.1H566.0M566.0 123.3H558.2V123.4H566.0M566.0 123.2H555.8V123.3H558.2M555.8 123.3H553.1V123.5H566.0M566.0 123.6H555.6V123.7H566.0M555.6 123.6H551.9V123.8H566.0M553.1 123.4H550.0V123.7H551.9M550.9 123.0H548.6V123.5H550.0M549.8 121.3H547.0V123.3H548.6M550.0 117.9H545.1V122.3H547.0M566.0 124.1H557.3V124.2H566.0M557.3 124.1H556.8V124.2H566.0M566.0 124.0H555.8V124.2H556.8M566.0 123.9H553.5V124.1H555.8M566.0 124.3H557.5V124.5H566.0M557.5 124.4H556.6V124.6H566.0M556.6 124.5H554.3V124.7H566.0M566.0 124.8H558.0V124.9H566.0M566.0 124.7H555.4V124.9H558.0M555.4 124.8H554.5V125.0H566.0M554.3 124.6H552.8V124.9H554.5M553.5 124.0H551.1V124.7H552.8M566.0 125.4H556.9V125.5H566.0M566.0 125.3H556.3V125.5H556.9M566.0 125.2H554.0V125.4H556.3M566.0 125.6H552.8V125.8H566.0M566.0 126.0H556.4V126.0H566.0M566.0 125.9H553.0V126.0H556.4M552.8 125.7H551.8V125.9H553.0M554.0 125.3H550.5V125.8H551.8M551.1 124.4H545.6V125.5H550.5M566.0 126.1H558.0V126.2H566.0M558.0 126.2H557.5V126.3H566.0M566.0 126.4H560.7V126.5H566.0M560.7 126.5H560.3V126.6H566.0M560.3 126.5H559.0V126.6H566.0M566.0 126.7H559.1V126.8H566.0M566.0 126.9H560.0V127.0H566.0M559.1 126.8H558.2V126.9H560.0M559.0 126.6H557.4V126.9H558.2M557.5 126.2H554.4V126.7H557.4M566.0 127.1H560.0V127.2H566.0M566.0 127.3H559.7V127.3H566.0M560.0 127.1H558.0V127.3H559.7M566.0 127.5H557.7V127.6H566.0M566.0 127.6H557.8V127.7H566.0M557.7 127.5H555.9V127.7H557.8M558.0 127.2H555.0V127.6H555.9M554.4 126.5H551.9V127.4H555.0M566.0 127.8H558.2V127.9H566.0M558.2 127.9H556.0V128.0H566.0M566.0 128.2H558.3V128.3H566.0M566.0 128.1H557.4V128.3H558.3M556.0 127.9H554.7V128.2H557.4M566.0 128.5H557.2V128.7H566.0M566.0 128.4H555.9V128.6H557.2M554.7 128.1H552.4V128.5H555.9M551.9 126.9H548.5V128.3H552.4M545.6 124.9H542.0V127.6H548.5M545.1 120.1H538.4V126.3H542.0M566.0 128.7H554.0V128.8H566.0M554.0 128.8H552.3V128.9H566.0M552.3 128.8H549.9V129.0H566.0M566.0 129.2H553.2V129.3H566.0M566.0 129.4H558.7V129.5H566.0M566.0 129.3H556.5V129.5H558.7M566.0 129.6H557.7V129.7H566.0M556.5 129.4H555.6V129.7H557.7M553.2 129.2H552.2V129.5H555.6M566.0 130.0H556.0V130.1H566.0M566.0 129.8H555.3V130.0H556.0M566.0 130.2H556.0V130.3H566.0M566.0 130.1H554.6V130.3H556.0M555.3 129.9H551.3V130.2H554.6M552.2 129.4H549.6V130.1H551.3M549.9 128.9H546.7V129.7H549.6M566.0 130.4H554.6V130.6H566.0M554.6 130.5H552.9V130.7H566.0M566.0 130.9H557.6V131.0H566.0M566.0 130.8H554.7V130.9H557.6M566.0 131.1H554.8V131.2H566.0M554.7 130.8H553.4V131.1H554.8M552.9 130.6H549.0V131.0H553.4M546.7 129.3H544.6V130.8H549.0M566.0 131.4H555.8V131.5H566.0M566.0 131.3H554.0V131.4H555.8M554.0 131.4H549.4V131.6H566.0M566.0 131.7H548.8V131.8H566.0M549.4 131.5H544.4V131.8H548.8M544.6 130.1H538.4V131.6H544.4M566.0 131.9H559.1V132.0H566.0M559.1 132.0H557.2V132.1H566.0M566.0 132.3H557.7V132.4H566.0M566.0 132.2H556.0V132.4H557.7M557.2 132.1H554.1V132.3H556.0M566.0 132.5H556.0V132.6H566.0M556.0 132.5H555.0V132.7H566.0M566.0 132.8H560.7V132.8H566.0M560.7 132.8H559.3V132.9H566.0M566.0 133.0H560.7V133.1H566.0M560.7 133.0H559.1V133.2H566.0M559.3 132.9H557.4V133.1H559.1M555.0 132.6H554.2V133.0H557.4M554.1 132.2H551.9V132.8H554.2M566.0 133.3H552.2V133.4H566.0M552.2 133.4H551.1V133.5H566.0M566.0 133.6H555.8V133.7H566.0M555.8 133.6H553.5V133.8H566.0M553.5 133.7H552.2V133.9H566.0M551.1 133.4H548.3V133.8H552.2M551.9 132.5H546.8V133.6H548.3M566.0 134.0H548.4V134.1H566.0M566.0 134.2H550.9V134.4H566.0M566.0 134.4H553.4V134.6H566.0M550.9 134.3H549.3V134.5H553.4M548.4 134.0H544.8V134.4H549.3M546.8 133.1H543.2V134.2H544.8M566.0 134.9H554.8V135.0H566.0M566.0 134.8H550.4V135.0H554.8M566.0 134.7H547.8V134.9H550.4M566.0 135.1H552.6V135.2H566.0M552.6 135.2H550.7V135.3H566.0M550.7 135.2H549.4V135.4H566.0M547.8 134.8H545.3V135.3H549.4M566.0 135.5H553.0V135.6H566.0M566.0 135.7H553.7V135.8H566.0M553.0 135.6H549.3V135.8H553.7M545.3 135.1H543.0V135.7H549.3M543.2 133.6H538.4V135.4H543.0M538.4 130.8H533.3V134.5H538.4M538.4 123.2H529.1V132.7H533.3M566.0 136.0H555.0V136.1H566.0M566.0 136.2H555.6V136.3H566.0M555.0 136.0H553.7V136.2H555.6M566.0 136.4H557.6V136.5H566.0M566.0 136.5H558.9V136.6H566.0M566.0 136.8H559.5V136.9H566.0M566.0 136.7H558.4V136.8H559.5M558.9 136.6H557.8V136.8H558.4M557.6 136.4H555.4V136.7H557.8M566.0 137.1H557.7V137.2H566.0M566.0 137.0H557.2V137.2H557.7M555.4 136.6H554.1V137.1H557.2M553.7 136.1H550.4V136.8H554.1M566.0 137.3H555.1V137.4H566.0M555.1 137.3H554.5V137.5H566.0M566.0 137.6H555.8V137.7H566.0M554.5 137.4H553.7V137.6H555.8M566.0 137.8H557.3V137.8H566.0M566.0 137.9H557.2V138.0H566.0M557.3 137.8H555.6V137.9H557.2M566.0 138.1H560.1V138.2H566.0M566.0 138.1H558.5V138.2H560.1M566.0 138.4H560.3V138.5H566.0M566.0 138.3H558.3V138.5H560.3M558.5 138.1H557.5V138.4H558.3M566.0 138.7H558.7V138.8H566.0M558.7 138.7H557.1V138.9H566.0M557.5 138.3H555.9V138.8H557.1M555.6 137.9H553.9V138.5H555.9M553.7 137.5H551.0V138.2H553.9M550.4 136.5H546.1V137.9H551.0M566.0 139.0H557.5V139.1H566.0M566.0 139.0H556.2V139.1H557.5M556.2 139.0H554.7V139.2H566.0M566.0 139.3H558.0V139.4H566.0M558.0 139.3H556.4V139.5H566.0M554.7 139.1H553.2V139.4H556.4M566.0 139.6H559.8V139.7H566.0M559.8 139.7H557.6V139.8H566.0M557.6 139.7H555.1V139.9H566.0M555.1 139.8H551.2V140.1H566.0M553.2 139.3H548.3V140.0H551.2M546.1 137.2H544.3V139.6H548.3M566.0 140.3H557.7V140.4H566.0M557.7 140.3H556.0V140.4H566.0M566.0 140.6H557.7V140.7H566.0M566.0 140.5H556.0V140.6H557.7M556.0 140.6H555.5V140.8H566.0M556.0 140.4H552.7V140.7H555.5M566.0 140.9H550.9V141.0H566.0M552.7 140.5H548.3V140.9H550.9M566.0 141.1H551.3V141.2H566.0M566.0 141.3H554.2V141.4H566.0M566.0 141.5H556.8V141.6H566.0M556.8 141.5H554.0V141.7H566.0M554.0 141.6H553.2V141.7H566.0M554.2 141.4H551.3V141.7H553.2M551.3 141.1H547.9V141.5H551.3M548.3 140.7H544.3V141.3H547.9M544.3 138.4H538.6V141.0H544.3M566.0 142.0H558.6V142.1H566.0M566.0 141.9H556.1V142.1H558.6M556.1 142.0H555.0V142.2H566.0M566.0 141.8H552.1V142.1H555.0M566.0 142.3H560.2V142.4H566.0M560.2 142.4H558.6V142.5H566.0M566.0 142.6H560.1V142.7H566.0M558.6 142.4H558.1V142.6H560.1M566.0 142.8H559.4V142.9H566.0M566.0 142.8H557.8V142.9H559.4M558.1 142.5H555.8V142.8H557.8M566.0 143.2H556.7V143.3H566.0M556.7 143.2H555.8V143.3H566.0M555.8 143.3H554.9V143.4H566.0M566.0 143.1H553.5V143.4H554.9M555.8 142.7H552.1V143.2H553.5M552.1 142.0H549.9V143.0H552.1M566.0 143.7H555.2V143.8H566.0M566.0 144.0H558.4V144.1H566.0M566.0 143.9H556.1V144.0H558.4M555.2 143.7H554.5V143.9H556.1M566.0 143.6H553.8V143.8H554.5M566.0 144.2H555.6V144.3H566.0M553.8 143.7H552.8V144.2H555.6M566.0 144.5H555.5V144.6H566.0M566.0 144.4H554.2V144.5H555.5M566.0 144.8H555.5V144.9H566.0M566.0 144.7H553.8V144.9H555.5M554.2 144.5H552.8V144.8H553.8M552.8 144.0H550.5V144.6H552.8M549.9 142.5H547.0V144.3H550.5M566.0 145.0H559.2V145.1H566.0M559.2 145.0H558.0V145.2H566.0M558.0 145.1H555.2V145.3H566.0M555.2 145.2H552.6V145.5H566.0M566.0 145.6H556.1V145.7H566.0M556.1 145.7H555.0V145.8H566.0M552.6 145.3H551.3V145.7H555.0M566.0 145.9H556.0V146.0H566.0M556.0 145.9H554.0V146.1H566.0M566.0 146.2H555.0V146.3H566.0M555.0 146.2H553.5V146.4H566.0M554.0 146.0H552.0V146.3H553.5M551.3 145.5H549.5V146.2H552.0M566.0 146.5H555.1V146.6H566.0M566.0 146.5H553.7V146.6H555.1M566.0 146.7H554.9V146.8H566.0M554.9 146.7H553.9V146.9H566.0M553.7 146.5H550.3V146.8H553.9M566.0 147.1H556.9V147.2H566.0M566.0 147.0H555.9V147.1H556.9M566.0 147.2H555.3V147.3H566.0M555.3 147.3H553.7V147.4H566.0M555.9 147.0H552.7V147.4H553.7M550.3 146.7H548.5V147.2H552.7M549.5 145.8H547.2V146.9H548.5M566.0 147.6H551.3V147.7H566.0M566.0 148.0H559.3V148.1H566.0M566.0 147.9H556.8V148.1H559.3M566.0 147.8H554.5V148.0H556.8M566.0 148.2H556.7V148.3H566.0M556.7 148.3H554.6V148.4H566.0M554.5 147.9H551.8V148.3H554.6M551.3 147.7H549.3V148.1H551.8M547.2 146.4H546.2V147.9H549.3M547.0 143.4H545.0V147.1H546.2M566.0 148.7H560.8V148.8H566.0M566.0 148.6H559.9V148.7H560.8M566.0 148.9H560.1V149.0H566.0M560.1 148.9H559.1V149.1H566.0M559.9 148.7H558.7V149.0H559.1M566.0 148.5H556.7V148.8H558.7M566.0 149.3H560.5V149.4H566.0M566.0 149.1H559.1V149.3H560.5M566.0 149.5H562.2V149.6H566.0M566.0 149.4H560.8V149.5H562.2M560.8 149.5H559.1V149.7H566.0M559.1 149.2H558.5V149.6H559.1M566.0 149.7H558.8V149.8H566.0M558.5 149.4H557.6V149.8H558.8M566.0 150.0H557.7V150.1H566.0M566.0 149.9H556.7V150.0H557.7M557.6 149.6H555.1V150.0H556.7M556.7 148.7H554.1V149.8H555.1M566.0 150.3H563.1V150.4H566.0M563.1 150.3H562.6V150.5H566.0M562.6 150.4H561.4V150.6H566.0M566.0 150.2H559.7V150.5H561.4M566.0 150.7H561.2V150.8H566.0M561.2 150.8H559.7V151.0H566.0M559.7 150.4H558.2V150.9H559.7M566.0 151.1H562.1V151.2H566.0M562.1 151.1H561.0V151.3H566.0M566.0 151.4H560.5V151.5H566.0M561.0 151.2H559.4V151.5H560.5M566.0 151.7H561.6V151.8H566.0M566.0 151.6H560.4V151.8H561.6M560.4 151.7H559.0V151.9H566.0M559.0 151.8H557.7V152.0H566.0M559.4 151.3H557.1V151.9H557.7M558.2 150.6H555.9V151.6H557.1M554.1 149.2H553.0V151.1H555.9M566.0 152.3H560.5V152.4H566.0M566.0 152.2H559.3V152.3H560.5M566.0 152.5H559.3V152.6H566.0M566.0 152.7H560.5V152.8H566.0M560.5 152.7H559.3V152.9H566.0M559.3 152.6H558.6V152.8H559.3M559.3 152.3H557.7V152.7H558.6M566.0 153.1H559.9V153.2H566.0M566.0 153.0H558.0V153.1H559.9M566.0 153.0H557.5V153.1H558.0M557.7 152.5H556.5V153.0H557.5M566.0 153.5H561.5V153.5H566.0M566.0 153.3H561.2V153.5H561.5M566.0 153.8H562.1V153.8H566.0M566.0 153.6H560.9V153.8H562.1M561.2 153.4H559.7V153.7H560.9M566.0 154.1H561.6V154.2H566.0M566.0 154.0H560.8V154.1H561.6M566.0 153.9H559.0V154.1H560.8M559.7 153.6H557.5V154.0H559.0M556.5 152.8H555.5V153.8H557.5M553.0 150.2H551.9V153.3H555.5M566.0 154.4H561.1V154.5H566.0M566.0 154.3H560.5V154.4H561.1M560.5 154.4H559.6V154.6H566.0M566.0 154.7H558.5V154.8H566.0M559.6 154.5H558.0V154.8H558.5M566.0 155.0H559.9V155.1H566.0M559.9 155.0H558.8V155.2H566.0M566.0 155.3H559.9V155.4H566.0M558.8 155.1H557.9V155.4H559.9M557.9 155.2H557.3V155.5H566.0M558.0 154.6H555.0V155.4H557.3M566.0 155.6H559.4V155.8H566.0M559.4 155.7H558.1V155.9H566.0M558.1 155.8H556.8V156.0H566.0M555.0 155.0H553.6V155.9H556.8M551.9 151.7H549.3V155.4H553.6M566.0 156.1H556.8V156.2H566.0M566.0 156.3H559.5V156.4H566.0M559.5 156.4H559.0V156.5H566.0M559.0 156.4H557.4V156.5H566.0M566.0 156.6H555.9V156.7H566.0M557.4 156.5H555.3V156.6H555.9M556.8 156.2H554.6V156.6H555.3M566.0 156.8H559.4V156.9H566.0M566.0 157.0H560.1V157.0H566.0M559.4 156.8H558.4V157.0H560.1M566.0 157.2H558.3V157.3H566.0M558.4 156.9H557.1V157.2H558.3M566.0 157.3H560.0V157.4H566.0M560.0 157.4H558.9V157.5H566.0M557.1 157.1H556.6V157.5H558.9M566.0 157.8H562.9V157.9H566.0M566.0 157.7H562.0V157.9H562.9M566.0 157.7H561.4V157.8H562.0M566.0 158.0H561.6V158.1H566.0M561.4 157.7H560.4V158.0H561.6M560.4 157.9H558.4V158.2H566.0M556.6 157.3H555.7V158.0H558.4M554.6 156.4H552.3V157.6H555.7M566.0 158.4H556.3V158.5H566.0M566.0 158.3H553.9V158.4H556.3M566.0 158.6H555.0V158.7H566.0M566.0 158.8H556.3V158.9H566.0M555.0 158.7H553.1V158.9H556.3M553.9 158.4H551.8V158.8H553.1M552.3 157.0H548.9V158.6H551.8M549.3 153.6H547.8V157.8H548.9M545.0 145.3H542.3V155.7H547.8M566.0 159.0H554.1V159.1H566.0M554.1 159.0H551.9V159.2H566.0M566.0 159.4H558.6V159.5H566.0M558.6 159.5H556.1V159.6H566.0M566.0 159.3H555.5V159.5H556.1M555.5 159.4H554.1V159.7H566.0M551.9 159.1H549.8V159.5H554.1M566.0 159.8H553.1V159.9H566.0M566.0 160.1H552.5V160.2H566.0M553.1 159.9H548.8V160.1H552.5M549.8 159.3H544.8V160.0H548.8M566.0 160.2H555.0V160.3H566.0M555.0 160.3H553.4V160.4H566.0M566.0 160.5H558.8V160.6H566.0M566.0 160.6H558.0V160.7H566.0M558.0 160.7H557.4V160.8H566.0M558.8 160.5H556.8V160.8H557.4M566.0 160.9H559.2V161.0H566.0M566.0 161.2H559.3V161.2H566.0M559.3 161.2H558.6V161.3H566.0M559.2 161.0H556.6V161.3H558.6M556.8 160.7H554.8V161.1H556.6M553.4 160.3H551.0V160.9H554.8M566.0 161.5H557.9V161.6H566.0M557.9 161.5H555.6V161.7H566.0M555.6 161.6H554.5V161.8H566.0M566.0 162.2H558.4V162.3H566.0M566.0 162.1H557.7V162.2H558.4M566.0 162.0H554.5V162.2H557.7M554.5 161.7H552.6V162.1H554.5M566.0 162.4H560.0V162.5H566.0M566.0 162.6H560.5V162.7H566.0M560.0 162.4H559.5V162.6H560.5M566.0 162.8H560.1V162.9H566.0M560.1 162.8H558.6V163.0H566.0M559.5 162.5H557.9V162.9H558.6M566.0 163.1H559.9V163.1H566.0M559.9 163.1H557.6V163.3H566.0M557.9 162.7H554.9V163.2H557.6M552.6 161.9H550.6V163.0H554.9M551.0 160.6H547.4V162.4H550.6M566.0 163.4H554.8V163.5H566.0M554.8 163.5H553.6V163.6H566.0M566.0 163.7H557.9V163.8H566.0M557.9 163.8H554.9V163.9H566.0M566.0 164.2H556.4V164.3H566.0M566.0 164.1H555.8V164.3H556.4M554.9 163.8H553.2V164.2H555.8M553.6 163.5H551.3V164.0H553.2M547.4 161.5H546.0V163.8H551.3M544.8 159.7H542.4V162.6H546.0M542.3 150.5H539.2V161.2H542.4M538.6 139.7H536.3V155.8H539.2M566.0 164.6H555.9V164.6H566.0M566.0 164.5H554.3V164.6H555.9M566.0 164.9H556.5V165.0H566.0M566.0 165.2H557.9V165.3H566.0M557.9 165.3H556.4V165.4H566.0M566.0 165.1H555.4V165.4H556.4M556.5 164.9H554.5V165.2H555.4M566.0 164.8H552.2V165.1H554.5M554.3 164.5H550.1V164.9H552.2M566.0 165.5H555.4V165.6H566.0M566.0 165.7H553.8V165.8H566.0M566.0 166.0H558.7V166.1H566.0M558.7 166.1H557.2V166.2H566.0M566.0 165.9H555.1V166.1H557.2M553.8 165.8H552.3V166.0H555.1M555.4 165.6H551.4V165.9H552.3M550.1 164.7H547.5V165.7H551.4M566.0 166.2H558.4V166.3H566.0M558.4 166.3H556.9V166.4H566.0M556.9 166.3H553.9V166.5H566.0M566.0 166.5H556.1V166.6H566.0M553.9 166.4H553.1V166.6H556.1M566.0 166.8H556.5V166.9H566.0M566.0 166.9H559.4V167.0H566.0M559.4 167.0H557.9V167.1H566.0M557.9 167.0H556.3V167.2H566.0M556.5 166.8H553.9V167.1H556.3M566.0 167.3H558.7V167.4H566.0M566.0 167.4H558.3V167.6H566.0M558.7 167.3H557.4V167.5H558.3M566.0 167.8H559.1V167.8H566.0M566.0 167.7H557.3V167.8H559.1M557.4 167.4H556.0V167.7H557.3M566.0 167.9H560.0V168.0H566.0M560.0 168.0H558.0V168.1H566.0M566.0 168.2H557.8V168.3H566.0M558.0 168.0H555.1V168.3H557.8M556.0 167.6H552.5V168.1H555.1M566.0 168.5H556.2V168.6H566.0M566.0 168.4H554.6V168.5H556.2M552.5 167.9H550.5V168.5H554.6M553.9 167.0H549.5V168.2H550.5M553.1 166.5H548.1V167.6H549.5M547.5 165.2H546.5V167.0H548.1M566.0 168.8H553.7V169.0H566.0M566.0 169.2H558.4V169.2H566.0M566.0 169.1H556.1V169.2H558.4M553.7 168.9H553.1V169.1H556.1M566.0 168.7H551.4V169.0H553.1M566.0 169.3H556.1V169.4H566.0M556.1 169.4H555.3V169.5H566.0M566.0 169.6H556.9V169.8H566.0M566.0 169.9H555.1V170.0H566.0M556.9 169.7H553.9V170.0H555.1M555.3 169.4H552.8V169.8H553.9M566.0 170.1H557.7V170.2H566.0M557.7 170.2H555.2V170.3H566.0M555.2 170.3H553.9V170.5H566.0M552.8 169.6H550.5V170.4H553.9M551.4 168.9H548.2V170.0H550.5M566.0 170.7H559.1V170.8H566.0M566.0 170.6H556.8V170.7H559.1M566.0 170.8H557.6V170.9H566.0M556.8 170.6H556.2V170.9H557.6M566.0 171.0H558.2V171.1H566.0M558.2 171.1H556.0V171.2H566.0M556.2 170.8H554.9V171.1H556.0M566.0 171.4H558.5V171.5H566.0M566.0 171.3H557.6V171.5H558.5M557.6 171.4H554.8V171.6H566.0M566.0 171.7H557.1V171.8H566.0M566.0 171.9H557.9V172.0H566.0M557.9 172.0H557.3V172.1H566.0M566.0 172.2H557.0V172.3H566.0M557.3 172.0H556.2V172.2H557.0M557.1 171.8H555.6V172.1H556.2M554.8 171.5H553.4V171.9H555.6M554.9 171.0H551.5V171.7H553.4M548.2 169.4H546.5V171.3H551.5M546.5 166.1H540.2V170.4H546.5M566.0 172.6H554.8V172.7H566.0M566.0 172.5H553.8V172.6H554.8M566.0 172.4H549.8V172.6H553.8M566.0 173.0H558.5V173.1H566.0M566.0 172.9H557.5V173.1H558.5M566.0 172.8H554.4V173.0H557.5M566.0 173.2H557.3V173.3H566.0M566.0 173.4H557.0V173.5H566.0M557.3 173.3H554.2V173.4H557.0M566.0 173.6H556.1V173.7H566.0M554.2 173.3H552.4V173.7H556.1M554.4 172.9H550.8V173.5H552.4M549.8 172.5H547.8V173.2H550.8M566.0 173.8H556.7V173.9H566.0M566.0 174.0H558.8V174.1H566.0M566.0 173.9H558.3V174.1H558.8M556.7 173.8H555.9V174.0H558.3M566.0 174.2H557.9V174.3H566.0M557.9 174.3H555.8V174.5H566.0M555.9 173.9H554.8V174.4H555.8M566.0 174.7H557.4V174.8H566.0M557.4 174.8H555.0V174.9H566.0M566.0 174.6H551.9V174.8H555.0M554.8 174.1H550.9V174.7H551.9M566.0 175.0H556.5V175.1H566.0M566.0 175.2H557.3V175.3H566.0M556.5 175.1H554.8V175.2H557.3M554.8 175.1H551.3V175.4H566.0M550.9 174.4H548.9V175.3H551.3M547.8 172.8H542.8V174.9H548.9M566.0 175.5H557.8V175.6H566.0M557.8 175.6H555.1V175.8H566.0M555.1 175.7H553.9V175.9H566.0M566.0 176.0H551.8V176.1H566.0M553.9 175.8H549.6V176.1H551.8M566.0 176.3H555.4V176.4H566.0M566.0 176.2H552.6V176.4H555.4M566.0 176.7H559.9V176.8H566.0M566.0 176.6H558.3V176.8H559.9M558.3 176.7H555.8V176.9H566.0M566.0 176.5H554.8V176.8H555.8M566.0 177.0H555.8V177.1H566.0M555.8 177.0H554.7V177.2H566.0M554.8 176.7H552.1V177.1H554.7M552.6 176.3H549.3V176.9H552.1M549.6 175.9H547.6V176.6H549.3M566.0 177.3H555.8V177.4H566.0M555.8 177.4H552.1V177.5H566.0M566.0 177.6H555.6V177.7H566.0M555.6 177.7H554.0V177.8H566.0M566.0 177.9H557.6V178.0H566.0M557.6 178.0H556.6V178.1H566.0M566.0 178.5H560.0V178.6H566.0M566.0 178.4H559.3V178.6H560.0M566.0 178.3H558.2V178.5H559.3M566.0 178.2H557.4V178.4H558.2M556.6 178.0H555.3V178.3H557.4M554.0 177.7H551.4V178.2H555.3M552.1 177.4H550.6V178.0H551.4M566.0 178.8H556.3V178.9H566.0M566.0 178.7H554.7V178.9H556.3M554.7 178.8H552.4V179.0H566.0M566.0 179.2H554.9V179.3H566.0M554.9 179.2H554.1V179.4H566.0M552.4 178.9H551.4V179.3H554.1M550.6 177.7H549.3V179.1H551.4M547.6 176.3H545.6V178.4H549.3M542.8 173.8H541.1V177.3H545.6M540.2 168.3H538.1V175.6H541.1M566.0 179.5H557.9V179.6H566.0M557.9 179.5H556.6V179.7H566.0M556.6 179.6H553.4V179.8H566.0M566.0 180.0H555.8V180.1H566.0M566.0 180.0H554.8V180.1H555.8M566.0 179.9H553.4V180.0H554.8M553.4 179.7H549.9V180.0H553.4M566.0 180.2H556.2V180.3H566.0M556.2 180.3H553.3V180.4H566.0M566.0 180.5H552.9V180.6H566.0M553.3 180.3H549.6V180.5H552.9M549.9 179.8H548.6V180.4H549.6M566.0 180.8H553.2V180.9H566.0M566.0 180.7H551.2V180.9H553.2M548.6 180.1H545.8V180.8H551.2M566.0 181.1H559.8V181.2H566.0M566.0 181.0H557.6V181.2H559.8M557.6 181.1H556.7V181.3H566.0M566.0 181.6H562.6V181.7H566.0M566.0 181.5H561.5V181.6H562.6M566.0 181.4H560.1V181.6H561.5M560.1 181.5H557.9V181.8H566.0M556.7 181.2H554.8V181.6H557.9M566.0 182.0H560.2V182.1H566.0M566.0 182.0H558.4V182.1H560.2M566.0 181.9H556.2V182.0H558.4M554.8 181.4H552.6V182.0H556.2M566.0 182.5H560.7V182.6H566.0M566.0 182.4H558.8V182.5H560.7M566.0 182.3H557.7V182.5H558.8M566.0 182.7H558.2V182.8H566.0M558.2 182.8H557.3V183.0H566.0M557.7 182.4H555.0V182.9H557.3M566.0 183.0H559.7V183.1H566.0M559.7 183.1H558.0V183.2H566.0M566.0 183.3H560.3V183.4H566.0M560.3 183.4H558.8V183.5H566.0M558.0 183.1H556.6V183.4H558.8M566.0 183.7H559.4V183.8H566.0M566.0 183.6H558.0V183.8H559.4M566.0 183.9H560.0V184.0H566.0M566.0 184.1H559.4V184.2H566.0M560.0 184.0H558.1V184.2H559.4M558.0 183.7H557.0V184.1H558.1M556.6 183.3H554.7V183.9H557.0M566.0 184.3H559.4V184.5H566.0M566.0 184.6H559.8V184.8H566.0M559.4 184.4H557.7V184.7H559.8M566.0 184.8H558.1V185.0H566.0M557.7 184.6H556.0V184.9H558.1M554.7 183.6H554.1V184.7H556.0M555.0 182.6H553.1V184.2H554.1M552.6 181.7H549.3V183.4H553.1M545.8 180.5H543.1V182.5H549.3M566.0 185.1H554.7V185.2H566.0M554.7 185.1H551.0V185.3H566.0M566.0 185.5H555.4V185.6H566.0M555.4 185.6H552.7V185.6H566.0M566.0 185.4H548.9V185.6H552.7M551.0 185.2H545.6V185.5H548.9M566.0 185.7H549.8V185.8H566.0M566.0 185.9H551.6V186.0H566.0M549.8 185.8H547.4V186.0H551.6M566.0 186.1H554.5V186.2H566.0M554.5 186.2H550.9V186.3H566.0M566.0 186.5H553.0V186.6H566.0M566.0 186.4H551.9V186.6H553.0M566.0 186.8H554.9V186.8H566.0M566.0 186.7H552.1V186.8H554.9M566.0 187.0H558.6V187.1H566.0M566.0 186.9H556.0V187.1H558.6M566.0 187.3H558.6V187.4H566.0M566.0 187.3H556.2V187.4H558.6M556.0 187.0H554.5V187.3H556.2M552.1 186.7H551.2V187.2H554.5M551.9 186.5H550.4V186.9H551.2M550.9 186.2H548.3V186.7H550.4M547.4 185.9H543.1V186.5H548.3M545.6 185.4H541.4V186.2H543.1M543.1 181.5H539.4V185.8H541.4M538.1 171.9H535.4V183.6H539.4M536.3 147.8H532.9V177.8H535.4M566.0 187.7H559.1V187.8H566.0M566.0 187.6H558.5V187.8H559.1M558.5 187.7H556.2V187.9H566.0M566.0 188.4H561.1V188.5H566.0M566.0 188.3H560.5V188.5H561.1M566.0 188.2H559.8V188.4H560.5M566.0 188.1H557.9V188.3H559.8M556.2 187.8H555.5V188.2H557.9M566.0 188.7H560.0V188.8H566.0M566.0 188.6H558.3V188.7H560.0M558.3 188.7H555.5V188.9H566.0M566.0 189.1H558.8V189.2H566.0M558.8 189.2H557.1V189.3H566.0M566.0 189.0H555.7V189.2H557.1M555.5 188.8H553.5V189.1H555.7M555.5 188.0H552.6V188.9H553.5M566.0 189.4H555.3V189.5H566.0M566.0 189.3H554.0V189.5H555.3M566.0 189.6H559.4V189.8H566.0M566.0 189.9H559.6V190.0H566.0M559.4 189.7H557.8V189.9H559.6M566.0 190.1H560.5V190.2H566.0M566.0 190.1H559.2V190.2H560.5M559.2 190.1H557.7V190.3H566.0M557.8 189.8H556.0V190.2H557.7M554.0 189.4H553.0V190.0H556.0M566.0 190.6H559.2V190.7H566.0M566.0 190.9H560.2V191.0H566.0M559.2 190.7H558.7V190.9H560.2M566.0 190.4H556.2V190.8H558.7M566.0 191.1H555.8V191.2H566.0M556.2 190.6H554.0V191.2H555.8M566.0 191.6H559.4V191.7H566.0M566.0 191.4H558.7V191.6H559.4M566.0 191.3H557.8V191.5H558.7M566.0 191.8H556.9V191.9H566.0M566.0 192.0H559.3V192.1H566.0M559.3 192.1H558.4V192.2H566.0M566.0 192.4H560.5V192.5H566.0M560.5 192.4H558.4V192.7H566.0M558.4 192.1H556.4V192.5H558.4M556.9 191.9H555.4V192.3H556.4M557.8 191.4H554.8V192.1H555.4M554.0 190.9H553.3V191.8H554.8M553.0 189.7H551.8V191.3H553.3M552.6 188.5H547.7V190.5H551.8M566.0 192.8H561.0V192.9H566.0M561.0 192.9H560.2V193.0H566.0M566.0 193.1H560.9V193.2H566.0M560.2 192.9H559.4V193.2H560.9M566.0 193.3H560.1V193.5H566.0M566.0 193.6H561.4V193.7H566.0M561.4 193.6H561.0V193.7H566.0M560.1 193.4H559.6V193.7H561.0M559.4 193.0H557.1V193.5H559.6M566.0 193.9H559.2V194.0H566.0M559.2 193.9H558.7V194.1H566.0M566.0 194.1H558.4V194.2H566.0M558.7 194.0H557.8V194.2H558.4M566.0 194.3H560.3V194.4H566.0M566.0 194.7H562.4V194.8H566.0M562.4 194.7H561.7V194.8H566.0M566.0 195.0H563.4V195.1H566.0M563.4 195.1H562.9V195.2H566.0M566.0 194.9H562.2V195.1H562.9M561.7 194.8H561.5V195.0H562.2M566.0 194.6H560.7V194.9H561.5M560.3 194.4H559.4V194.7H560.7M557.8 194.1H557.2V194.6H559.4M557.1 193.3H556.0V194.3H557.2M566.0 195.3H560.7V195.5H566.0M566.0 195.3H559.1V195.4H560.7M566.0 195.6H558.3V195.7H566.0M558.3 195.6H557.8V195.8H566.0M559.1 195.3H557.3V195.7H557.8M566.0 195.9H557.6V196.0H566.0M557.3 195.5H556.3V195.9H557.6M556.0 193.8H553.5V195.7H556.3M566.0 196.1H555.3V196.2H566.0M566.0 196.3H556.0V196.4H566.0M555.3 196.1H553.6V196.3H556.0M566.0 196.5H558.4V196.6H566.0M558.4 196.5H557.7V196.7H566.0M557.7 196.6H555.6V196.8H566.0M566.0 196.9H555.1V197.0H566.0M555.6 196.7H553.9V196.9H555.1M553.6 196.2H550.8V196.8H553.9M553.5 194.8H549.2V196.5H550.8M566.0 197.1H556.9V197.2H566.0M566.0 197.0H556.0V197.1H556.9M556.0 197.1H554.7V197.3H566.0M554.7 197.2H553.4V197.4H566.0M566.0 197.5H560.9V197.6H566.0M566.0 197.6H560.8V197.7H566.0M560.9 197.5H559.0V197.7H560.8M559.0 197.6H556.6V197.9H566.0M556.6 197.7H555.3V198.0H566.0M566.0 198.4H560.0V198.5H566.0M566.0 198.3H557.8V198.5H560.0M557.8 198.4H555.7V198.6H566.0M566.0 198.1H554.5V198.5H555.7M555.3 197.9H553.1V198.3H554.5M553.4 197.3H549.7V198.1H553.1M549.2 195.6H547.1V197.7H549.7M547.7 189.5H542.1V196.7H547.1M566.0 198.7H558.3V198.8H566.0M566.0 199.1H560.4V199.2H566.0M560.4 199.1H559.6V199.3H566.0M566.0 199.0H559.1V199.2H559.6M566.0 198.9H558.5V199.1H559.1M566.0 199.4H558.8V199.5H566.0M558.5 199.0H557.8V199.5H558.8M558.3 198.7H556.2V199.2H557.8M566.0 199.7H557.8V199.8H566.0M566.0 199.6H557.0V199.7H557.8M557.0 199.7H556.4V199.9H566.0M556.2 199.0H553.1V199.8H556.4M566.0 200.1H559.9V200.2H566.0M566.0 200.3H560.0V200.4H566.0M559.9 200.2H558.1V200.4H560.0M566.0 200.0H556.3V200.3H558.1M566.0 200.7H561.4V200.8H566.0M566.0 200.6H560.1V200.7H561.4M566.0 200.9H560.4V201.0H566.0M560.1 200.7H559.0V201.0H560.4M566.0 201.3H560.2V201.3H566.0M560.2 201.3H559.3V201.5H566.0M566.0 201.2H558.5V201.4H559.3M559.0 200.8H557.2V201.3H558.5M556.3 200.2H555.6V201.0H557.2M566.0 201.6H559.2V201.7H566.0M566.0 201.8H559.2V202.0H566.0M559.2 201.6H556.9V201.9H559.2M555.6 200.6H553.4V201.8H556.9M566.0 202.1H558.2V202.2H566.0M566.0 202.3H560.0V202.4H566.0M566.0 202.5H560.8V202.6H566.0M560.0 202.3H559.4V202.5H560.8M559.4 202.4H557.5V202.7H566.0M558.2 202.2H555.6V202.6H557.5M566.0 202.8H558.8V202.9H566.0M566.0 203.0H560.3V203.1H566.0M566.0 203.2H559.8V203.3H566.0M560.3 203.0H558.4V203.3H559.8M558.8 202.8H556.0V203.2H558.4M555.6 202.4H554.9V203.0H556.0M553.4 201.2H552.4V202.7H554.9M553.1 199.4H550.4V201.9H552.4M566.0 203.4H560.5V203.5H566.0M566.0 203.6H561.4V203.7H566.0M566.0 203.8H561.6V203.9H566.0M561.4 203.6H560.4V203.8H561.6M560.5 203.4H558.6V203.7H560.4M566.0 204.0H558.7V204.1H566.0M558.6 203.6H557.3V204.0H558.7M566.0 204.2H559.7V204.4H566.0M566.0 204.6H560.8V204.7H566.0M566.0 204.5H558.9V204.6H560.8M559.7 204.3H557.8V204.5H558.9M557.3 203.8H555.2V204.4H557.8M566.0 204.8H558.9V204.9H566.0M558.9 204.8H556.4V205.0H566.0M556.4 204.9H555.7V205.1H566.0M566.0 205.2H558.5V205.3H566.0M558.5 205.3H556.7V205.4H566.0M556.7 205.4H554.2V205.5H566.0M555.7 205.0H553.6V205.4H554.2M555.2 204.1H552.5V205.2H553.6M550.4 200.7H549.4V204.7H552.5M566.0 205.6H559.3V205.7H566.0M566.0 205.8H559.4V205.9H566.0M559.3 205.6H557.1V205.9H559.4M566.0 206.0H558.2V206.1H566.0M558.2 206.0H556.4V206.2H566.0M557.1 205.7H555.3V206.1H556.4M566.0 206.3H561.5V206.4H566.0M566.0 206.5H562.2V206.6H566.0M562.2 206.6H561.1V206.8H566.0M561.5 206.3H560.6V206.7H561.1M566.0 206.9H560.1V207.0H566.0M560.6 206.5H558.9V206.9H560.1M566.0 207.1H561.4V207.2H566.0M566.0 207.0H560.6V207.1H561.4M560.6 207.1H559.7V207.3H566.0M558.9 206.7H558.4V207.2H559.7M566.0 207.4H561.0V207.5H566.0M561.0 207.5H559.3V207.7H566.0M566.0 207.8H561.8V207.9H566.0M566.0 208.0H562.1V208.1H566.0M561.8 207.8H560.6V208.0H562.1M560.6 207.9H558.8V208.1H566.0M559.3 207.6H557.7V208.0H558.8M558.4 207.0H555.8V207.8H557.7M555.3 205.9H553.6V207.4H555.8M566.0 208.3H559.1V208.4H566.0M566.0 208.6H560.6V208.7H566.0M566.0 208.5H559.2V208.7H560.6M566.0 208.8H560.5V208.9H566.0M559.2 208.6H558.4V208.9H560.5M559.1 208.3H557.3V208.7H558.4M566.0 209.2H559.4V209.3H566.0M566.0 209.0H558.5V209.2H559.4M566.0 209.3H558.5V209.4H566.0M558.5 209.4H558.0V209.5H566.0M558.5 209.1H556.9V209.4H558.0M557.3 208.5H556.2V209.3H556.9M566.0 209.5H558.5V209.6H566.0M566.0 209.8H559.2V209.9H566.0M566.0 209.7H558.6V209.9H559.2M558.5 209.6H557.4V209.8H558.6M557.4 209.7H554.7V210.0H566.0M556.2 208.9H553.5V209.9H554.7M553.6 206.7H552.7V209.4H553.5M566.0 210.2H557.8V210.3H566.0M566.0 210.5H560.1V210.5H566.0M566.0 210.4H559.6V210.5H560.1M566.0 210.6H560.0V210.7H566.0M559.6 210.4H559.0V210.7H560.0M566.0 210.8H559.2V211.0H566.0M566.0 211.1H560.2V211.2H566.0M559.2 210.9H558.7V211.2H560.2M559.0 210.6H556.4V211.0H558.7M557.8 210.2H555.4V210.8H556.4M566.0 211.4H560.6V211.5H566.0M560.6 211.5H559.6V211.7H566.0M566.0 211.3H559.2V211.6H559.6M566.0 211.8H558.5V211.9H566.0M559.2 211.4H557.3V211.8H558.5M566.0 212.0H557.1V212.0H566.0M557.3 211.6H555.2V212.0H557.1M555.4 210.5H554.2V211.8H555.2M552.7 208.0H550.9V211.2H554.2M549.4 202.7H545.1V209.6H550.9M566.0 212.2H555.3V212.3H566.0M566.0 212.5H557.5V212.6H566.0M566.0 212.4H556.1V212.5H557.5M555.3 212.2H552.6V212.4H556.1M566.0 212.7H557.5V212.8H566.0M566.0 212.6H554.2V212.7H557.5M554.2 212.7H552.4V212.9H566.0M566.0 212.9H557.5V213.0H566.0M566.0 213.2H557.0V213.3H566.0M557.5 213.0H554.2V213.2H557.0M552.4 212.8H550.4V213.1H554.2M552.6 212.3H549.0V213.0H550.4M566.0 213.4H557.7V213.5H566.0M566.0 213.8H560.0V213.9H566.0M566.0 213.7H558.0V213.8H560.0M557.7 213.5H555.1V213.7H558.0M555.1 213.6H552.5V214.0H566.0M566.0 214.3H559.2V214.4H566.0M566.0 214.2H557.4V214.4H559.2M566.0 214.6H558.5V214.7H566.0M566.0 214.5H557.8V214.7H558.5M557.4 214.3H556.0V214.6H557.8M566.0 214.9H556.8V215.0H566.0M566.0 214.8H555.1V215.0H556.8M555.1 214.9H553.6V215.2H566.0M556.0 214.4H552.7V215.0H553.6M566.0 215.5H556.0V215.6H566.0M566.0 215.4H555.2V215.6H556.0M566.0 215.3H552.2V215.5H555.2M552.2 215.4H550.7V215.7H566.0M552.7 214.7H549.4V215.6H550.7M552.5 213.8H548.2V215.1H549.4M549.0 212.6H542.4V214.5H548.2M545.1 206.1H537.8V213.6H542.4M542.1 193.1H532.9V209.8H537.8M532.9 162.8H526.1V201.5H532.9M529.1 127.9H523.1V182.1H526.1M522.0 100.3H513.0V155.0H523.1" fill="none" stroke="#000" stroke-width="0.55"/>
<text transform="translate(574.8 222) rotate(-90)" font-size="6.8" text-anchor="end" fill="#000">KU_rep2</text>
<text transform="translate(588.8 222) rotate(-90)" font-size="6.8" text-anchor="end" fill="#000">KU_rep1</text>
<text transform="translate(603.7 222) rotate(-90)" font-size="6.8" text-anchor="end" fill="#000">KU_rep4</text>
<text transform="translate(618.2 222) rotate(-90)" font-size="6.8" text-anchor="end" fill="#000">KU_rep3</text>
<text transform="translate(632.6 222) rotate(-90)" font-size="6.8" text-anchor="end" fill="#000">DMSO_rep2</text>
<text transform="translate(647.6 222) rotate(-90)" font-size="6.8" text-anchor="end" fill="#000">DMSO_rep1</text>
<text transform="translate(662 222) rotate(-90)" font-size="6.8" text-anchor="end" fill="#000">DMSO_rep4</text>
<text transform="translate(676.9 222) rotate(-90)" font-size="6.8" text-anchor="end" fill="#000">DMSO_rep3</text>
<rect x="223.4" y="300.1" width="64.6" height="208.4" fill="#EBEBEB"/>
<line x1="223.4" y1="306.3" x2="288" y2="306.3" stroke="#FFFFFF" stroke-width="0.9"/>
<line x1="223.4" y1="316.62" x2="288" y2="316.62" stroke="#FFFFFF" stroke-width="0.9"/>
<line x1="223.4" y1="326.94" x2="288" y2="326.94" stroke="#FFFFFF" stroke-width="0.9"/>
<line x1="223.4" y1="337.26" x2="288" y2="337.26" stroke="#FFFFFF" stroke-width="0.9"/>
<line x1="223.4" y1="347.58" x2="288" y2="347.58" stroke="#FFFFFF" stroke-width="0.9"/>
<line x1="223.4" y1="357.9" x2="288" y2="357.9" stroke="#FFFFFF" stroke-width="0.9"/>
<line x1="223.4" y1="368.22" x2="288" y2="368.22" stroke="#FFFFFF" stroke-width="0.9"/>
<line x1="223.4" y1="378.54" x2="288" y2="378.54" stroke="#FFFFFF" stroke-width="0.9"/>
<line x1="223.4" y1="388.86" x2="288" y2="388.86" stroke="#FFFFFF" stroke-width="0.9"/>
<line x1="223.4" y1="399.18" x2="288" y2="399.18" stroke="#FFFFFF" stroke-width="0.9"/>
<line x1="223.4" y1="409.5" x2="288" y2="409.5" stroke="#FFFFFF" stroke-width="0.9"/>
<line x1="223.4" y1="419.82" x2="288" y2="419.82" stroke="#FFFFFF" stroke-width="0.9"/>
<line x1="223.4" y1="430.14" x2="288" y2="430.14" stroke="#FFFFFF" stroke-width="0.9"/>
<line x1="223.4" y1="440.46" x2="288" y2="440.46" stroke="#FFFFFF" stroke-width="0.9"/>
<line x1="223.4" y1="450.78" x2="288" y2="450.78" stroke="#FFFFFF" stroke-width="0.9"/>
<line x1="223.4" y1="461.1" x2="288" y2="461.1" stroke="#FFFFFF" stroke-width="0.9"/>
<line x1="223.4" y1="471.42" x2="288" y2="471.42" stroke="#FFFFFF" stroke-width="0.9"/>
<line x1="223.4" y1="481.74" x2="288" y2="481.74" stroke="#FFFFFF" stroke-width="0.9"/>
<line x1="223.4" y1="492.06" x2="288" y2="492.06" stroke="#FFFFFF" stroke-width="0.9"/>
<line x1="223.4" y1="502.38" x2="288" y2="502.38" stroke="#FFFFFF" stroke-width="0.9"/>
<line x1="235.5" y1="300.1" x2="235.5" y2="508.5" stroke="#FFFFFF" stroke-width="0.9"/>
<line x1="255.8" y1="300.1" x2="255.8" y2="508.5" stroke="#FFFFFF" stroke-width="0.9"/>
<line x1="275.9" y1="300.1" x2="275.9" y2="508.5" stroke="#FFFFFF" stroke-width="0.9"/>
<line x1="221.4" y1="306.3" x2="223.4" y2="306.3" stroke="#333" stroke-width="0.7"/>
<text x="220.9" y="308.89" font-size="7.4" fill="#4D4D4D" text-anchor="end">asymmetric synapse</text>
<line x1="221.4" y1="316.62" x2="223.4" y2="316.62" stroke="#333" stroke-width="0.7"/>
<text x="220.9" y="319.21" font-size="7.4" fill="#4D4D4D" text-anchor="end">postsynaptic density</text>
<line x1="221.4" y1="326.94" x2="223.4" y2="326.94" stroke="#333" stroke-width="0.7"/>
<text x="220.9" y="329.53" font-size="7.4" fill="#4D4D4D" text-anchor="end">postsynaptic specialization</text>
<line x1="221.4" y1="337.26" x2="223.4" y2="337.26" stroke="#333" stroke-width="0.7"/>
<text x="220.9" y="339.85" font-size="7.4" fill="#4D4D4D" text-anchor="end">neuron to neuron synapse</text>
<line x1="221.4" y1="347.58" x2="223.4" y2="347.58" stroke="#333" stroke-width="0.7"/>
<text x="220.9" y="350.17" font-size="7.4" fill="#4D4D4D" text-anchor="end">synapse organization</text>
<line x1="221.4" y1="357.9" x2="223.4" y2="357.9" stroke="#333" stroke-width="0.7"/>
<text x="220.9" y="360.49" font-size="7.4" fill="#4D4D4D" text-anchor="end">cell cortex</text>
<line x1="221.4" y1="368.22" x2="223.4" y2="368.22" stroke="#333" stroke-width="0.7"/>
<text x="220.9" y="370.81" font-size="7.4" fill="#4D4D4D" text-anchor="end">axonogenesis</text>
<line x1="221.4" y1="378.54" x2="223.4" y2="378.54" stroke="#333" stroke-width="0.7"/>
<text x="220.9" y="381.13" font-size="7.4" fill="#4D4D4D" text-anchor="end">cytosolic ribosome</text>
<line x1="221.4" y1="388.86" x2="223.4" y2="388.86" stroke="#333" stroke-width="0.7"/>
<text x="220.9" y="391.45" font-size="7.4" fill="#4D4D4D" text-anchor="end">axon development</text>
<line x1="221.4" y1="399.18" x2="223.4" y2="399.18" stroke="#333" stroke-width="0.7"/>
<text x="220.9" y="401.77" font-size="7.4" fill="#4D4D4D" text-anchor="end">regulation of cell morphogenesis involved in differentiation</text>
<line x1="221.4" y1="409.5" x2="223.4" y2="409.5" stroke="#333" stroke-width="0.7"/>
<text x="220.9" y="412.09" font-size="7.4" fill="#4D4D4D" text-anchor="end">regulation of synaptic plasticity</text>
<line x1="221.4" y1="419.82" x2="223.4" y2="419.82" stroke="#333" stroke-width="0.7"/>
<text x="220.9" y="422.41" font-size="7.4" fill="#4D4D4D" text-anchor="end">neuron projection extension</text>
<line x1="221.4" y1="430.14" x2="223.4" y2="430.14" stroke="#333" stroke-width="0.7"/>
<text x="220.9" y="432.73" font-size="7.4" fill="#4D4D4D" text-anchor="end">regulation of axonogenesis</text>
<line x1="221.4" y1="440.46" x2="223.4" y2="440.46" stroke="#333" stroke-width="0.7"/>
<text x="220.9" y="443.05" font-size="7.4" fill="#4D4D4D" text-anchor="end">actin cytoskeleton</text>
<line x1="221.4" y1="450.78" x2="223.4" y2="450.78" stroke="#333" stroke-width="0.7"/>
<text x="220.9" y="453.37" font-size="7.4" fill="#4D4D4D" text-anchor="end">postsynaptic membrane</text>
<line x1="221.4" y1="461.1" x2="223.4" y2="461.1" stroke="#333" stroke-width="0.7"/>
<text x="220.9" y="463.69" font-size="7.4" fill="#4D4D4D" text-anchor="end">synaptic membrane</text>
<line x1="221.4" y1="471.42" x2="223.4" y2="471.42" stroke="#333" stroke-width="0.7"/>
<text x="220.9" y="474.01" font-size="7.4" fill="#4D4D4D" text-anchor="end">ribosomal subunit</text>
<line x1="221.4" y1="481.74" x2="223.4" y2="481.74" stroke="#333" stroke-width="0.7"/>
<text x="220.9" y="484.33" font-size="7.4" fill="#4D4D4D" text-anchor="end">developmental growth involved in morphogenesis</text>
<line x1="221.4" y1="492.06" x2="223.4" y2="492.06" stroke="#333" stroke-width="0.7"/>
<text x="220.9" y="494.65" font-size="7.4" fill="#4D4D4D" text-anchor="end">cytosolic large ribosomal subunit</text>
<line x1="221.4" y1="502.38" x2="223.4" y2="502.38" stroke="#333" stroke-width="0.7"/>
<text x="220.9" y="504.97" font-size="7.4" fill="#4D4D4D" text-anchor="end">neuromuscular process</text>
<line x1="235.5" y1="508.5" x2="235.5" y2="510.5" stroke="#333" stroke-width="0.7"/>
<text x="235.5" y="516.29" font-size="7.4" fill="#4D4D4D" text-anchor="middle">ABS</text>
<line x1="255.8" y1="508.5" x2="255.8" y2="510.5" stroke="#333" stroke-width="0.7"/>
<text x="255.8" y="516.29" font-size="7.4" fill="#4D4D4D" text-anchor="middle">DW</text>
<line x1="275.9" y1="508.5" x2="275.9" y2="510.5" stroke="#333" stroke-width="0.7"/>
<text x="275.9" y="516.29" font-size="7.4" fill="#4D4D4D" text-anchor="middle">UP</text>
<circle cx="235.5" cy="306.3" r="3.3" fill="#54adf2" stroke="#1e1e1e" stroke-width="0.55" stroke-opacity="0.75"/>
<circle cx="255.8" cy="306.3" r="3.05" fill="#54adf2" stroke="#1e1e1e" stroke-width="0.55" stroke-opacity="0.75"/>
<circle cx="275.9" cy="306.3" r="1.9" fill="#16304a" stroke="#1e1e1e" stroke-width="0.55" stroke-opacity="0.75"/>
<circle cx="235.5" cy="316.62" r="3.3" fill="#54adf2" stroke="#1e1e1e" stroke-width="0.55" stroke-opacity="0.75"/>
<circle cx="255.8" cy="316.62" r="3.05" fill="#54adf2" stroke="#1e1e1e" stroke-width="0.55" stroke-opacity="0.75"/>
<circle cx="275.9" cy="316.62" r="1.9" fill="#16304a" stroke="#1e1e1e" stroke-width="0.55" stroke-opacity="0.75"/>
<circle cx="235.5" cy="326.94" r="3.3" fill="#54adf2" stroke="#1e1e1e" stroke-width="0.55" stroke-opacity="0.75"/>
<circle cx="255.8" cy="326.94" r="3.05" fill="#54adf2" stroke="#1e1e1e" stroke-width="0.55" stroke-opacity="0.75"/>
<circle cx="275.9" cy="326.94" r="1.9" fill="#16304a" stroke="#1e1e1e" stroke-width="0.55" stroke-opacity="0.75"/>
<circle cx="235.5" cy="337.26" r="3.3" fill="#54adf2" stroke="#1e1e1e" stroke-width="0.55" stroke-opacity="0.75"/>
<circle cx="255.8" cy="337.26" r="3.05" fill="#54adf2" stroke="#1e1e1e" stroke-width="0.55" stroke-opacity="0.75"/>
<circle cx="275.9" cy="337.26" r="1.9" fill="#16304a" stroke="#1e1e1e" stroke-width="0.55" stroke-opacity="0.75"/>
<circle cx="235.5" cy="347.58" r="3.3" fill="#3875a6" stroke="#1e1e1e" stroke-width="0.55" stroke-opacity="0.75"/>
<circle cx="255.8" cy="347.58" r="2.95" fill="#3875a6" stroke="#1e1e1e" stroke-width="0.55" stroke-opacity="0.75"/>
<circle cx="275.9" cy="347.58" r="1.9" fill="#16304a" stroke="#1e1e1e" stroke-width="0.55" stroke-opacity="0.75"/>
<circle cx="235.5" cy="357.9" r="2.55" fill="#29577e" stroke="#1e1e1e" stroke-width="0.55" stroke-opacity="0.75"/>
<circle cx="255.8" cy="357.9" r="2.5" fill="#29577e" stroke="#1e1e1e" stroke-width="0.55" stroke-opacity="0.75"/>
<rect x="275.15" y="357.15" width="1.5" height="1.5" fill="#2a2a2a"/>
<circle cx="235.5" cy="368.22" r="3.05" fill="#254f74" stroke="#1e1e1e" stroke-width="0.55" stroke-opacity="0.75"/>
<circle cx="255.8" cy="368.22" r="2.95" fill="#254f74" stroke="#1e1e1e" stroke-width="0.55" stroke-opacity="0.75"/>
<rect x="275.15" y="367.47" width="1.5" height="1.5" fill="#2a2a2a"/>
<circle cx="235.5" cy="378.54" r="2.05" fill="#29577e" stroke="#1e1e1e" stroke-width="0.55" stroke-opacity="0.75"/>
<circle cx="255.8" cy="378.54" r="1.95" fill="#29577e" stroke="#1e1e1e" stroke-width="0.55" stroke-opacity="0.75"/>
<rect x="275.15" y="377.79" width="1.5" height="1.5" fill="#2a2a2a"/>
<circle cx="235.5" cy="388.86" r="3.2" fill="#254f74" stroke="#1e1e1e" stroke-width="0.55" stroke-opacity="0.75"/>
<circle cx="255.8" cy="388.86" r="3.05" fill="#254f74" stroke="#1e1e1e" stroke-width="0.55" stroke-opacity="0.75"/>
<rect x="275.15" y="388.11" width="1.5" height="1.5" fill="#2a2a2a"/>
<circle cx="235.5" cy="399.18" r="2.85" fill="#29577e" stroke="#1e1e1e" stroke-width="0.55" stroke-opacity="0.75"/>
<circle cx="255.8" cy="399.18" r="2.7" fill="#29577e" stroke="#1e1e1e" stroke-width="0.55" stroke-opacity="0.75"/>
<rect x="275.15" y="398.43" width="1.5" height="1.5" fill="#2a2a2a"/>
<circle cx="235.5" cy="409.5" r="2.55" fill="#29577e" stroke="#1e1e1e" stroke-width="0.55" stroke-opacity="0.75"/>
<circle cx="255.8" cy="409.5" r="2.45" fill="#29577e" stroke="#1e1e1e" stroke-width="0.55" stroke-opacity="0.75"/>
<rect x="275.15" y="408.75" width="1.5" height="1.5" fill="#2a2a2a"/>
<circle cx="235.5" cy="419.82" r="2.45" fill="#29577e" stroke="#1e1e1e" stroke-width="0.55" stroke-opacity="0.75"/>
<circle cx="255.8" cy="419.82" r="2.35" fill="#29577e" stroke="#1e1e1e" stroke-width="0.55" stroke-opacity="0.75"/>
<rect x="275.15" y="419.07" width="1.5" height="1.5" fill="#2a2a2a"/>
<circle cx="235.5" cy="430.14" r="2.55" fill="#29577e" stroke="#1e1e1e" stroke-width="0.55" stroke-opacity="0.75"/>
<circle cx="255.8" cy="430.14" r="2.45" fill="#29577e" stroke="#1e1e1e" stroke-width="0.55" stroke-opacity="0.75"/>
<rect x="275.15" y="429.39" width="1.5" height="1.5" fill="#2a2a2a"/>
<circle cx="235.5" cy="440.46" r="3.05" fill="#254f74" stroke="#1e1e1e" stroke-width="0.55" stroke-opacity="0.75"/>
<circle cx="255.8" cy="440.46" r="2.95" fill="#254f74" stroke="#1e1e1e" stroke-width="0.55" stroke-opacity="0.75"/>
<rect x="275.15" y="439.71" width="1.5" height="1.5" fill="#2a2a2a"/>
<circle cx="235.5" cy="450.78" r="2.75" fill="#29577e" stroke="#1e1e1e" stroke-width="0.55" stroke-opacity="0.75"/>
<circle cx="255.8" cy="450.78" r="2.7" fill="#29577e" stroke="#1e1e1e" stroke-width="0.55" stroke-opacity="0.75"/>
<rect x="275.15" y="450.03" width="1.5" height="1.5" fill="#2a2a2a"/>
<circle cx="235.5" cy="461.1" r="3.3" fill="#2c5e87" stroke="#1e1e1e" stroke-width="0.55" stroke-opacity="0.75"/>
<circle cx="255.8" cy="461.1" r="3.05" fill="#2c5e87" stroke="#1e1e1e" stroke-width="0.55" stroke-opacity="0.75"/>
<circle cx="275.9" cy="461.1" r="1.9" fill="#16304a" stroke="#1e1e1e" stroke-width="0.55" stroke-opacity="0.75"/>
<circle cx="235.5" cy="471.42" r="2.45" fill="#29577e" stroke="#1e1e1e" stroke-width="0.55" stroke-opacity="0.75"/>
<circle cx="255.8" cy="471.42" r="2.35" fill="#29577e" stroke="#1e1e1e" stroke-width="0.55" stroke-opacity="0.75"/>
<rect x="275.15" y="470.67" width="1.5" height="1.5" fill="#2a2a2a"/>
<circle cx="235.5" cy="481.74" r="2.7" fill="#254f74" stroke="#1e1e1e" stroke-width="0.55" stroke-opacity="0.75"/>
<circle cx="255.8" cy="481.74" r="2.55" fill="#254f74" stroke="#1e1e1e" stroke-width="0.55" stroke-opacity="0.75"/>
<rect x="275.15" y="480.99" width="1.5" height="1.5" fill="#2a2a2a"/>
<circle cx="235.5" cy="492.06" r="1.7" fill="#29577e" stroke="#1e1e1e" stroke-width="0.55" stroke-opacity="0.75"/>
<circle cx="255.8" cy="492.06" r="1.55" fill="#29577e" stroke="#1e1e1e" stroke-width="0.55" stroke-opacity="0.75"/>
<rect x="275.15" y="491.31" width="1.5" height="1.5" fill="#2a2a2a"/>
<circle cx="235.5" cy="502.38" r="2.2" fill="#29577e" stroke="#1e1e1e" stroke-width="0.55" stroke-opacity="0.75"/>
<circle cx="255.8" cy="502.38" r="2.05" fill="#29577e" stroke="#1e1e1e" stroke-width="0.55" stroke-opacity="0.75"/>
<rect x="275.15" y="501.63" width="1.5" height="1.5" fill="#2a2a2a"/>
<text x="256" y="528.8" font-size="9.15" fill="#000" text-anchor="middle">Direction KU vs DMSO</text>
<text x="27.72" y="404.4" font-size="9.2" fill="#000" text-anchor="middle" transform="rotate(-90 27.72 404.4)">Biological Term</text>
<text x="295.8" y="358.22" font-size="9.2" fill="#000">value</text>
<rect x="296.1" y="363.1" width="7.7" height="32.4" fill="#F2F2F2"/>
<circle cx="300" cy="367.5" r="0.7" fill="#444"/>
<text x="308.9" y="370.02" font-size="7.2" fill="#000">0</text>
<circle cx="300" cy="375.5" r="2.1" fill="none" stroke="#333" stroke-width="0.6"/>
<text x="308.9" y="378.02" font-size="7.2" fill="#000">50</text>
<circle cx="300" cy="383.2" r="2.75" fill="none" stroke="#333" stroke-width="0.6"/>
<text x="308.9" y="385.72" font-size="7.2" fill="#000">100</text>
<circle cx="300" cy="391.2" r="3.3" fill="none" stroke="#333" stroke-width="0.6"/>
<text x="308.9" y="393.72" font-size="7.2" fill="#000">150</text>
<text x="295.8" y="413.82" font-size="9.2" fill="#000">score</text>
<defs><linearGradient id="gD" x1="0" y1="1" x2="0" y2="0"><stop offset="0" stop-color="#132B43"/><stop offset="0.5" stop-color="#30638F"/><stop offset="1" stop-color="#56B1F7"/></linearGradient><linearGradient id="gE" x1="0" y1="1" x2="0" y2="0"><stop offset="0" stop-color="#2E2A10"/><stop offset="0.33" stop-color="#6B6120"/><stop offset="0.67" stop-color="#AD9A2C"/><stop offset="1" stop-color="#F2CE34"/></linearGradient></defs>
<rect x="295.8" y="419" width="8" height="39.8" fill="url(#gD)"/>
<line x1="295.8" y1="428.7" x2="297.4" y2="428.7" stroke="#fff" stroke-width="0.6"/>
<line x1="302.2" y1="428.7" x2="303.8" y2="428.7" stroke="#fff" stroke-width="0.6"/>
<text x="308.9" y="431.22" font-size="7.2" fill="#000">15</text>
<line x1="295.8" y1="438.7" x2="297.4" y2="438.7" stroke="#fff" stroke-width="0.6"/>
<line x1="302.2" y1="438.7" x2="303.8" y2="438.7" stroke="#fff" stroke-width="0.6"/>
<text x="308.9" y="441.22" font-size="7.2" fill="#000">10</text>
<line x1="295.8" y1="448.7" x2="297.4" y2="448.7" stroke="#fff" stroke-width="0.6"/>
<line x1="302.2" y1="448.7" x2="303.8" y2="448.7" stroke="#fff" stroke-width="0.6"/>
<text x="308.9" y="451.22" font-size="7.2" fill="#000">5</text>
<line x1="295.8" y1="458.8" x2="297.4" y2="458.8" stroke="#fff" stroke-width="0.6"/>
<line x1="302.2" y1="458.8" x2="303.8" y2="458.8" stroke="#fff" stroke-width="0.6"/>
<text x="308.9" y="461.32" font-size="7.2" fill="#000">0</text>
<rect x="574.2" y="313.8" width="69.7" height="192.9" fill="#EBEBEB"/>
<line x1="574.2" y1="319.4" x2="643.9" y2="319.4" stroke="#FFFFFF" stroke-width="0.9"/>
<line x1="574.2" y1="329" x2="643.9" y2="329" stroke="#FFFFFF" stroke-width="0.9"/>
<line x1="574.2" y1="338.59" x2="643.9" y2="338.59" stroke="#FFFFFF" stroke-width="0.9"/>
<line x1="574.2" y1="348.19" x2="643.9" y2="348.19" stroke="#FFFFFF" stroke-width="0.9"/>
<line x1="574.2" y1="357.78" x2="643.9" y2="357.78" stroke="#FFFFFF" stroke-width="0.9"/>
<line x1="574.2" y1="367.38" x2="643.9" y2="367.38" stroke="#FFFFFF" stroke-width="0.9"/>
<line x1="574.2" y1="376.97" x2="643.9" y2="376.97" stroke="#FFFFFF" stroke-width="0.9"/>
<line x1="574.2" y1="386.56" x2="643.9" y2="386.56" stroke="#FFFFFF" stroke-width="0.9"/>
<line x1="574.2" y1="396.16" x2="643.9" y2="396.16" stroke="#FFFFFF" stroke-width="0.9"/>
<line x1="574.2" y1="405.75" x2="643.9" y2="405.75" stroke="#FFFFFF" stroke-width="0.9"/>
<line x1="574.2" y1="415.35" x2="643.9" y2="415.35" stroke="#FFFFFF" stroke-width="0.9"/>
<line x1="574.2" y1="424.94" x2="643.9" y2="424.94" stroke="#FFFFFF" stroke-width="0.9"/>
<line x1="574.2" y1="434.54" x2="643.9" y2="434.54" stroke="#FFFFFF" stroke-width="0.9"/>
<line x1="574.2" y1="444.13" x2="643.9" y2="444.13" stroke="#FFFFFF" stroke-width="0.9"/>
<line x1="574.2" y1="453.73" x2="643.9" y2="453.73" stroke="#FFFFFF" stroke-width="0.9"/>
<line x1="574.2" y1="463.32" x2="643.9" y2="463.32" stroke="#FFFFFF" stroke-width="0.9"/>
<line x1="574.2" y1="472.92" x2="643.9" y2="472.92" stroke="#FFFFFF" stroke-width="0.9"/>
<line x1="574.2" y1="482.51" x2="643.9" y2="482.51" stroke="#FFFFFF" stroke-width="0.9"/>
<line x1="574.2" y1="492.11" x2="643.9" y2="492.11" stroke="#FFFFFF" stroke-width="0.9"/>
<line x1="574.2" y1="501.7" x2="643.9" y2="501.7" stroke="#FFFFFF" stroke-width="0.9"/>
<line x1="587.3" y1="313.8" x2="587.3" y2="506.7" stroke="#FFFFFF" stroke-width="0.9"/>
<line x1="609.1" y1="313.8" x2="609.1" y2="506.7" stroke="#FFFFFF" stroke-width="0.9"/>
<line x1="630.9" y1="313.8" x2="630.9" y2="506.7" stroke="#FFFFFF" stroke-width="0.9"/>
<line x1="572.2" y1="319.4" x2="574.2" y2="319.4" stroke="#333" stroke-width="0.7"/>
<text x="571.6" y="322.13" font-size="7.8" fill="#4D4D4D" text-anchor="end">cytoplasmic vesicle membrane</text>
<line x1="572.2" y1="329" x2="574.2" y2="329" stroke="#333" stroke-width="0.7"/>
<text x="571.6" y="331.73" font-size="7.8" fill="#4D4D4D" text-anchor="end">myelin sheath</text>
<line x1="572.2" y1="338.59" x2="574.2" y2="338.59" stroke="#333" stroke-width="0.7"/>
<text x="571.6" y="341.32" font-size="7.8" fill="#4D4D4D" text-anchor="end">transport vesicle membrane</text>
<line x1="572.2" y1="348.19" x2="574.2" y2="348.19" stroke="#333" stroke-width="0.7"/>
<text x="571.6" y="350.92" font-size="7.8" fill="#4D4D4D" text-anchor="end">mRNA binding</text>
<line x1="572.2" y1="357.78" x2="574.2" y2="357.78" stroke="#333" stroke-width="0.7"/>
<text x="571.6" y="360.51" font-size="7.8" fill="#4D4D4D" text-anchor="end">exocytic vesicle membrane</text>
<line x1="572.2" y1="367.38" x2="574.2" y2="367.38" stroke="#333" stroke-width="0.7"/>
<text x="571.6" y="370.11" font-size="7.8" fill="#4D4D4D" text-anchor="end">synaptic vesicle membrane</text>
<line x1="572.2" y1="376.97" x2="574.2" y2="376.97" stroke="#333" stroke-width="0.7"/>
<text x="571.6" y="379.7" font-size="7.8" fill="#4D4D4D" text-anchor="end">vesicle membrane</text>
<line x1="572.2" y1="386.56" x2="574.2" y2="386.56" stroke="#333" stroke-width="0.7"/>
<text x="571.6" y="389.3" font-size="7.8" fill="#4D4D4D" text-anchor="end">generation of precursor metabolites and energy</text>
<line x1="572.2" y1="396.16" x2="574.2" y2="396.16" stroke="#333" stroke-width="0.7"/>
<text x="571.6" y="398.89" font-size="7.8" fill="#4D4D4D" text-anchor="end">neuron projection terminus</text>
<line x1="572.2" y1="405.75" x2="574.2" y2="405.75" stroke="#333" stroke-width="0.7"/>
<text x="571.6" y="408.49" font-size="7.8" fill="#4D4D4D" text-anchor="end">axon terminus</text>
<line x1="572.2" y1="415.35" x2="574.2" y2="415.35" stroke="#333" stroke-width="0.7"/>
<text x="571.6" y="418.08" font-size="7.8" fill="#4D4D4D" text-anchor="end">monovalent inorganic cation transport</text>
<line x1="572.2" y1="424.94" x2="574.2" y2="424.94" stroke="#333" stroke-width="0.7"/>
<text x="571.6" y="427.68" font-size="7.8" fill="#4D4D4D" text-anchor="end">inner mitochondrial membrane protein complex</text>
<line x1="572.2" y1="434.54" x2="574.2" y2="434.54" stroke="#333" stroke-width="0.7"/>
<text x="571.6" y="437.27" font-size="7.8" fill="#4D4D4D" text-anchor="end">mRNA processing</text>
<line x1="572.2" y1="444.13" x2="574.2" y2="444.13" stroke="#333" stroke-width="0.7"/>
<text x="571.6" y="446.87" font-size="7.8" fill="#4D4D4D" text-anchor="end">mitochondrial inner membrane</text>
<line x1="572.2" y1="453.73" x2="574.2" y2="453.73" stroke="#333" stroke-width="0.7"/>
<text x="571.6" y="456.46" font-size="7.8" fill="#4D4D4D" text-anchor="end">organelle inner membrane</text>
<line x1="572.2" y1="463.32" x2="574.2" y2="463.32" stroke="#333" stroke-width="0.7"/>
<text x="571.6" y="466.06" font-size="7.8" fill="#4D4D4D" text-anchor="end">regulation of lamellipodium organization</text>
<line x1="572.2" y1="472.92" x2="574.2" y2="472.92" stroke="#333" stroke-width="0.7"/>
<text x="571.6" y="475.65" font-size="7.8" fill="#4D4D4D" text-anchor="end">positive regulation of lamellipodium organization</text>
<line x1="572.2" y1="482.51" x2="574.2" y2="482.51" stroke="#333" stroke-width="0.7"/>
<text x="571.6" y="485.25" font-size="7.8" fill="#4D4D4D" text-anchor="end">ATP metabolic process</text>
<line x1="572.2" y1="492.11" x2="574.2" y2="492.11" stroke="#333" stroke-width="0.7"/>
<text x="571.6" y="494.84" font-size="7.8" fill="#4D4D4D" text-anchor="end">energy derivation by oxidation of organic compounds</text>
<line x1="572.2" y1="501.7" x2="574.2" y2="501.7" stroke="#333" stroke-width="0.7"/>
<text x="571.6" y="504.44" font-size="7.8" fill="#4D4D4D" text-anchor="end">RNA splicing</text>
<line x1="587.3" y1="506.7" x2="587.3" y2="508.7" stroke="#333" stroke-width="0.7"/>
<text x="587.3" y="515.33" font-size="7.8" fill="#4D4D4D" text-anchor="middle">ABS</text>
<line x1="609.1" y1="506.7" x2="609.1" y2="508.7" stroke="#333" stroke-width="0.7"/>
<text x="609.1" y="515.33" font-size="7.8" fill="#4D4D4D" text-anchor="middle">DW</text>
<line x1="630.9" y1="506.7" x2="630.9" y2="508.7" stroke="#333" stroke-width="0.7"/>
<text x="630.9" y="515.33" font-size="7.8" fill="#4D4D4D" text-anchor="middle">UP</text>
<circle cx="587.3" cy="319.4" r="3.2" fill="#7A6F22" stroke="#1e1e1e" stroke-width="0.55" stroke-opacity="0.75"/>
<rect x="608.35" y="318.65" width="1.5" height="1.5" fill="#2a2a2a"/>
<circle cx="630.9" cy="319.4" r="2.3" fill="#A09232" stroke="#1e1e1e" stroke-width="0.55" stroke-opacity="0.75"/>
<circle cx="587.3" cy="329" r="3" fill="#F5E040" stroke="#1e1e1e" stroke-width="0.55" stroke-opacity="0.75"/>
<circle cx="609.1" cy="329" r="2.65" fill="#857A25" stroke="#1e1e1e" stroke-width="0.55" stroke-opacity="0.75"/>
<circle cx="630.9" cy="329" r="2.3" fill="#EBD83A" stroke="#1e1e1e" stroke-width="0.55" stroke-opacity="0.75"/>
<circle cx="587.3" cy="338.59" r="2.5" fill="#9A8E30" stroke="#1e1e1e" stroke-width="0.55" stroke-opacity="0.75"/>
<rect x="608.35" y="337.84" width="1.5" height="1.5" fill="#2a2a2a"/>
<circle cx="630.9" cy="338.59" r="2" fill="#8A7F28" stroke="#1e1e1e" stroke-width="0.55" stroke-opacity="0.75"/>
<circle cx="587.3" cy="348.19" r="3.1" fill="#B5A838" stroke="#1e1e1e" stroke-width="0.55" stroke-opacity="0.75"/>
<circle cx="609.1" cy="348.19" r="2.9" fill="#5E561A" stroke="#1e1e1e" stroke-width="0.55" stroke-opacity="0.75"/>
<circle cx="630.9" cy="348.19" r="2.4" fill="#D8C838" stroke="#1e1e1e" stroke-width="0.55" stroke-opacity="0.75"/>
<circle cx="587.3" cy="357.78" r="2.3" fill="#857A25" stroke="#1e1e1e" stroke-width="0.55" stroke-opacity="0.75"/>
<rect x="608.35" y="357.03" width="1.5" height="1.5" fill="#2a2a2a"/>
<circle cx="630.9" cy="357.78" r="1.85" fill="#857A25" stroke="#1e1e1e" stroke-width="0.55" stroke-opacity="0.75"/>
<circle cx="587.3" cy="367.38" r="2.3" fill="#857A25" stroke="#1e1e1e" stroke-width="0.55" stroke-opacity="0.75"/>
<rect x="608.35" y="366.62" width="1.5" height="1.5" fill="#2a2a2a"/>
<circle cx="630.9" cy="367.38" r="1.85" fill="#8A8028" stroke="#1e1e1e" stroke-width="0.55" stroke-opacity="0.75"/>
<circle cx="587.3" cy="376.97" r="3" fill="#7A7022" stroke="#1e1e1e" stroke-width="0.55" stroke-opacity="0.75"/>
<rect x="608.35" y="376.22" width="1.5" height="1.5" fill="#2a2a2a"/>
<circle cx="630.9" cy="376.97" r="2.3" fill="#958A2E" stroke="#1e1e1e" stroke-width="0.55" stroke-opacity="0.75"/>
<circle cx="587.3" cy="386.56" r="3.2" fill="#655C1D" stroke="#1e1e1e" stroke-width="0.55" stroke-opacity="0.75"/>
<rect x="608.35" y="385.81" width="1.5" height="1.5" fill="#2a2a2a"/>
<circle cx="630.9" cy="386.56" r="2.5" fill="#8A7F2A" stroke="#1e1e1e" stroke-width="0.55" stroke-opacity="0.75"/>
<circle cx="587.3" cy="396.16" r="2.65" fill="#7A7022" stroke="#1e1e1e" stroke-width="0.55" stroke-opacity="0.75"/>
<rect x="608.35" y="395.41" width="1.5" height="1.5" fill="#2a2a2a"/>
<circle cx="630.9" cy="396.16" r="2" fill="#857A28" stroke="#1e1e1e" stroke-width="0.55" stroke-opacity="0.75"/>
<circle cx="587.3" cy="405.75" r="2.5" fill="#756B20" stroke="#1e1e1e" stroke-width="0.55" stroke-opacity="0.75"/>
<rect x="608.35" y="405" width="1.5" height="1.5" fill="#2a2a2a"/>
<circle cx="630.9" cy="405.75" r="2" fill="#857A28" stroke="#1e1e1e" stroke-width="0.55" stroke-opacity="0.75"/>
<circle cx="587.3" cy="415.35" r="3.45" fill="#6A611E" stroke="#1e1e1e" stroke-width="0.55" stroke-opacity="0.75"/>
<rect x="608.35" y="414.6" width="1.5" height="1.5" fill="#2a2a2a"/>
<circle cx="630.9" cy="415.35" r="2.7" fill="#8F852E" stroke="#1e1e1e" stroke-width="0.55" stroke-opacity="0.75"/>
<circle cx="587.3" cy="424.94" r="2.25" fill="#7D7324" stroke="#1e1e1e" stroke-width="0.55" stroke-opacity="0.75"/>
<rect x="608.35" y="424.19" width="1.5" height="1.5" fill="#2a2a2a"/>
<circle cx="630.9" cy="424.94" r="1.8" fill="#857A28" stroke="#1e1e1e" stroke-width="0.55" stroke-opacity="0.75"/>
<circle cx="587.3" cy="434.54" r="3.3" fill="#857A28" stroke="#1e1e1e" stroke-width="0.55" stroke-opacity="0.75"/>
<rect x="608.35" y="433.79" width="1.5" height="1.5" fill="#2a2a2a"/>
<circle cx="630.9" cy="434.54" r="2.5" fill="#8A7F2A" stroke="#1e1e1e" stroke-width="0.55" stroke-opacity="0.75"/>
<circle cx="587.3" cy="444.13" r="3.2" fill="#857A28" stroke="#1e1e1e" stroke-width="0.55" stroke-opacity="0.75"/>
<rect x="608.35" y="443.38" width="1.5" height="1.5" fill="#2a2a2a"/>
<circle cx="630.9" cy="444.13" r="2.4" fill="#8A7F2A" stroke="#1e1e1e" stroke-width="0.55" stroke-opacity="0.75"/>
<circle cx="587.3" cy="453.73" r="3.3" fill="#8A7F2A" stroke="#1e1e1e" stroke-width="0.55" stroke-opacity="0.75"/>
<rect x="608.35" y="452.98" width="1.5" height="1.5" fill="#2a2a2a"/>
<circle cx="630.9" cy="453.73" r="2.4" fill="#8A7F2A" stroke="#1e1e1e" stroke-width="0.55" stroke-opacity="0.75"/>
<circle cx="587.3" cy="463.32" r="1.8" fill="#6F661F" stroke="#1e1e1e" stroke-width="0.55" stroke-opacity="0.75"/>
<rect x="608.35" y="462.57" width="1.5" height="1.5" fill="#2a2a2a"/>
<circle cx="630.9" cy="463.32" r="1.7" fill="#7F7526" stroke="#1e1e1e" stroke-width="0.55" stroke-opacity="0.75"/>
<circle cx="587.3" cy="472.92" r="1.8" fill="#6F661F" stroke="#1e1e1e" stroke-width="0.55" stroke-opacity="0.75"/>
<rect x="608.35" y="472.17" width="1.5" height="1.5" fill="#2a2a2a"/>
<circle cx="630.9" cy="472.92" r="1.55" fill="#7F7526" stroke="#1e1e1e" stroke-width="0.55" stroke-opacity="0.75"/>
<circle cx="587.3" cy="482.51" r="2.7" fill="#756B20" stroke="#1e1e1e" stroke-width="0.55" stroke-opacity="0.75"/>
<rect x="608.35" y="481.76" width="1.5" height="1.5" fill="#2a2a2a"/>
<circle cx="630.9" cy="482.51" r="2.1" fill="#857A28" stroke="#1e1e1e" stroke-width="0.55" stroke-opacity="0.75"/>
<circle cx="587.3" cy="492.11" r="2.7" fill="#6F661F" stroke="#1e1e1e" stroke-width="0.55" stroke-opacity="0.75"/>
<rect x="608.35" y="491.36" width="1.5" height="1.5" fill="#2a2a2a"/>
<circle cx="630.9" cy="492.11" r="2.1" fill="#857A28" stroke="#1e1e1e" stroke-width="0.55" stroke-opacity="0.75"/>
<circle cx="587.3" cy="501.7" r="3.1" fill="#6F661F" stroke="#1e1e1e" stroke-width="0.55" stroke-opacity="0.75"/>
<rect x="608.35" y="500.95" width="1.5" height="1.5" fill="#2a2a2a"/>
<circle cx="630.9" cy="501.7" r="2.4" fill="#857A28" stroke="#1e1e1e" stroke-width="0.55" stroke-opacity="0.75"/>
<text x="609.1" y="528.68" font-size="9.66" fill="#000" text-anchor="middle">Direction KU vs DMSO</text>
<text x="386.12" y="410.3" font-size="9.76" fill="#000" text-anchor="middle" transform="rotate(-90 386.12 410.3)">Biological Term</text>
<text x="650.3" y="365.89" font-size="9.7" fill="#000">value</text>
<rect x="650" y="371.6" width="8.9" height="41.8" fill="#F2F2F2"/>
<circle cx="654.4" cy="375.6" r="0.7" fill="#444"/>
<text x="663.6" y="378.26" font-size="7.6" fill="#000">0</text>
<circle cx="654.4" cy="384" r="1.9" fill="none" stroke="#333" stroke-width="0.6"/>
<text x="663.6" y="386.66" font-size="7.6" fill="#000">25</text>
<circle cx="654.4" cy="392.6" r="2.35" fill="none" stroke="#333" stroke-width="0.6"/>
<text x="663.6" y="395.26" font-size="7.6" fill="#000">50</text>
<circle cx="654.4" cy="400.8" r="2.95" fill="none" stroke="#333" stroke-width="0.6"/>
<text x="663.6" y="403.46" font-size="7.6" fill="#000">75</text>
<circle cx="654.4" cy="409.4" r="3.3" fill="none" stroke="#333" stroke-width="0.6"/>
<text x="663.6" y="412.06" font-size="7.6" fill="#000">100</text>
<text x="651.8" y="425.29" font-size="9.7" fill="#000">score</text>
<rect x="650.1" y="427.2" width="24.6" height="46.3" fill="#F2F2F2"/>
<rect x="653.6" y="428.9" width="8.4" height="39.5" fill="url(#gE)"/>
<line x1="653.6" y1="432.2" x2="655.2" y2="432.2" stroke="#fff" stroke-width="0.6"/>
<line x1="660.4" y1="432.2" x2="662" y2="432.2" stroke="#fff" stroke-width="0.6"/>
<text x="667.1" y="434.86" font-size="7.6" fill="#000">6</text>
<line x1="653.6" y1="444.3" x2="655.2" y2="444.3" stroke="#fff" stroke-width="0.6"/>
<line x1="660.4" y1="444.3" x2="662" y2="444.3" stroke="#fff" stroke-width="0.6"/>
<text x="667.1" y="446.96" font-size="7.6" fill="#000">4</text>
<line x1="653.6" y1="456.3" x2="655.2" y2="456.3" stroke="#fff" stroke-width="0.6"/>
<line x1="660.4" y1="456.3" x2="662" y2="456.3" stroke="#fff" stroke-width="0.6"/>
<text x="667.1" y="458.96" font-size="7.6" fill="#000">2</text>
<line x1="653.6" y1="468.4" x2="655.2" y2="468.4" stroke="#fff" stroke-width="0.6"/>
<line x1="660.4" y1="468.4" x2="662" y2="468.4" stroke="#fff" stroke-width="0.6"/>
<text x="667.1" y="471.06" font-size="7.6" fill="#000">0</text>
<rect x="49.8" y="584.5" width="95.7" height="232.6" fill="#EBEBEB"/>
<line x1="49.8" y1="614.25" x2="145.5" y2="614.25" stroke="#F5F5F5" stroke-width="0.55"/>
<line x1="49.8" y1="682.15" x2="145.5" y2="682.15" stroke="#F5F5F5" stroke-width="0.55"/>
<line x1="49.8" y1="750.05" x2="145.5" y2="750.05" stroke="#F5F5F5" stroke-width="0.55"/>
<line x1="49.8" y1="648.2" x2="145.5" y2="648.2" stroke="#FFFFFF" stroke-width="1"/>
<line x1="49.8" y1="716.1" x2="145.5" y2="716.1" stroke="#FFFFFF" stroke-width="1"/>
<line x1="49.8" y1="784" x2="145.5" y2="784" stroke="#FFFFFF" stroke-width="1"/>
<line x1="75.8" y1="584.5" x2="75.8" y2="817.1" stroke="#FFFFFF" stroke-width="1"/>
<line x1="119.2" y1="584.5" x2="119.2" y2="817.1" stroke="#FFFFFF" stroke-width="1"/>
<line x1="47.2" y1="648.2" x2="49.8" y2="648.2" stroke="#333" stroke-width="0.8"/>
<text x="44.6" y="650.93" font-size="7.8" fill="#4D4D4D" text-anchor="end">1</text>
<line x1="47.2" y1="716.1" x2="49.8" y2="716.1" stroke="#333" stroke-width="0.8"/>
<text x="44.6" y="718.83" font-size="7.8" fill="#4D4D4D" text-anchor="end">0</text>
<line x1="47.2" y1="784" x2="49.8" y2="784" stroke="#333" stroke-width="0.8"/>
<text x="44.6" y="786.73" font-size="7.8" fill="#4D4D4D" text-anchor="end">-1</text>
<line x1="75.8" y1="817.1" x2="75.8" y2="819.7" stroke="#333" stroke-width="0.8"/>
<text x="75.8" y="827.59" font-size="7.4" fill="#4D4D4D" text-anchor="middle">DMSO</text>
<line x1="119.2" y1="817.1" x2="119.2" y2="819.7" stroke="#333" stroke-width="0.8"/>
<text x="119.2" y="827.59" font-size="7.4" fill="#4D4D4D" text-anchor="middle">KU</text>
<text x="97.65" y="839.3" font-size="9.43" fill="#000" text-anchor="middle">description</text>
<text x="34.8" y="700.4" font-size="9.42" fill="#000" text-anchor="middle" transform="rotate(-90 34.8 700.4)">normalized gene expression (Zscore)</text>
<text x="49.6" y="566.82" font-size="11.2" fill="#000">Grik1</text>
<text x="59.2" y="580.2" font-size="9.15" fill="#000" textLength="93.1" lengthAdjust="spacingAndGlyphs">Log2 fold change=0,22</text>
<circle cx="115.2" cy="595" r="2" fill="#00BFC4"/>
<circle cx="119.2" cy="656.1" r="2" fill="#00BFC4"/>
<circle cx="121.6" cy="709.9" r="2" fill="#00BFC4"/>
<circle cx="118.3" cy="738.6" r="2" fill="#00BFC4"/>
<circle cx="74.9" cy="694.8" r="2" fill="#F8766D"/>
<circle cx="71.6" cy="758.7" r="2" fill="#F8766D"/>
<circle cx="79.4" cy="767.3" r="2" fill="#F8766D"/>
<circle cx="71.7" cy="807.5" r="2" fill="#F8766D"/>
<text x="131.3" y="594.79" font-size="9.4" fill="#00BFC4" text-anchor="middle">KU-2</text>
<text x="116.2" y="666.99" font-size="9.4" fill="#00BFC4" text-anchor="middle">KU-4</text>
<text x="116.2" y="721.29" font-size="9.4" fill="#00BFC4" text-anchor="middle">KU-5</text>
<text x="116.2" y="749.79" font-size="9.4" fill="#00BFC4" text-anchor="middle">KU-3</text>
<text x="72.8" y="705.99" font-size="9.4" fill="#F8766D" text-anchor="middle">DMSO-7</text>
<text x="72.8" y="754.69" font-size="9.4" fill="#F8766D" text-anchor="middle">DMSO-5</text>
<text x="78.7" y="778.29" font-size="9.4" fill="#F8766D" text-anchor="middle">DMSO-4</text>
<text x="71.7" y="814.49" font-size="9.4" fill="#F8766D" text-anchor="middle">DMSO-8</text>
<rect x="233.3" y="584.6" width="89.2" height="233.2" fill="#EBEBEB"/>
<line x1="233.3" y1="600.2" x2="322.5" y2="600.2" stroke="#F5F5F5" stroke-width="0.55"/>
<line x1="233.3" y1="643.8" x2="322.5" y2="643.8" stroke="#F5F5F5" stroke-width="0.55"/>
<line x1="233.3" y1="687.4" x2="322.5" y2="687.4" stroke="#F5F5F5" stroke-width="0.55"/>
<line x1="233.3" y1="731" x2="322.5" y2="731" stroke="#F5F5F5" stroke-width="0.55"/>
<line x1="233.3" y1="774.6" x2="322.5" y2="774.6" stroke="#F5F5F5" stroke-width="0.55"/>
<line x1="233.3" y1="622" x2="322.5" y2="622" stroke="#FFFFFF" stroke-width="1"/>
<line x1="233.3" y1="665.6" x2="322.5" y2="665.6" stroke="#FFFFFF" stroke-width="1"/>
<line x1="233.3" y1="709.2" x2="322.5" y2="709.2" stroke="#FFFFFF" stroke-width="1"/>
<line x1="233.3" y1="752.8" x2="322.5" y2="752.8" stroke="#FFFFFF" stroke-width="1"/>
<line x1="233.3" y1="796.4" x2="322.5" y2="796.4" stroke="#FFFFFF" stroke-width="1"/>
<line x1="258.3" y1="584.6" x2="258.3" y2="817.8" stroke="#FFFFFF" stroke-width="1"/>
<line x1="298.4" y1="584.6" x2="298.4" y2="817.8" stroke="#FFFFFF" stroke-width="1"/>
<line x1="230.7" y1="622" x2="233.3" y2="622" stroke="#333" stroke-width="0.8"/>
<text x="229.2" y="624.73" font-size="7.8" fill="#4D4D4D" text-anchor="end">1.0</text>
<line x1="230.7" y1="665.6" x2="233.3" y2="665.6" stroke="#333" stroke-width="0.8"/>
<text x="229.2" y="668.33" font-size="7.8" fill="#4D4D4D" text-anchor="end">0.5</text>
<line x1="230.7" y1="709.2" x2="233.3" y2="709.2" stroke="#333" stroke-width="0.8"/>
<text x="229.2" y="711.93" font-size="7.8" fill="#4D4D4D" text-anchor="end">0.0</text>
<line x1="230.7" y1="752.8" x2="233.3" y2="752.8" stroke="#333" stroke-width="0.8"/>
<text x="229.2" y="755.53" font-size="7.8" fill="#4D4D4D" text-anchor="end">-0.5</text>
<line x1="230.7" y1="796.4" x2="233.3" y2="796.4" stroke="#333" stroke-width="0.8"/>
<text x="229.2" y="799.13" font-size="7.8" fill="#4D4D4D" text-anchor="end">-1.0</text>
<line x1="258.3" y1="817.8" x2="258.3" y2="820.4" stroke="#333" stroke-width="0.8"/>
<text x="258.3" y="827.59" font-size="7.4" fill="#4D4D4D" text-anchor="middle">DMSO</text>
<line x1="298.4" y1="817.8" x2="298.4" y2="820.4" stroke="#333" stroke-width="0.8"/>
<text x="298.4" y="827.59" font-size="7.4" fill="#4D4D4D" text-anchor="middle">KU</text>
<text x="277.9" y="839.3" font-size="9.43" fill="#000" text-anchor="middle">description</text>
<text x="211.9" y="700.4" font-size="9.42" fill="#000" text-anchor="middle" transform="rotate(-90 211.9 700.4)">normalized gene expression (Zscore)</text>
<text x="232.6" y="566.82" font-size="11.2" fill="#000">Grik5</text>
<text x="239.6" y="580.2" font-size="9.15" fill="#000" textLength="97.4" lengthAdjust="spacingAndGlyphs">Log2 fold-change =  -0,9</text>
<circle cx="258.3" cy="594.8" r="2" fill="#F8766D"/>
<circle cx="255" cy="621.7" r="2" fill="#F8766D"/>
<circle cx="253.1" cy="632.7" r="2" fill="#F8766D"/>
<circle cx="253.1" cy="673.8" r="2" fill="#F8766D"/>
<circle cx="294.5" cy="762.6" r="2" fill="#00BFC4"/>
<circle cx="299.1" cy="788.8" r="2" fill="#00BFC4"/>
<circle cx="296.3" cy="790.4" r="2" fill="#00BFC4"/>
<circle cx="294.5" cy="806.8" r="2" fill="#00BFC4"/>
<text x="279.5" y="594.89" font-size="9.4" fill="#F8766D" text-anchor="middle">DMSO-8</text>
<text x="254.9" y="617.09" font-size="9.4" fill="#F8766D" text-anchor="middle">DMSO-7</text>
<text x="254.7" y="643.89" font-size="9.4" fill="#F8766D" text-anchor="middle">DMSO-5</text>
<text x="259.9" y="668.89" font-size="9.4" fill="#F8766D" text-anchor="middle">DMSO-4</text>
<text x="284" y="770.89" font-size="9.4" fill="#00BFC4" text-anchor="middle">KU-4</text>
<text x="301" y="784.39" font-size="9.4" fill="#00BFC4" text-anchor="middle">KU-5</text>
<text x="284" y="801.19" font-size="9.4" fill="#00BFC4" text-anchor="middle">KU-2</text>
<text x="308.5" y="814.79" font-size="9.4" fill="#00BFC4" text-anchor="middle">KU-3</text>
<rect x="404" y="584.6" width="89.3" height="232.7" fill="#EBEBEB"/>
<line x1="404" y1="586.8" x2="493.3" y2="586.8" stroke="#F5F5F5" stroke-width="0.55"/>
<line x1="404" y1="629.4" x2="493.3" y2="629.4" stroke="#F5F5F5" stroke-width="0.55"/>
<line x1="404" y1="672" x2="493.3" y2="672" stroke="#F5F5F5" stroke-width="0.55"/>
<line x1="404" y1="714.6" x2="493.3" y2="714.6" stroke="#F5F5F5" stroke-width="0.55"/>
<line x1="404" y1="757.2" x2="493.3" y2="757.2" stroke="#F5F5F5" stroke-width="0.55"/>
<line x1="404" y1="799.8" x2="493.3" y2="799.8" stroke="#F5F5F5" stroke-width="0.55"/>
<line x1="404" y1="608.1" x2="493.3" y2="608.1" stroke="#FFFFFF" stroke-width="1"/>
<line x1="404" y1="650.7" x2="493.3" y2="650.7" stroke="#FFFFFF" stroke-width="1"/>
<line x1="404" y1="693.3" x2="493.3" y2="693.3" stroke="#FFFFFF" stroke-width="1"/>
<line x1="404" y1="735.9" x2="493.3" y2="735.9" stroke="#FFFFFF" stroke-width="1"/>
<line x1="404" y1="778.5" x2="493.3" y2="778.5" stroke="#FFFFFF" stroke-width="1"/>
<line x1="428.1" y1="584.6" x2="428.1" y2="817.3" stroke="#FFFFFF" stroke-width="1"/>
<line x1="469.3" y1="584.6" x2="469.3" y2="817.3" stroke="#FFFFFF" stroke-width="1"/>
<line x1="401.4" y1="608.1" x2="404" y2="608.1" stroke="#333" stroke-width="0.8"/>
<text x="400.2" y="610.83" font-size="7.8" fill="#4D4D4D" text-anchor="end">1.0</text>
<line x1="401.4" y1="650.7" x2="404" y2="650.7" stroke="#333" stroke-width="0.8"/>
<text x="400.2" y="653.43" font-size="7.8" fill="#4D4D4D" text-anchor="end">0.5</text>
<line x1="401.4" y1="693.3" x2="404" y2="693.3" stroke="#333" stroke-width="0.8"/>
<text x="400.2" y="696.03" font-size="7.8" fill="#4D4D4D" text-anchor="end">0.0</text>
<line x1="401.4" y1="735.9" x2="404" y2="735.9" stroke="#333" stroke-width="0.8"/>
<text x="400.2" y="738.63" font-size="7.8" fill="#4D4D4D" text-anchor="end">-0.5</text>
<line x1="401.4" y1="778.5" x2="404" y2="778.5" stroke="#333" stroke-width="0.8"/>
<text x="400.2" y="781.23" font-size="7.8" fill="#4D4D4D" text-anchor="end">-1.0</text>
<line x1="428.1" y1="817.3" x2="428.1" y2="819.9" stroke="#333" stroke-width="0.8"/>
<text x="428.1" y="827.59" font-size="7.4" fill="#4D4D4D" text-anchor="middle">DMSO</text>
<line x1="469.3" y1="817.3" x2="469.3" y2="819.9" stroke="#333" stroke-width="0.8"/>
<text x="469.3" y="827.59" font-size="7.4" fill="#4D4D4D" text-anchor="middle">KU</text>
<text x="448.65" y="839.3" font-size="9.43" fill="#000" text-anchor="middle">description</text>
<text x="382.8" y="700.4" font-size="9.42" fill="#000" text-anchor="middle" transform="rotate(-90 382.8 700.4)">normalized gene expression (Zscore)</text>
<text x="403.4" y="566.82" font-size="11.2" fill="#000">Slc12a5</text>
<text x="412.9" y="580.2" font-size="9.15" fill="#000" textLength="93.9" lengthAdjust="spacingAndGlyphs">Log2 fold-change= -0,3</text>
<circle cx="427.9" cy="594.4" r="2" fill="#F8766D"/>
<circle cx="424.4" cy="602.6" r="2" fill="#F8766D"/>
<circle cx="429.7" cy="621.5" r="2" fill="#F8766D"/>
<circle cx="424.6" cy="650.7" r="2" fill="#F8766D"/>
<circle cx="469.7" cy="742.1" r="2" fill="#00BFC4"/>
<circle cx="467.8" cy="747.7" r="2" fill="#00BFC4"/>
<circle cx="467.8" cy="780.4" r="2" fill="#00BFC4"/>
<circle cx="467.8" cy="806.8" r="2" fill="#00BFC4"/>
<text x="450.4" y="594.19" font-size="9.4" fill="#F8766D" text-anchor="middle">DMSO-7</text>
<text x="430.9" y="613.99" font-size="9.4" fill="#F8766D" text-anchor="middle">DMSO-8</text>
<text x="425.5" y="633.19" font-size="9.4" fill="#F8766D" text-anchor="middle">DMSO-4</text>
<text x="430.9" y="646.49" font-size="9.4" fill="#F8766D" text-anchor="middle">DMSO-5</text>
<text x="466" y="737.69" font-size="9.4" fill="#00BFC4" text-anchor="middle">KU-5</text>
<text x="471.8" y="759.19" font-size="9.4" fill="#00BFC4" text-anchor="middle">KU-4</text>
<text x="466" y="791.89" font-size="9.4" fill="#00BFC4" text-anchor="middle">KU-2</text>
<text x="454.3" y="814.09" font-size="9.4" fill="#00BFC4" text-anchor="middle">KU-3</text>
<rect x="567" y="584.6" width="95.4" height="232.7" fill="#EBEBEB"/>
<line x1="567" y1="617.25" x2="662.4" y2="617.25" stroke="#F5F5F5" stroke-width="0.55"/>
<line x1="567" y1="690.15" x2="662.4" y2="690.15" stroke="#F5F5F5" stroke-width="0.55"/>
<line x1="567" y1="763.05" x2="662.4" y2="763.05" stroke="#F5F5F5" stroke-width="0.55"/>
<line x1="567" y1="653.7" x2="662.4" y2="653.7" stroke="#FFFFFF" stroke-width="1"/>
<line x1="567" y1="726.6" x2="662.4" y2="726.6" stroke="#FFFFFF" stroke-width="1"/>
<line x1="567" y1="799.5" x2="662.4" y2="799.5" stroke="#FFFFFF" stroke-width="1"/>
<line x1="592.7" y1="584.6" x2="592.7" y2="817.3" stroke="#FFFFFF" stroke-width="1"/>
<line x1="636.7" y1="584.6" x2="636.7" y2="817.3" stroke="#FFFFFF" stroke-width="1"/>
<line x1="564.4" y1="653.7" x2="567" y2="653.7" stroke="#333" stroke-width="0.8"/>
<text x="561.4" y="656.43" font-size="7.8" fill="#4D4D4D" text-anchor="end">1</text>
<line x1="564.4" y1="726.6" x2="567" y2="726.6" stroke="#333" stroke-width="0.8"/>
<text x="561.4" y="729.33" font-size="7.8" fill="#4D4D4D" text-anchor="end">0</text>
<line x1="564.4" y1="799.5" x2="567" y2="799.5" stroke="#333" stroke-width="0.8"/>
<text x="561.4" y="802.23" font-size="7.8" fill="#4D4D4D" text-anchor="end">-1</text>
<line x1="592.7" y1="817.3" x2="592.7" y2="819.9" stroke="#333" stroke-width="0.8"/>
<text x="592.7" y="827.59" font-size="7.4" fill="#4D4D4D" text-anchor="middle">DMSO</text>
<line x1="636.7" y1="817.3" x2="636.7" y2="819.9" stroke="#333" stroke-width="0.8"/>
<text x="636.7" y="827.59" font-size="7.4" fill="#4D4D4D" text-anchor="middle">KU</text>
<text x="614.7" y="839.3" font-size="9.43" fill="#000" text-anchor="middle">description</text>
<text x="552.2" y="700.4" font-size="9.42" fill="#000" text-anchor="middle" transform="rotate(-90 552.2 700.4)">normalized gene expression (Zscore)</text>
<text x="564.7" y="566.82" font-size="11.2" fill="#000">Slc12a1</text>
<text x="573.6" y="580.2" font-size="9.15" fill="#000" textLength="96.7" lengthAdjust="spacingAndGlyphs">Log2 fold-change =2,55</text>
<circle cx="640.2" cy="594.4" r="2" fill="#00BFC4"/>
<circle cx="632.5" cy="658.2" r="2" fill="#00BFC4"/>
<circle cx="634.3" cy="691.8" r="2" fill="#00BFC4"/>
<circle cx="632.2" cy="732.7" r="2" fill="#00BFC4"/>
<circle cx="591.6" cy="775.3" r="2" fill="#F8766D"/>
<circle cx="595" cy="777.6" r="2" fill="#F8766D"/>
<circle cx="592.7" cy="775.3" r="2" fill="#F8766D"/>
<circle cx="596" cy="775" r="2" fill="#F8766D"/>
<circle cx="592.7" cy="806.3" r="2" fill="#F8766D"/>
<text x="648.5" y="594.89" font-size="9.4" fill="#00BFC4" text-anchor="middle">KU-4</text>
<text x="633.2" y="669.39" font-size="9.4" fill="#00BFC4" text-anchor="middle">KU-3</text>
<text x="639.5" y="687.59" font-size="9.4" fill="#00BFC4" text-anchor="middle">KU-2</text>
<text x="633.2" y="743.99" font-size="9.4" fill="#00BFC4" text-anchor="middle">KU-5</text>
<text x="588.5" y="765.19" font-size="9.4" fill="#F8766D" text-anchor="middle">DMSO-8</text>
<text x="616.7" y="778.99" font-size="9.4" fill="#F8766D" text-anchor="middle">DMSO-7</text>
<text x="588.5" y="792.09" font-size="9.4" fill="#F8766D" text-anchor="middle">DMSO-4</text>
<text x="588.5" y="814.09" font-size="9.4" fill="#F8766D" text-anchor="middle">DMSO-5</text>
</svg>
</body></html>
